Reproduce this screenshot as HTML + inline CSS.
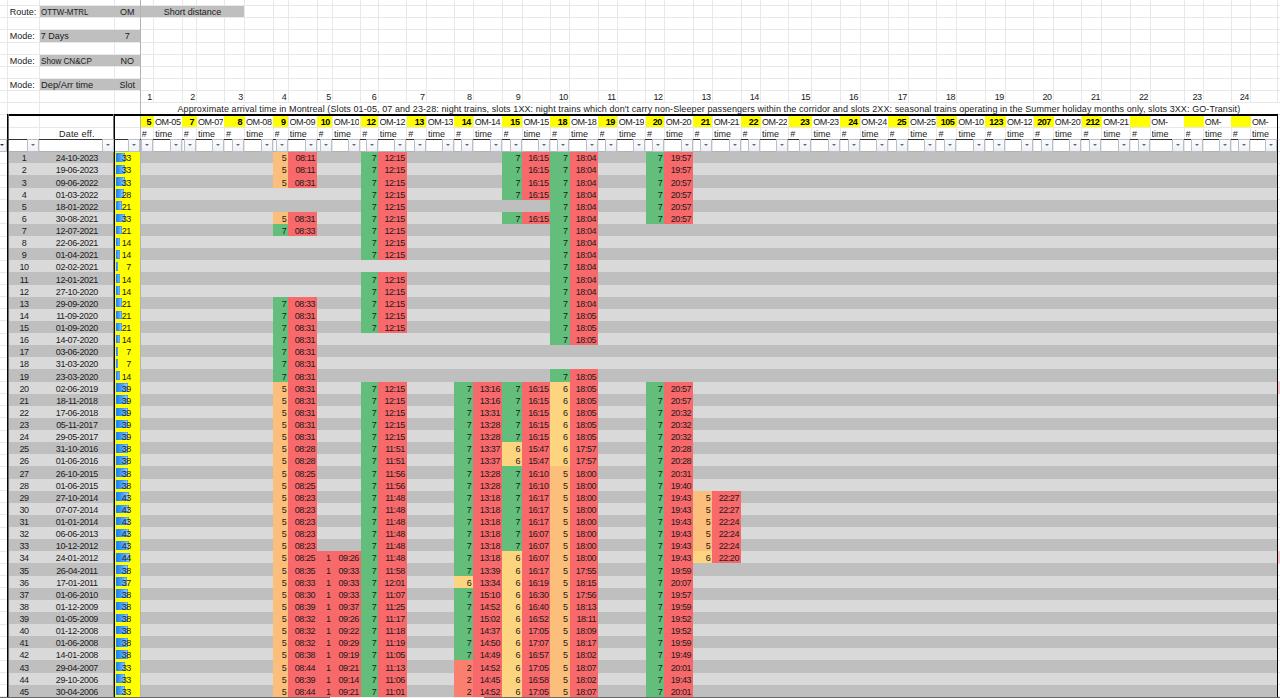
<!DOCTYPE html>
<html><head><meta charset="utf-8"><style>
html,body{margin:0;padding:0;background:#fff;width:1280px;height:698px;overflow:hidden;position:relative}
.r{position:absolute}
.t{position:absolute;font-family:"Liberation Sans",sans-serif;font-size:9.0px;color:#1b1b1b;white-space:nowrap;overflow:hidden}
.b{font-weight:bold;color:#000}
.n{letter-spacing:-0.45px;overflow:visible}
.d{letter-spacing:-0.4px}
.appr{overflow:visible}
.btn{position:absolute;box-sizing:border-box;width:12px;height:13px;border:1px solid #B9BFC8;background:linear-gradient(#FDFDFE,#EDF0F5)}
.btn i{position:absolute;left:3px;top:4px;width:0;height:0;border-left:2.5px solid transparent;border-right:2.5px solid transparent;border-top:2px solid #6a6a6a}
</style></head><body>
<div class="r" style="left:7px;top:0px;width:1px;height:151px;background:#E8E8E8;"></div>
<div class="r" style="left:39px;top:0px;width:1px;height:151px;background:#E8E8E8;"></div>
<div class="r" style="left:114px;top:0px;width:1px;height:151px;background:#E8E8E8;"></div>
<div class="r" style="left:140px;top:0px;width:1px;height:102px;background:#E8E8E8;"></div>
<div class="r" style="left:140px;top:115px;width:1px;height:36px;background:#E8E8E8;"></div>
<div class="r" style="left:153px;top:0px;width:1px;height:102px;background:#E8E8E8;"></div>
<div class="r" style="left:153px;top:115px;width:1px;height:36px;background:#E8E8E8;"></div>
<div class="r" style="left:182px;top:0px;width:1px;height:102px;background:#E8E8E8;"></div>
<div class="r" style="left:182px;top:115px;width:1px;height:36px;background:#E8E8E8;"></div>
<div class="r" style="left:196px;top:0px;width:1px;height:102px;background:#E8E8E8;"></div>
<div class="r" style="left:196px;top:115px;width:1px;height:36px;background:#E8E8E8;"></div>
<div class="r" style="left:224px;top:0px;width:1px;height:102px;background:#E8E8E8;"></div>
<div class="r" style="left:224px;top:115px;width:1px;height:36px;background:#E8E8E8;"></div>
<div class="r" style="left:244px;top:0px;width:1px;height:102px;background:#E8E8E8;"></div>
<div class="r" style="left:244px;top:115px;width:1px;height:36px;background:#E8E8E8;"></div>
<div class="r" style="left:273px;top:0px;width:1px;height:102px;background:#E8E8E8;"></div>
<div class="r" style="left:273px;top:115px;width:1px;height:36px;background:#E8E8E8;"></div>
<div class="r" style="left:288px;top:0px;width:1px;height:102px;background:#E8E8E8;"></div>
<div class="r" style="left:288px;top:115px;width:1px;height:36px;background:#E8E8E8;"></div>
<div class="r" style="left:317px;top:0px;width:1px;height:102px;background:#E8E8E8;"></div>
<div class="r" style="left:317px;top:115px;width:1px;height:36px;background:#E8E8E8;"></div>
<div class="r" style="left:332px;top:0px;width:1px;height:102px;background:#E8E8E8;"></div>
<div class="r" style="left:332px;top:115px;width:1px;height:36px;background:#E8E8E8;"></div>
<div class="r" style="left:360px;top:0px;width:1px;height:102px;background:#E8E8E8;"></div>
<div class="r" style="left:360px;top:115px;width:1px;height:36px;background:#E8E8E8;"></div>
<div class="r" style="left:378px;top:0px;width:1px;height:102px;background:#E8E8E8;"></div>
<div class="r" style="left:378px;top:115px;width:1px;height:36px;background:#E8E8E8;"></div>
<div class="r" style="left:406px;top:0px;width:1px;height:102px;background:#E8E8E8;"></div>
<div class="r" style="left:406px;top:115px;width:1px;height:36px;background:#E8E8E8;"></div>
<div class="r" style="left:426px;top:0px;width:1px;height:102px;background:#E8E8E8;"></div>
<div class="r" style="left:426px;top:115px;width:1px;height:36px;background:#E8E8E8;"></div>
<div class="r" style="left:454px;top:0px;width:1px;height:102px;background:#E8E8E8;"></div>
<div class="r" style="left:454px;top:115px;width:1px;height:36px;background:#E8E8E8;"></div>
<div class="r" style="left:473px;top:0px;width:1px;height:102px;background:#E8E8E8;"></div>
<div class="r" style="left:473px;top:115px;width:1px;height:36px;background:#E8E8E8;"></div>
<div class="r" style="left:502px;top:0px;width:1px;height:102px;background:#E8E8E8;"></div>
<div class="r" style="left:502px;top:115px;width:1px;height:36px;background:#E8E8E8;"></div>
<div class="r" style="left:522px;top:0px;width:1px;height:102px;background:#E8E8E8;"></div>
<div class="r" style="left:522px;top:115px;width:1px;height:36px;background:#E8E8E8;"></div>
<div class="r" style="left:550px;top:0px;width:1px;height:102px;background:#E8E8E8;"></div>
<div class="r" style="left:550px;top:115px;width:1px;height:36px;background:#E8E8E8;"></div>
<div class="r" style="left:569px;top:0px;width:1px;height:102px;background:#E8E8E8;"></div>
<div class="r" style="left:569px;top:115px;width:1px;height:36px;background:#E8E8E8;"></div>
<div class="r" style="left:598px;top:0px;width:1px;height:102px;background:#E8E8E8;"></div>
<div class="r" style="left:598px;top:115px;width:1px;height:36px;background:#E8E8E8;"></div>
<div class="r" style="left:617px;top:0px;width:1px;height:102px;background:#E8E8E8;"></div>
<div class="r" style="left:617px;top:115px;width:1px;height:36px;background:#E8E8E8;"></div>
<div class="r" style="left:645px;top:0px;width:1px;height:102px;background:#E8E8E8;"></div>
<div class="r" style="left:645px;top:115px;width:1px;height:36px;background:#E8E8E8;"></div>
<div class="r" style="left:664px;top:0px;width:1px;height:102px;background:#E8E8E8;"></div>
<div class="r" style="left:664px;top:115px;width:1px;height:36px;background:#E8E8E8;"></div>
<div class="r" style="left:693px;top:0px;width:1px;height:102px;background:#E8E8E8;"></div>
<div class="r" style="left:693px;top:115px;width:1px;height:36px;background:#E8E8E8;"></div>
<div class="r" style="left:712px;top:0px;width:1px;height:102px;background:#E8E8E8;"></div>
<div class="r" style="left:712px;top:115px;width:1px;height:36px;background:#E8E8E8;"></div>
<div class="r" style="left:741px;top:0px;width:1px;height:102px;background:#E8E8E8;"></div>
<div class="r" style="left:741px;top:115px;width:1px;height:36px;background:#E8E8E8;"></div>
<div class="r" style="left:760px;top:0px;width:1px;height:102px;background:#E8E8E8;"></div>
<div class="r" style="left:760px;top:115px;width:1px;height:36px;background:#E8E8E8;"></div>
<div class="r" style="left:788px;top:0px;width:1px;height:102px;background:#E8E8E8;"></div>
<div class="r" style="left:788px;top:115px;width:1px;height:36px;background:#E8E8E8;"></div>
<div class="r" style="left:811px;top:0px;width:1px;height:102px;background:#E8E8E8;"></div>
<div class="r" style="left:811px;top:115px;width:1px;height:36px;background:#E8E8E8;"></div>
<div class="r" style="left:840px;top:0px;width:1px;height:102px;background:#E8E8E8;"></div>
<div class="r" style="left:840px;top:115px;width:1px;height:36px;background:#E8E8E8;"></div>
<div class="r" style="left:860px;top:0px;width:1px;height:102px;background:#E8E8E8;"></div>
<div class="r" style="left:860px;top:115px;width:1px;height:36px;background:#E8E8E8;"></div>
<div class="r" style="left:888px;top:0px;width:1px;height:102px;background:#E8E8E8;"></div>
<div class="r" style="left:888px;top:115px;width:1px;height:36px;background:#E8E8E8;"></div>
<div class="r" style="left:908px;top:0px;width:1px;height:102px;background:#E8E8E8;"></div>
<div class="r" style="left:908px;top:115px;width:1px;height:36px;background:#E8E8E8;"></div>
<div class="r" style="left:936px;top:0px;width:1px;height:102px;background:#E8E8E8;"></div>
<div class="r" style="left:936px;top:115px;width:1px;height:36px;background:#E8E8E8;"></div>
<div class="r" style="left:956px;top:0px;width:1px;height:102px;background:#E8E8E8;"></div>
<div class="r" style="left:956px;top:115px;width:1px;height:36px;background:#E8E8E8;"></div>
<div class="r" style="left:985px;top:0px;width:1px;height:102px;background:#E8E8E8;"></div>
<div class="r" style="left:985px;top:115px;width:1px;height:36px;background:#E8E8E8;"></div>
<div class="r" style="left:1005px;top:0px;width:1px;height:102px;background:#E8E8E8;"></div>
<div class="r" style="left:1005px;top:115px;width:1px;height:36px;background:#E8E8E8;"></div>
<div class="r" style="left:1033px;top:0px;width:1px;height:102px;background:#E8E8E8;"></div>
<div class="r" style="left:1033px;top:115px;width:1px;height:36px;background:#E8E8E8;"></div>
<div class="r" style="left:1053px;top:0px;width:1px;height:102px;background:#E8E8E8;"></div>
<div class="r" style="left:1053px;top:115px;width:1px;height:36px;background:#E8E8E8;"></div>
<div class="r" style="left:1081px;top:0px;width:1px;height:102px;background:#E8E8E8;"></div>
<div class="r" style="left:1081px;top:115px;width:1px;height:36px;background:#E8E8E8;"></div>
<div class="r" style="left:1101px;top:0px;width:1px;height:102px;background:#E8E8E8;"></div>
<div class="r" style="left:1101px;top:115px;width:1px;height:36px;background:#E8E8E8;"></div>
<div class="r" style="left:1130px;top:0px;width:1px;height:102px;background:#E8E8E8;"></div>
<div class="r" style="left:1130px;top:115px;width:1px;height:36px;background:#E8E8E8;"></div>
<div class="r" style="left:1150px;top:0px;width:1px;height:102px;background:#E8E8E8;"></div>
<div class="r" style="left:1150px;top:115px;width:1px;height:36px;background:#E8E8E8;"></div>
<div class="r" style="left:1184px;top:0px;width:1px;height:102px;background:#E8E8E8;"></div>
<div class="r" style="left:1184px;top:115px;width:1px;height:36px;background:#E8E8E8;"></div>
<div class="r" style="left:1203px;top:0px;width:1px;height:102px;background:#E8E8E8;"></div>
<div class="r" style="left:1203px;top:115px;width:1px;height:36px;background:#E8E8E8;"></div>
<div class="r" style="left:1231px;top:0px;width:1px;height:102px;background:#E8E8E8;"></div>
<div class="r" style="left:1231px;top:115px;width:1px;height:36px;background:#E8E8E8;"></div>
<div class="r" style="left:1250px;top:0px;width:1px;height:102px;background:#E8E8E8;"></div>
<div class="r" style="left:1250px;top:115px;width:1px;height:36px;background:#E8E8E8;"></div>
<div class="r" style="left:1277px;top:0px;width:1px;height:102px;background:#E8E8E8;"></div>
<div class="r" style="left:1277px;top:115px;width:1px;height:36px;background:#E8E8E8;"></div>
<div class="r" style="left:0px;top:5px;width:1280px;height:1px;background:#E8E8E8;"></div>
<div class="r" style="left:0px;top:17px;width:1280px;height:1px;background:#E8E8E8;"></div>
<div class="r" style="left:0px;top:29px;width:1280px;height:1px;background:#E8E8E8;"></div>
<div class="r" style="left:0px;top:42px;width:1280px;height:1px;background:#E8E8E8;"></div>
<div class="r" style="left:0px;top:54px;width:1280px;height:1px;background:#E8E8E8;"></div>
<div class="r" style="left:0px;top:66px;width:1280px;height:1px;background:#E8E8E8;"></div>
<div class="r" style="left:0px;top:78px;width:1280px;height:1px;background:#E8E8E8;"></div>
<div class="r" style="left:0px;top:90px;width:1280px;height:1px;background:#E8E8E8;"></div>
<div class="r" style="left:0px;top:102px;width:1280px;height:1px;background:#E8E8E8;"></div>
<div class="r" style="left:0px;top:114px;width:1280px;height:1px;background:#E8E8E8;"></div>
<div class="r" style="left:0px;top:127px;width:1280px;height:1px;background:#E8E8E8;"></div>
<div class="r" style="left:0px;top:139px;width:1280px;height:1px;background:#E8E8E8;"></div>
<div class="r" style="left:0px;top:151px;width:1280px;height:1px;background:#E8E8E8;"></div>
<div class="r" style="left:0px;top:151px;width:7px;height:1px;background:#E8E8E8;"></div>
<div class="r" style="left:1278px;top:151px;width:2px;height:1px;background:#E8E8E8;"></div>
<div class="r" style="left:0px;top:163px;width:7px;height:1px;background:#E8E8E8;"></div>
<div class="r" style="left:1278px;top:163px;width:2px;height:1px;background:#E8E8E8;"></div>
<div class="r" style="left:0px;top:175px;width:7px;height:1px;background:#E8E8E8;"></div>
<div class="r" style="left:1278px;top:175px;width:2px;height:1px;background:#E8E8E8;"></div>
<div class="r" style="left:0px;top:187px;width:7px;height:1px;background:#E8E8E8;"></div>
<div class="r" style="left:1278px;top:187px;width:2px;height:1px;background:#E8E8E8;"></div>
<div class="r" style="left:0px;top:199px;width:7px;height:1px;background:#E8E8E8;"></div>
<div class="r" style="left:1278px;top:199px;width:2px;height:1px;background:#E8E8E8;"></div>
<div class="r" style="left:0px;top:211px;width:7px;height:1px;background:#E8E8E8;"></div>
<div class="r" style="left:1278px;top:211px;width:2px;height:1px;background:#E8E8E8;"></div>
<div class="r" style="left:0px;top:223px;width:7px;height:1px;background:#E8E8E8;"></div>
<div class="r" style="left:1278px;top:223px;width:2px;height:1px;background:#E8E8E8;"></div>
<div class="r" style="left:0px;top:236px;width:7px;height:1px;background:#E8E8E8;"></div>
<div class="r" style="left:1278px;top:236px;width:2px;height:1px;background:#E8E8E8;"></div>
<div class="r" style="left:0px;top:248px;width:7px;height:1px;background:#E8E8E8;"></div>
<div class="r" style="left:1278px;top:248px;width:2px;height:1px;background:#E8E8E8;"></div>
<div class="r" style="left:0px;top:260px;width:7px;height:1px;background:#E8E8E8;"></div>
<div class="r" style="left:1278px;top:260px;width:2px;height:1px;background:#E8E8E8;"></div>
<div class="r" style="left:0px;top:272px;width:7px;height:1px;background:#E8E8E8;"></div>
<div class="r" style="left:1278px;top:272px;width:2px;height:1px;background:#E8E8E8;"></div>
<div class="r" style="left:0px;top:284px;width:7px;height:1px;background:#E8E8E8;"></div>
<div class="r" style="left:1278px;top:284px;width:2px;height:1px;background:#E8E8E8;"></div>
<div class="r" style="left:0px;top:296px;width:7px;height:1px;background:#E8E8E8;"></div>
<div class="r" style="left:1278px;top:296px;width:2px;height:1px;background:#E8E8E8;"></div>
<div class="r" style="left:0px;top:308px;width:7px;height:1px;background:#E8E8E8;"></div>
<div class="r" style="left:1278px;top:308px;width:2px;height:1px;background:#E8E8E8;"></div>
<div class="r" style="left:0px;top:320px;width:7px;height:1px;background:#E8E8E8;"></div>
<div class="r" style="left:1278px;top:320px;width:2px;height:1px;background:#E8E8E8;"></div>
<div class="r" style="left:0px;top:333px;width:7px;height:1px;background:#E8E8E8;"></div>
<div class="r" style="left:1278px;top:333px;width:2px;height:1px;background:#E8E8E8;"></div>
<div class="r" style="left:0px;top:345px;width:7px;height:1px;background:#E8E8E8;"></div>
<div class="r" style="left:1278px;top:345px;width:2px;height:1px;background:#E8E8E8;"></div>
<div class="r" style="left:0px;top:357px;width:7px;height:1px;background:#E8E8E8;"></div>
<div class="r" style="left:1278px;top:357px;width:2px;height:1px;background:#E8E8E8;"></div>
<div class="r" style="left:0px;top:369px;width:7px;height:1px;background:#E8E8E8;"></div>
<div class="r" style="left:1278px;top:369px;width:2px;height:1px;background:#E8E8E8;"></div>
<div class="r" style="left:0px;top:381px;width:7px;height:1px;background:#E8E8E8;"></div>
<div class="r" style="left:1278px;top:381px;width:2px;height:1px;background:#E8E8E8;"></div>
<div class="r" style="left:0px;top:393px;width:7px;height:1px;background:#E8E8E8;"></div>
<div class="r" style="left:1278px;top:393px;width:2px;height:1px;background:#E8E8E8;"></div>
<div class="r" style="left:0px;top:405px;width:7px;height:1px;background:#E8E8E8;"></div>
<div class="r" style="left:1278px;top:405px;width:2px;height:1px;background:#E8E8E8;"></div>
<div class="r" style="left:0px;top:417px;width:7px;height:1px;background:#E8E8E8;"></div>
<div class="r" style="left:1278px;top:417px;width:2px;height:1px;background:#E8E8E8;"></div>
<div class="r" style="left:0px;top:430px;width:7px;height:1px;background:#E8E8E8;"></div>
<div class="r" style="left:1278px;top:430px;width:2px;height:1px;background:#E8E8E8;"></div>
<div class="r" style="left:0px;top:442px;width:7px;height:1px;background:#E8E8E8;"></div>
<div class="r" style="left:1278px;top:442px;width:2px;height:1px;background:#E8E8E8;"></div>
<div class="r" style="left:0px;top:454px;width:7px;height:1px;background:#E8E8E8;"></div>
<div class="r" style="left:1278px;top:454px;width:2px;height:1px;background:#E8E8E8;"></div>
<div class="r" style="left:0px;top:466px;width:7px;height:1px;background:#E8E8E8;"></div>
<div class="r" style="left:1278px;top:466px;width:2px;height:1px;background:#E8E8E8;"></div>
<div class="r" style="left:0px;top:478px;width:7px;height:1px;background:#E8E8E8;"></div>
<div class="r" style="left:1278px;top:478px;width:2px;height:1px;background:#E8E8E8;"></div>
<div class="r" style="left:0px;top:490px;width:7px;height:1px;background:#E8E8E8;"></div>
<div class="r" style="left:1278px;top:490px;width:2px;height:1px;background:#E8E8E8;"></div>
<div class="r" style="left:0px;top:502px;width:7px;height:1px;background:#E8E8E8;"></div>
<div class="r" style="left:1278px;top:502px;width:2px;height:1px;background:#E8E8E8;"></div>
<div class="r" style="left:0px;top:514px;width:7px;height:1px;background:#E8E8E8;"></div>
<div class="r" style="left:1278px;top:514px;width:2px;height:1px;background:#E8E8E8;"></div>
<div class="r" style="left:0px;top:527px;width:7px;height:1px;background:#E8E8E8;"></div>
<div class="r" style="left:1278px;top:527px;width:2px;height:1px;background:#E8E8E8;"></div>
<div class="r" style="left:0px;top:539px;width:7px;height:1px;background:#E8E8E8;"></div>
<div class="r" style="left:1278px;top:539px;width:2px;height:1px;background:#E8E8E8;"></div>
<div class="r" style="left:0px;top:551px;width:7px;height:1px;background:#E8E8E8;"></div>
<div class="r" style="left:1278px;top:551px;width:2px;height:1px;background:#E8E8E8;"></div>
<div class="r" style="left:0px;top:563px;width:7px;height:1px;background:#E8E8E8;"></div>
<div class="r" style="left:1278px;top:563px;width:2px;height:1px;background:#E8E8E8;"></div>
<div class="r" style="left:0px;top:575px;width:7px;height:1px;background:#E8E8E8;"></div>
<div class="r" style="left:1278px;top:575px;width:2px;height:1px;background:#E8E8E8;"></div>
<div class="r" style="left:0px;top:587px;width:7px;height:1px;background:#E8E8E8;"></div>
<div class="r" style="left:1278px;top:587px;width:2px;height:1px;background:#E8E8E8;"></div>
<div class="r" style="left:0px;top:599px;width:7px;height:1px;background:#E8E8E8;"></div>
<div class="r" style="left:1278px;top:599px;width:2px;height:1px;background:#E8E8E8;"></div>
<div class="r" style="left:0px;top:611px;width:7px;height:1px;background:#E8E8E8;"></div>
<div class="r" style="left:1278px;top:611px;width:2px;height:1px;background:#E8E8E8;"></div>
<div class="r" style="left:0px;top:624px;width:7px;height:1px;background:#E8E8E8;"></div>
<div class="r" style="left:1278px;top:624px;width:2px;height:1px;background:#E8E8E8;"></div>
<div class="r" style="left:0px;top:636px;width:7px;height:1px;background:#E8E8E8;"></div>
<div class="r" style="left:1278px;top:636px;width:2px;height:1px;background:#E8E8E8;"></div>
<div class="r" style="left:0px;top:648px;width:7px;height:1px;background:#E8E8E8;"></div>
<div class="r" style="left:1278px;top:648px;width:2px;height:1px;background:#E8E8E8;"></div>
<div class="r" style="left:0px;top:660px;width:7px;height:1px;background:#E8E8E8;"></div>
<div class="r" style="left:1278px;top:660px;width:2px;height:1px;background:#E8E8E8;"></div>
<div class="r" style="left:0px;top:672px;width:7px;height:1px;background:#E8E8E8;"></div>
<div class="r" style="left:1278px;top:672px;width:2px;height:1px;background:#E8E8E8;"></div>
<div class="r" style="left:0px;top:684px;width:7px;height:1px;background:#E8E8E8;"></div>
<div class="r" style="left:1278px;top:684px;width:2px;height:1px;background:#E8E8E8;"></div>
<div class="r" style="left:0px;top:696px;width:7px;height:1px;background:#E8E8E8;"></div>
<div class="r" style="left:1278px;top:696px;width:2px;height:1px;background:#E8E8E8;"></div>
<div class="t" style="left:9.70px;top:6.10px;width:27.60px;height:12.10px;line-height:12.10px;text-align:left;">Route:</div>
<div class="r" style="left:40px;top:6px;width:100px;height:11px;background:#BFBFBF;"></div>
<div class="t" style="left:40.80px;top:6.10px;width:72.10px;height:12.10px;line-height:12.10px;text-align:left;transform:scaleX(0.88);transform-origin:0 0;overflow:visible;">OTTW-MTRL</div>
<div class="t" style="left:114.40px;top:6.10px;width:25.90px;height:12.10px;line-height:12.10px;text-align:center;">OM</div>
<div class="t" style="left:9.70px;top:30.30px;width:27.60px;height:12.20px;line-height:12.20px;text-align:left;">Mode:</div>
<div class="r" style="left:40px;top:30px;width:100px;height:12px;background:#BFBFBF;"></div>
<div class="t" style="left:40.80px;top:30.30px;width:72.10px;height:12.20px;line-height:12.20px;text-align:left;transform:scaleX(1);transform-origin:0 0;overflow:visible;">7 Days</div>
<div class="t" style="left:114.40px;top:30.30px;width:25.90px;height:12.20px;line-height:12.20px;text-align:center;">7</div>
<div class="t" style="left:9.70px;top:54.70px;width:27.60px;height:12.20px;line-height:12.20px;text-align:left;">Mode:</div>
<div class="r" style="left:40px;top:55px;width:100px;height:11px;background:#BFBFBF;"></div>
<div class="t" style="left:40.80px;top:54.70px;width:72.10px;height:12.20px;line-height:12.20px;text-align:left;transform:scaleX(0.9);transform-origin:0 0;overflow:visible;">Show CN&amp;CP</div>
<div class="t" style="left:114.40px;top:54.70px;width:25.90px;height:12.20px;line-height:12.20px;text-align:center;">NO</div>
<div class="t" style="left:9.70px;top:79.00px;width:27.60px;height:12.00px;line-height:12.00px;text-align:left;">Mode:</div>
<div class="r" style="left:40px;top:79px;width:100px;height:11px;background:#BFBFBF;"></div>
<div class="t" style="left:40.80px;top:79.00px;width:72.10px;height:12.00px;line-height:12.00px;text-align:left;transform:scaleX(1.035);transform-origin:0 0;overflow:visible;">Dep/Arr time</div>
<div class="t" style="left:114.40px;top:79.00px;width:25.90px;height:12.00px;line-height:12.00px;text-align:center;">Slot</div>
<div class="r" style="left:141px;top:6px;width:103px;height:11px;background:#BFBFBF;"></div>
<div class="t" style="left:140.30px;top:6.10px;width:104.40px;height:12.10px;line-height:12.10px;text-align:center;">Short distance</div>
<div class="t n" style="left:142.10px;top:91.50px;width:9.80px;height:11.80px;line-height:11.80px;text-align:right;">1</div>
<div class="t n" style="left:184.10px;top:91.50px;width:10.70px;height:11.80px;line-height:11.80px;text-align:right;">2</div>
<div class="t n" style="left:226.20px;top:91.50px;width:16.70px;height:11.80px;line-height:11.80px;text-align:right;">3</div>
<div class="t n" style="left:274.80px;top:91.50px;width:11.60px;height:11.80px;line-height:11.80px;text-align:right;">4</div>
<div class="t n" style="left:318.90px;top:91.50px;width:11.80px;height:11.80px;line-height:11.80px;text-align:right;">5</div>
<div class="t n" style="left:362.60px;top:91.50px;width:13.80px;height:11.80px;line-height:11.80px;text-align:right;">6</div>
<div class="t n" style="left:408.60px;top:91.50px;width:16.00px;height:11.80px;line-height:11.80px;text-align:right;">7</div>
<div class="t n" style="left:456.20px;top:91.50px;width:15.40px;height:11.80px;line-height:11.80px;text-align:right;">8</div>
<div class="t n" style="left:503.80px;top:91.50px;width:16.50px;height:11.80px;line-height:11.80px;text-align:right;">9</div>
<div class="t n" style="left:552.30px;top:91.50px;width:15.50px;height:11.80px;line-height:11.80px;text-align:right;">10</div>
<div class="t n" style="left:599.90px;top:91.50px;width:15.70px;height:11.80px;line-height:11.80px;text-align:right;">11</div>
<div class="t n" style="left:647.40px;top:91.50px;width:15.20px;height:11.80px;line-height:11.80px;text-align:right;">12</div>
<div class="t n" style="left:694.90px;top:91.50px;width:15.70px;height:11.80px;line-height:11.80px;text-align:right;">13</div>
<div class="t n" style="left:742.80px;top:91.50px;width:16.00px;height:11.80px;line-height:11.80px;text-align:right;">14</div>
<div class="t n" style="left:790.60px;top:91.50px;width:19.50px;height:11.80px;line-height:11.80px;text-align:right;">15</div>
<div class="t n" style="left:841.80px;top:91.50px;width:16.40px;height:11.80px;line-height:11.80px;text-align:right;">16</div>
<div class="t n" style="left:889.90px;top:91.50px;width:17.05px;height:11.80px;line-height:11.80px;text-align:right;">17</div>
<div class="t n" style="left:938.70px;top:91.50px;width:16.40px;height:11.80px;line-height:11.80px;text-align:right;">18</div>
<div class="t n" style="left:986.80px;top:91.50px;width:17.00px;height:11.80px;line-height:11.80px;text-align:right;">19</div>
<div class="t n" style="left:1035.30px;top:91.50px;width:16.40px;height:11.80px;line-height:11.80px;text-align:right;">20</div>
<div class="t n" style="left:1083.70px;top:91.50px;width:16.40px;height:11.80px;line-height:11.80px;text-align:right;">21</div>
<div class="t n" style="left:1132.20px;top:91.50px;width:16.00px;height:11.80px;line-height:11.80px;text-align:right;">22</div>
<div class="t n" style="left:1185.90px;top:91.50px;width:15.80px;height:11.80px;line-height:11.80px;text-align:right;">23</div>
<div class="t n" style="left:1233.05px;top:91.50px;width:15.75px;height:11.80px;line-height:11.80px;text-align:right;">24</div>
<div class="t appr" style="left:140.30px;top:102.80px;width:1137.20px;height:12.30px;line-height:12.30px;text-align:center;letter-spacing:0.09px;">Approximate arrival time in Montreal (Slots 01-05, 07 and 23-28: night trains, slots 1XX: night trains which don't carry non-Sleeper passengers within the corridor and slots 2XX: seasonal trains operating in the Summer holiday months only, slots 3XX: GO-Transit)</div>
<div class="r" style="left:140px;top:116px;width:14px;height:11px;background:#FFFF00;"></div>
<div class="t n b" style="left:142.90px;top:115.70px;width:8.20px;height:13.20px;line-height:13.20px;text-align:right;">5</div>
<div class="t" style="left:155.00px;top:115.70px;width:26.00px;height:13.20px;line-height:13.20px;text-align:left;letter-spacing:-0.4px;">OM-05</div>
<div class="t" style="left:141.80px;top:128.90px;width:10.40px;height:11.60px;line-height:11.60px;text-align:left;">#</div>
<div class="t" style="left:155.20px;top:128.90px;width:25.60px;height:11.60px;line-height:11.60px;text-align:left;">time</div>
<div class="r" style="left:182px;top:116px;width:15px;height:11px;background:#FFFF00;"></div>
<div class="t n b" style="left:184.90px;top:115.70px;width:9.10px;height:13.20px;line-height:13.20px;text-align:right;">7</div>
<div class="t" style="left:197.90px;top:115.70px;width:25.20px;height:13.20px;line-height:13.20px;text-align:left;letter-spacing:-0.4px;">OM-07</div>
<div class="t" style="left:183.80px;top:128.90px;width:11.30px;height:11.60px;line-height:11.60px;text-align:left;">#</div>
<div class="t" style="left:198.10px;top:128.90px;width:24.80px;height:11.60px;line-height:11.60px;text-align:left;">time</div>
<div class="r" style="left:224px;top:116px;width:21px;height:11px;background:#FFFF00;"></div>
<div class="t n b" style="left:227.00px;top:115.70px;width:15.10px;height:13.20px;line-height:13.20px;text-align:right;">8</div>
<div class="t" style="left:246.00px;top:115.70px;width:25.70px;height:13.20px;line-height:13.20px;text-align:left;letter-spacing:-0.4px;">OM-08</div>
<div class="t" style="left:225.90px;top:128.90px;width:17.30px;height:11.60px;line-height:11.60px;text-align:left;">#</div>
<div class="t" style="left:246.20px;top:128.90px;width:25.30px;height:11.60px;line-height:11.60px;text-align:left;">time</div>
<div class="r" style="left:273px;top:116px;width:15px;height:11px;background:#FFFF00;"></div>
<div class="t n b" style="left:275.60px;top:115.70px;width:10.00px;height:13.20px;line-height:13.20px;text-align:right;">9</div>
<div class="t" style="left:289.50px;top:115.70px;width:26.30px;height:13.20px;line-height:13.20px;text-align:left;letter-spacing:-0.4px;">OM-09</div>
<div class="t" style="left:274.50px;top:128.90px;width:12.20px;height:11.60px;line-height:11.60px;text-align:left;">#</div>
<div class="t" style="left:289.70px;top:128.90px;width:25.90px;height:11.60px;line-height:11.60px;text-align:left;">time</div>
<div class="r" style="left:317px;top:116px;width:15px;height:11px;background:#FFFF00;"></div>
<div class="t n b" style="left:319.70px;top:115.70px;width:10.20px;height:13.20px;line-height:13.20px;text-align:right;">10</div>
<div class="t" style="left:333.80px;top:115.70px;width:25.70px;height:13.20px;line-height:13.20px;text-align:left;letter-spacing:-0.4px;">OM-10</div>
<div class="t" style="left:318.60px;top:128.90px;width:12.40px;height:11.60px;line-height:11.60px;text-align:left;">#</div>
<div class="t" style="left:334.00px;top:128.90px;width:25.30px;height:11.60px;line-height:11.60px;text-align:left;">time</div>
<div class="r" style="left:361px;top:116px;width:17px;height:11px;background:#FFFF00;"></div>
<div class="t n b" style="left:363.40px;top:115.70px;width:12.20px;height:13.20px;line-height:13.20px;text-align:right;">12</div>
<div class="t" style="left:379.50px;top:115.70px;width:26.00px;height:13.20px;line-height:13.20px;text-align:left;letter-spacing:-0.4px;">OM-12</div>
<div class="t" style="left:362.30px;top:128.90px;width:14.40px;height:11.60px;line-height:11.60px;text-align:left;">#</div>
<div class="t" style="left:379.70px;top:128.90px;width:25.60px;height:11.60px;line-height:11.60px;text-align:left;">time</div>
<div class="r" style="left:407px;top:116px;width:19px;height:11px;background:#FFFF00;"></div>
<div class="t n b" style="left:409.40px;top:115.70px;width:14.40px;height:13.20px;line-height:13.20px;text-align:right;">13</div>
<div class="t" style="left:427.70px;top:115.70px;width:25.40px;height:13.20px;line-height:13.20px;text-align:left;letter-spacing:-0.4px;">OM-13</div>
<div class="t" style="left:408.30px;top:128.90px;width:16.60px;height:11.60px;line-height:11.60px;text-align:left;">#</div>
<div class="t" style="left:427.90px;top:128.90px;width:25.00px;height:11.60px;line-height:11.60px;text-align:left;">time</div>
<div class="r" style="left:454px;top:116px;width:19px;height:11px;background:#FFFF00;"></div>
<div class="t n b" style="left:457.00px;top:115.70px;width:13.80px;height:13.20px;line-height:13.20px;text-align:right;">14</div>
<div class="t" style="left:474.70px;top:115.70px;width:26.00px;height:13.20px;line-height:13.20px;text-align:left;letter-spacing:-0.4px;">OM-14</div>
<div class="t" style="left:455.90px;top:128.90px;width:16.00px;height:11.60px;line-height:11.60px;text-align:left;">#</div>
<div class="t" style="left:474.90px;top:128.90px;width:25.60px;height:11.60px;line-height:11.60px;text-align:left;">time</div>
<div class="r" style="left:502px;top:116px;width:20px;height:11px;background:#FFFF00;"></div>
<div class="t n b" style="left:504.60px;top:115.70px;width:14.90px;height:13.20px;line-height:13.20px;text-align:right;">15</div>
<div class="t" style="left:523.40px;top:115.70px;width:25.80px;height:13.20px;line-height:13.20px;text-align:left;letter-spacing:-0.4px;">OM-15</div>
<div class="t" style="left:503.50px;top:128.90px;width:17.10px;height:11.60px;line-height:11.60px;text-align:left;">#</div>
<div class="t" style="left:523.60px;top:128.90px;width:25.40px;height:11.60px;line-height:11.60px;text-align:left;">time</div>
<div class="r" style="left:550px;top:116px;width:20px;height:11px;background:#FFFF00;"></div>
<div class="t n b" style="left:553.10px;top:115.70px;width:13.90px;height:13.20px;line-height:13.20px;text-align:right;">18</div>
<div class="t" style="left:570.90px;top:115.70px;width:25.90px;height:13.20px;line-height:13.20px;text-align:left;letter-spacing:-0.4px;">OM-18</div>
<div class="t" style="left:552.00px;top:128.90px;width:16.10px;height:11.60px;line-height:11.60px;text-align:left;">#</div>
<div class="t" style="left:571.10px;top:128.90px;width:25.50px;height:11.60px;line-height:11.60px;text-align:left;">time</div>
<div class="r" style="left:598px;top:116px;width:19px;height:11px;background:#FFFF00;"></div>
<div class="t n b" style="left:600.70px;top:115.70px;width:14.10px;height:13.20px;line-height:13.20px;text-align:right;">19</div>
<div class="t" style="left:618.70px;top:115.70px;width:25.60px;height:13.20px;line-height:13.20px;text-align:left;letter-spacing:-0.4px;">OM-19</div>
<div class="t" style="left:599.60px;top:128.90px;width:16.30px;height:11.60px;line-height:11.60px;text-align:left;">#</div>
<div class="t" style="left:618.90px;top:128.90px;width:25.20px;height:11.60px;line-height:11.60px;text-align:left;">time</div>
<div class="r" style="left:646px;top:116px;width:18px;height:11px;background:#FFFF00;"></div>
<div class="t n b" style="left:648.20px;top:115.70px;width:13.60px;height:13.20px;line-height:13.20px;text-align:right;">20</div>
<div class="t" style="left:665.70px;top:115.70px;width:26.10px;height:13.20px;line-height:13.20px;text-align:left;letter-spacing:-0.4px;">OM-20</div>
<div class="t" style="left:647.10px;top:128.90px;width:15.80px;height:11.60px;line-height:11.60px;text-align:left;">#</div>
<div class="t" style="left:665.90px;top:128.90px;width:25.70px;height:11.60px;line-height:11.60px;text-align:left;">time</div>
<div class="r" style="left:693px;top:116px;width:19px;height:11px;background:#FFFF00;"></div>
<div class="t n b" style="left:695.70px;top:115.70px;width:14.10px;height:13.20px;line-height:13.20px;text-align:right;">21</div>
<div class="t" style="left:713.70px;top:115.70px;width:26.00px;height:13.20px;line-height:13.20px;text-align:left;letter-spacing:-0.4px;">OM-21</div>
<div class="t" style="left:694.60px;top:128.90px;width:16.30px;height:11.60px;line-height:11.60px;text-align:left;">#</div>
<div class="t" style="left:713.90px;top:128.90px;width:25.60px;height:11.60px;line-height:11.60px;text-align:left;">time</div>
<div class="r" style="left:741px;top:116px;width:20px;height:11px;background:#FFFF00;"></div>
<div class="t n b" style="left:743.60px;top:115.70px;width:14.40px;height:13.20px;line-height:13.20px;text-align:right;">22</div>
<div class="t" style="left:761.90px;top:115.70px;width:25.60px;height:13.20px;line-height:13.20px;text-align:left;letter-spacing:-0.4px;">OM-22</div>
<div class="t" style="left:742.50px;top:128.90px;width:16.60px;height:11.60px;line-height:11.60px;text-align:left;">#</div>
<div class="t" style="left:762.10px;top:128.90px;width:25.20px;height:11.60px;line-height:11.60px;text-align:left;">time</div>
<div class="r" style="left:789px;top:116px;width:23px;height:11px;background:#FFFF00;"></div>
<div class="t n b" style="left:791.40px;top:115.70px;width:17.90px;height:13.20px;line-height:13.20px;text-align:right;">23</div>
<div class="t" style="left:813.20px;top:115.70px;width:25.50px;height:13.20px;line-height:13.20px;text-align:left;letter-spacing:-0.4px;">OM-23</div>
<div class="t" style="left:790.30px;top:128.90px;width:20.10px;height:11.60px;line-height:11.60px;text-align:left;">#</div>
<div class="t" style="left:813.40px;top:128.90px;width:25.10px;height:11.60px;line-height:11.60px;text-align:left;">time</div>
<div class="r" style="left:840px;top:116px;width:20px;height:11px;background:#FFFF00;"></div>
<div class="t n b" style="left:842.60px;top:115.70px;width:14.80px;height:13.20px;line-height:13.20px;text-align:right;">24</div>
<div class="t" style="left:861.30px;top:115.70px;width:25.50px;height:13.20px;line-height:13.20px;text-align:left;letter-spacing:-0.4px;">OM-24</div>
<div class="t" style="left:841.50px;top:128.90px;width:17.00px;height:11.60px;line-height:11.60px;text-align:left;">#</div>
<div class="t" style="left:861.50px;top:128.90px;width:25.10px;height:11.60px;line-height:11.60px;text-align:left;">time</div>
<div class="r" style="left:888px;top:116px;width:21px;height:11px;background:#FFFF00;"></div>
<div class="t n b" style="left:890.70px;top:115.70px;width:15.45px;height:13.20px;line-height:13.20px;text-align:right;">25</div>
<div class="t" style="left:910.05px;top:115.70px;width:25.55px;height:13.20px;line-height:13.20px;text-align:left;letter-spacing:-0.4px;">OM-25</div>
<div class="t" style="left:889.60px;top:128.90px;width:17.65px;height:11.60px;line-height:11.60px;text-align:left;">#</div>
<div class="t" style="left:910.25px;top:128.90px;width:25.15px;height:11.60px;line-height:11.60px;text-align:left;">time</div>
<div class="r" style="left:937px;top:116px;width:20px;height:11px;background:#FFFF00;"></div>
<div class="t n b" style="left:939.50px;top:115.70px;width:14.80px;height:13.20px;line-height:13.20px;text-align:right;">105</div>
<div class="t" style="left:958.20px;top:115.70px;width:25.50px;height:13.20px;line-height:13.20px;text-align:left;letter-spacing:-0.4px;">OM-105</div>
<div class="t" style="left:938.40px;top:128.90px;width:17.00px;height:11.60px;line-height:11.60px;text-align:left;">#</div>
<div class="t" style="left:958.40px;top:128.90px;width:25.10px;height:11.60px;line-height:11.60px;text-align:left;">time</div>
<div class="r" style="left:985px;top:116px;width:21px;height:11px;background:#FFFF00;"></div>
<div class="t n b" style="left:987.60px;top:115.70px;width:15.40px;height:13.20px;line-height:13.20px;text-align:right;">123</div>
<div class="t" style="left:1006.90px;top:115.70px;width:25.30px;height:13.20px;line-height:13.20px;text-align:left;letter-spacing:-0.4px;">OM-123</div>
<div class="t" style="left:986.50px;top:128.90px;width:17.60px;height:11.60px;line-height:11.60px;text-align:left;">#</div>
<div class="t" style="left:1007.10px;top:128.90px;width:24.90px;height:11.60px;line-height:11.60px;text-align:left;">time</div>
<div class="r" style="left:1034px;top:116px;width:20px;height:11px;background:#FFFF00;"></div>
<div class="t n b" style="left:1036.10px;top:115.70px;width:14.80px;height:13.20px;line-height:13.20px;text-align:right;">207</div>
<div class="t" style="left:1054.80px;top:115.70px;width:25.80px;height:13.20px;line-height:13.20px;text-align:left;letter-spacing:-0.4px;">OM-207</div>
<div class="t" style="left:1035.00px;top:128.90px;width:17.00px;height:11.60px;line-height:11.60px;text-align:left;">#</div>
<div class="t" style="left:1055.00px;top:128.90px;width:25.40px;height:11.60px;line-height:11.60px;text-align:left;">time</div>
<div class="r" style="left:1082px;top:116px;width:20px;height:11px;background:#FFFF00;"></div>
<div class="t n b" style="left:1084.50px;top:115.70px;width:14.80px;height:13.20px;line-height:13.20px;text-align:right;">212</div>
<div class="t" style="left:1103.20px;top:115.70px;width:25.90px;height:13.20px;line-height:13.20px;text-align:left;letter-spacing:-0.4px;">OM-212</div>
<div class="t" style="left:1083.40px;top:128.90px;width:17.00px;height:11.60px;line-height:11.60px;text-align:left;">#</div>
<div class="t" style="left:1103.40px;top:128.90px;width:25.50px;height:11.60px;line-height:11.60px;text-align:left;">time</div>
<div class="r" style="left:1130px;top:116px;width:20px;height:11px;background:#FFFF00;"></div>
<div class="t" style="left:1151.30px;top:115.70px;width:31.50px;height:13.20px;line-height:13.20px;text-align:left;letter-spacing:-0.4px;">OM-</div>
<div class="t" style="left:1131.90px;top:128.90px;width:16.60px;height:11.60px;line-height:11.60px;text-align:left;">#</div>
<div class="t" style="left:1151.50px;top:128.90px;width:31.10px;height:11.60px;line-height:11.60px;text-align:left;">time</div>
<div class="r" style="left:1184px;top:116px;width:20px;height:11px;background:#FFFF00;"></div>
<div class="t" style="left:1204.80px;top:115.70px;width:25.15px;height:13.20px;line-height:13.20px;text-align:left;letter-spacing:-0.4px;">OM-</div>
<div class="t" style="left:1185.60px;top:128.90px;width:16.40px;height:11.60px;line-height:11.60px;text-align:left;">#</div>
<div class="t" style="left:1205.00px;top:128.90px;width:24.75px;height:11.60px;line-height:11.60px;text-align:left;">time</div>
<div class="r" style="left:1231px;top:116px;width:20px;height:11px;background:#FFFF00;"></div>
<div class="t" style="left:1251.90px;top:115.70px;width:24.30px;height:13.20px;line-height:13.20px;text-align:left;letter-spacing:-0.4px;">OM-</div>
<div class="t" style="left:1232.75px;top:128.90px;width:16.35px;height:11.60px;line-height:11.60px;text-align:left;">#</div>
<div class="t" style="left:1252.10px;top:128.90px;width:23.90px;height:11.60px;line-height:11.60px;text-align:left;">time</div>
<div class="t" style="left:39.30px;top:128.90px;width:75.10px;height:11.60px;line-height:11.60px;text-align:center;letter-spacing:0.2px;">Date eff.</div>
<div class="r" style="left:8px;top:151px;width:1270px;height:12px;background:#BFBFBF;"></div>
<div class="t n" style="left:8.70px;top:152.30px;width:30.60px;height:12.12px;line-height:12.12px;text-align:center;">1</div>
<div class="t n d" style="left:39.30px;top:152.30px;width:75.10px;height:12.12px;line-height:12.12px;text-align:center;">24-10-2023</div>
<div class="r" style="left:114px;top:151px;width:26px;height:12px;background:#FFFF00;"></div>
<div class="r" style="left:116.00px;top:152.90px;width:9.30px;height:8.73px;background:linear-gradient(90deg,#0A7CF5,#4FA6FA 55%,#A8D4FF);box-shadow:inset 0 0 0 0.6px #2F8AF0;"></div>
<div class="t n" style="left:116.00px;top:152.30px;width:14.90px;height:12.12px;line-height:12.12px;text-align:right;">33</div>
<div class="r" style="left:273px;top:151px;width:15px;height:12px;background:#FBBE7B;"></div>
<div class="r" style="left:288px;top:151px;width:29px;height:12px;background:#F8696B;"></div>
<div class="t n" style="left:275.00px;top:152.30px;width:11.20px;height:12.12px;line-height:12.12px;text-align:right;">5</div>
<div class="t n" style="left:290.20px;top:152.30px;width:24.90px;height:12.12px;line-height:12.12px;text-align:right;">08:11</div>
<div class="r" style="left:361px;top:151px;width:17px;height:12px;background:#63BE7B;"></div>
<div class="r" style="left:378px;top:151px;width:29px;height:12px;background:#F8696B;"></div>
<div class="t n" style="left:362.80px;top:152.30px;width:13.40px;height:12.12px;line-height:12.12px;text-align:right;">7</div>
<div class="t n" style="left:380.20px;top:152.30px;width:24.60px;height:12.12px;line-height:12.12px;text-align:right;">12:15</div>
<div class="r" style="left:502px;top:151px;width:20px;height:12px;background:#63BE7B;"></div>
<div class="r" style="left:522px;top:151px;width:28px;height:12px;background:#F8696B;"></div>
<div class="t n" style="left:504.00px;top:152.30px;width:16.10px;height:12.12px;line-height:12.12px;text-align:right;">7</div>
<div class="t n" style="left:524.10px;top:152.30px;width:24.40px;height:12.12px;line-height:12.12px;text-align:right;">16:15</div>
<div class="r" style="left:550px;top:151px;width:20px;height:12px;background:#63BE7B;"></div>
<div class="r" style="left:570px;top:151px;width:28px;height:12px;background:#F8696B;"></div>
<div class="t n" style="left:552.50px;top:152.30px;width:15.10px;height:12.12px;line-height:12.12px;text-align:right;">7</div>
<div class="t n" style="left:571.60px;top:152.30px;width:24.50px;height:12.12px;line-height:12.12px;text-align:right;">18:04</div>
<div class="r" style="left:646px;top:151px;width:18px;height:12px;background:#63BE7B;"></div>
<div class="r" style="left:664px;top:151px;width:29px;height:12px;background:#F8696B;"></div>
<div class="t n" style="left:647.60px;top:152.30px;width:14.80px;height:12.12px;line-height:12.12px;text-align:right;">7</div>
<div class="t n" style="left:666.40px;top:152.30px;width:24.70px;height:12.12px;line-height:12.12px;text-align:right;">19:57</div>
<div class="r" style="left:8px;top:163px;width:1270px;height:12px;background:#D9D9D9;"></div>
<div class="t n" style="left:8.70px;top:164.42px;width:30.60px;height:12.12px;line-height:12.12px;text-align:center;">2</div>
<div class="t n d" style="left:39.30px;top:164.42px;width:75.10px;height:12.12px;line-height:12.12px;text-align:center;">19-06-2023</div>
<div class="r" style="left:114px;top:163px;width:26px;height:12px;background:#FFFF00;"></div>
<div class="r" style="left:116.00px;top:165.02px;width:9.30px;height:8.73px;background:linear-gradient(90deg,#0A7CF5,#4FA6FA 55%,#A8D4FF);box-shadow:inset 0 0 0 0.6px #2F8AF0;"></div>
<div class="t n" style="left:116.00px;top:164.42px;width:14.90px;height:12.12px;line-height:12.12px;text-align:right;">33</div>
<div class="r" style="left:273px;top:163px;width:15px;height:12px;background:#FBBE7B;"></div>
<div class="r" style="left:288px;top:163px;width:29px;height:12px;background:#F8696B;"></div>
<div class="t n" style="left:275.00px;top:164.42px;width:11.20px;height:12.12px;line-height:12.12px;text-align:right;">5</div>
<div class="t n" style="left:290.20px;top:164.42px;width:24.90px;height:12.12px;line-height:12.12px;text-align:right;">08:11</div>
<div class="r" style="left:361px;top:163px;width:17px;height:12px;background:#63BE7B;"></div>
<div class="r" style="left:378px;top:163px;width:29px;height:12px;background:#F8696B;"></div>
<div class="t n" style="left:362.80px;top:164.42px;width:13.40px;height:12.12px;line-height:12.12px;text-align:right;">7</div>
<div class="t n" style="left:380.20px;top:164.42px;width:24.60px;height:12.12px;line-height:12.12px;text-align:right;">12:15</div>
<div class="r" style="left:502px;top:163px;width:20px;height:12px;background:#63BE7B;"></div>
<div class="r" style="left:522px;top:163px;width:28px;height:12px;background:#F8696B;"></div>
<div class="t n" style="left:504.00px;top:164.42px;width:16.10px;height:12.12px;line-height:12.12px;text-align:right;">7</div>
<div class="t n" style="left:524.10px;top:164.42px;width:24.40px;height:12.12px;line-height:12.12px;text-align:right;">16:15</div>
<div class="r" style="left:550px;top:163px;width:20px;height:12px;background:#63BE7B;"></div>
<div class="r" style="left:570px;top:163px;width:28px;height:12px;background:#F8696B;"></div>
<div class="t n" style="left:552.50px;top:164.42px;width:15.10px;height:12.12px;line-height:12.12px;text-align:right;">7</div>
<div class="t n" style="left:571.60px;top:164.42px;width:24.50px;height:12.12px;line-height:12.12px;text-align:right;">18:04</div>
<div class="r" style="left:646px;top:163px;width:18px;height:12px;background:#63BE7B;"></div>
<div class="r" style="left:664px;top:163px;width:29px;height:12px;background:#F8696B;"></div>
<div class="t n" style="left:647.60px;top:164.42px;width:14.80px;height:12.12px;line-height:12.12px;text-align:right;">7</div>
<div class="t n" style="left:666.40px;top:164.42px;width:24.70px;height:12.12px;line-height:12.12px;text-align:right;">19:57</div>
<div class="r" style="left:8px;top:175px;width:1270px;height:13px;background:#BFBFBF;"></div>
<div class="t n" style="left:8.70px;top:176.55px;width:30.60px;height:12.12px;line-height:12.12px;text-align:center;">3</div>
<div class="t n d" style="left:39.30px;top:176.55px;width:75.10px;height:12.12px;line-height:12.12px;text-align:center;">09-06-2022</div>
<div class="r" style="left:114px;top:175px;width:26px;height:13px;background:#FFFF00;"></div>
<div class="r" style="left:116.00px;top:177.15px;width:9.30px;height:8.73px;background:linear-gradient(90deg,#0A7CF5,#4FA6FA 55%,#A8D4FF);box-shadow:inset 0 0 0 0.6px #2F8AF0;"></div>
<div class="t n" style="left:116.00px;top:176.55px;width:14.90px;height:12.12px;line-height:12.12px;text-align:right;">33</div>
<div class="r" style="left:273px;top:175px;width:15px;height:13px;background:#FBBE7B;"></div>
<div class="r" style="left:288px;top:175px;width:29px;height:13px;background:#F8696B;"></div>
<div class="t n" style="left:275.00px;top:176.55px;width:11.20px;height:12.12px;line-height:12.12px;text-align:right;">5</div>
<div class="t n" style="left:290.20px;top:176.55px;width:24.90px;height:12.12px;line-height:12.12px;text-align:right;">08:31</div>
<div class="r" style="left:361px;top:175px;width:17px;height:13px;background:#63BE7B;"></div>
<div class="r" style="left:378px;top:175px;width:29px;height:13px;background:#F8696B;"></div>
<div class="t n" style="left:362.80px;top:176.55px;width:13.40px;height:12.12px;line-height:12.12px;text-align:right;">7</div>
<div class="t n" style="left:380.20px;top:176.55px;width:24.60px;height:12.12px;line-height:12.12px;text-align:right;">12:15</div>
<div class="r" style="left:502px;top:175px;width:20px;height:13px;background:#63BE7B;"></div>
<div class="r" style="left:522px;top:175px;width:28px;height:13px;background:#F8696B;"></div>
<div class="t n" style="left:504.00px;top:176.55px;width:16.10px;height:12.12px;line-height:12.12px;text-align:right;">7</div>
<div class="t n" style="left:524.10px;top:176.55px;width:24.40px;height:12.12px;line-height:12.12px;text-align:right;">16:15</div>
<div class="r" style="left:550px;top:175px;width:20px;height:13px;background:#63BE7B;"></div>
<div class="r" style="left:570px;top:175px;width:28px;height:13px;background:#F8696B;"></div>
<div class="t n" style="left:552.50px;top:176.55px;width:15.10px;height:12.12px;line-height:12.12px;text-align:right;">7</div>
<div class="t n" style="left:571.60px;top:176.55px;width:24.50px;height:12.12px;line-height:12.12px;text-align:right;">18:04</div>
<div class="r" style="left:646px;top:175px;width:18px;height:13px;background:#63BE7B;"></div>
<div class="r" style="left:664px;top:175px;width:29px;height:13px;background:#F8696B;"></div>
<div class="t n" style="left:647.60px;top:176.55px;width:14.80px;height:12.12px;line-height:12.12px;text-align:right;">7</div>
<div class="t n" style="left:666.40px;top:176.55px;width:24.70px;height:12.12px;line-height:12.12px;text-align:right;">20:57</div>
<div class="r" style="left:8px;top:188px;width:1270px;height:12px;background:#D9D9D9;"></div>
<div class="t n" style="left:8.70px;top:188.67px;width:30.60px;height:12.12px;line-height:12.12px;text-align:center;">4</div>
<div class="t n d" style="left:39.30px;top:188.67px;width:75.10px;height:12.12px;line-height:12.12px;text-align:center;">01-03-2022</div>
<div class="r" style="left:114px;top:188px;width:26px;height:12px;background:#FFFF00;"></div>
<div class="r" style="left:116.00px;top:189.27px;width:7.70px;height:8.73px;background:linear-gradient(90deg,#0A7CF5,#4FA6FA 55%,#A8D4FF);box-shadow:inset 0 0 0 0.6px #2F8AF0;"></div>
<div class="t n" style="left:116.00px;top:188.67px;width:14.90px;height:12.12px;line-height:12.12px;text-align:right;">28</div>
<div class="r" style="left:361px;top:188px;width:17px;height:12px;background:#63BE7B;"></div>
<div class="r" style="left:378px;top:188px;width:29px;height:12px;background:#F8696B;"></div>
<div class="t n" style="left:362.80px;top:188.67px;width:13.40px;height:12.12px;line-height:12.12px;text-align:right;">7</div>
<div class="t n" style="left:380.20px;top:188.67px;width:24.60px;height:12.12px;line-height:12.12px;text-align:right;">12:15</div>
<div class="r" style="left:502px;top:188px;width:20px;height:12px;background:#63BE7B;"></div>
<div class="r" style="left:522px;top:188px;width:28px;height:12px;background:#F8696B;"></div>
<div class="t n" style="left:504.00px;top:188.67px;width:16.10px;height:12.12px;line-height:12.12px;text-align:right;">7</div>
<div class="t n" style="left:524.10px;top:188.67px;width:24.40px;height:12.12px;line-height:12.12px;text-align:right;">16:15</div>
<div class="r" style="left:550px;top:188px;width:20px;height:12px;background:#63BE7B;"></div>
<div class="r" style="left:570px;top:188px;width:28px;height:12px;background:#F8696B;"></div>
<div class="t n" style="left:552.50px;top:188.67px;width:15.10px;height:12.12px;line-height:12.12px;text-align:right;">7</div>
<div class="t n" style="left:571.60px;top:188.67px;width:24.50px;height:12.12px;line-height:12.12px;text-align:right;">18:04</div>
<div class="r" style="left:646px;top:188px;width:18px;height:12px;background:#63BE7B;"></div>
<div class="r" style="left:664px;top:188px;width:29px;height:12px;background:#F8696B;"></div>
<div class="t n" style="left:647.60px;top:188.67px;width:14.80px;height:12.12px;line-height:12.12px;text-align:right;">7</div>
<div class="t n" style="left:666.40px;top:188.67px;width:24.70px;height:12.12px;line-height:12.12px;text-align:right;">20:57</div>
<div class="r" style="left:8px;top:200px;width:1270px;height:12px;background:#BFBFBF;"></div>
<div class="t n" style="left:8.70px;top:200.80px;width:30.60px;height:12.12px;line-height:12.12px;text-align:center;">5</div>
<div class="t n d" style="left:39.30px;top:200.80px;width:75.10px;height:12.12px;line-height:12.12px;text-align:center;">18-01-2022</div>
<div class="r" style="left:114px;top:200px;width:26px;height:12px;background:#FFFF00;"></div>
<div class="r" style="left:116.00px;top:201.40px;width:6.20px;height:8.73px;background:linear-gradient(90deg,#0A7CF5,#4FA6FA 55%,#A8D4FF);box-shadow:inset 0 0 0 0.6px #2F8AF0;"></div>
<div class="t n" style="left:116.00px;top:200.80px;width:14.90px;height:12.12px;line-height:12.12px;text-align:right;">21</div>
<div class="r" style="left:361px;top:200px;width:17px;height:12px;background:#63BE7B;"></div>
<div class="r" style="left:378px;top:200px;width:29px;height:12px;background:#F8696B;"></div>
<div class="t n" style="left:362.80px;top:200.80px;width:13.40px;height:12.12px;line-height:12.12px;text-align:right;">7</div>
<div class="t n" style="left:380.20px;top:200.80px;width:24.60px;height:12.12px;line-height:12.12px;text-align:right;">12:15</div>
<div class="r" style="left:550px;top:200px;width:20px;height:12px;background:#63BE7B;"></div>
<div class="r" style="left:570px;top:200px;width:28px;height:12px;background:#F8696B;"></div>
<div class="t n" style="left:552.50px;top:200.80px;width:15.10px;height:12.12px;line-height:12.12px;text-align:right;">7</div>
<div class="t n" style="left:571.60px;top:200.80px;width:24.50px;height:12.12px;line-height:12.12px;text-align:right;">18:04</div>
<div class="r" style="left:646px;top:200px;width:18px;height:12px;background:#63BE7B;"></div>
<div class="r" style="left:664px;top:200px;width:29px;height:12px;background:#F8696B;"></div>
<div class="t n" style="left:647.60px;top:200.80px;width:14.80px;height:12.12px;line-height:12.12px;text-align:right;">7</div>
<div class="t n" style="left:666.40px;top:200.80px;width:24.70px;height:12.12px;line-height:12.12px;text-align:right;">20:57</div>
<div class="r" style="left:8px;top:212px;width:1270px;height:12px;background:#D9D9D9;"></div>
<div class="t n" style="left:8.70px;top:212.92px;width:30.60px;height:12.12px;line-height:12.12px;text-align:center;">6</div>
<div class="t n d" style="left:39.30px;top:212.92px;width:75.10px;height:12.12px;line-height:12.12px;text-align:center;">30-08-2021</div>
<div class="r" style="left:114px;top:212px;width:26px;height:12px;background:#FFFF00;"></div>
<div class="r" style="left:116.00px;top:213.52px;width:9.30px;height:8.73px;background:linear-gradient(90deg,#0A7CF5,#4FA6FA 55%,#A8D4FF);box-shadow:inset 0 0 0 0.6px #2F8AF0;"></div>
<div class="t n" style="left:116.00px;top:212.92px;width:14.90px;height:12.12px;line-height:12.12px;text-align:right;">33</div>
<div class="r" style="left:273px;top:212px;width:15px;height:12px;background:#FBBE7B;"></div>
<div class="r" style="left:288px;top:212px;width:29px;height:12px;background:#F8696B;"></div>
<div class="t n" style="left:275.00px;top:212.92px;width:11.20px;height:12.12px;line-height:12.12px;text-align:right;">5</div>
<div class="t n" style="left:290.20px;top:212.92px;width:24.90px;height:12.12px;line-height:12.12px;text-align:right;">08:31</div>
<div class="r" style="left:361px;top:212px;width:17px;height:12px;background:#63BE7B;"></div>
<div class="r" style="left:378px;top:212px;width:29px;height:12px;background:#F8696B;"></div>
<div class="t n" style="left:362.80px;top:212.92px;width:13.40px;height:12.12px;line-height:12.12px;text-align:right;">7</div>
<div class="t n" style="left:380.20px;top:212.92px;width:24.60px;height:12.12px;line-height:12.12px;text-align:right;">12:15</div>
<div class="r" style="left:502px;top:212px;width:20px;height:12px;background:#63BE7B;"></div>
<div class="r" style="left:522px;top:212px;width:28px;height:12px;background:#F8696B;"></div>
<div class="t n" style="left:504.00px;top:212.92px;width:16.10px;height:12.12px;line-height:12.12px;text-align:right;">7</div>
<div class="t n" style="left:524.10px;top:212.92px;width:24.40px;height:12.12px;line-height:12.12px;text-align:right;">16:15</div>
<div class="r" style="left:550px;top:212px;width:20px;height:12px;background:#63BE7B;"></div>
<div class="r" style="left:570px;top:212px;width:28px;height:12px;background:#F8696B;"></div>
<div class="t n" style="left:552.50px;top:212.92px;width:15.10px;height:12.12px;line-height:12.12px;text-align:right;">7</div>
<div class="t n" style="left:571.60px;top:212.92px;width:24.50px;height:12.12px;line-height:12.12px;text-align:right;">18:04</div>
<div class="r" style="left:646px;top:212px;width:18px;height:12px;background:#63BE7B;"></div>
<div class="r" style="left:664px;top:212px;width:29px;height:12px;background:#F8696B;"></div>
<div class="t n" style="left:647.60px;top:212.92px;width:14.80px;height:12.12px;line-height:12.12px;text-align:right;">7</div>
<div class="t n" style="left:666.40px;top:212.92px;width:24.70px;height:12.12px;line-height:12.12px;text-align:right;">20:57</div>
<div class="r" style="left:8px;top:224px;width:1270px;height:12px;background:#BFBFBF;"></div>
<div class="t n" style="left:8.70px;top:225.05px;width:30.60px;height:12.12px;line-height:12.12px;text-align:center;">7</div>
<div class="t n d" style="left:39.30px;top:225.05px;width:75.10px;height:12.12px;line-height:12.12px;text-align:center;">12-07-2021</div>
<div class="r" style="left:114px;top:224px;width:26px;height:12px;background:#FFFF00;"></div>
<div class="r" style="left:116.00px;top:225.65px;width:6.20px;height:8.73px;background:linear-gradient(90deg,#0A7CF5,#4FA6FA 55%,#A8D4FF);box-shadow:inset 0 0 0 0.6px #2F8AF0;"></div>
<div class="t n" style="left:116.00px;top:225.05px;width:14.90px;height:12.12px;line-height:12.12px;text-align:right;">21</div>
<div class="r" style="left:273px;top:224px;width:15px;height:12px;background:#63BE7B;"></div>
<div class="r" style="left:288px;top:224px;width:29px;height:12px;background:#F8696B;"></div>
<div class="t n" style="left:275.00px;top:225.05px;width:11.20px;height:12.12px;line-height:12.12px;text-align:right;">7</div>
<div class="t n" style="left:290.20px;top:225.05px;width:24.90px;height:12.12px;line-height:12.12px;text-align:right;">08:33</div>
<div class="r" style="left:361px;top:224px;width:17px;height:12px;background:#63BE7B;"></div>
<div class="r" style="left:378px;top:224px;width:29px;height:12px;background:#F8696B;"></div>
<div class="t n" style="left:362.80px;top:225.05px;width:13.40px;height:12.12px;line-height:12.12px;text-align:right;">7</div>
<div class="t n" style="left:380.20px;top:225.05px;width:24.60px;height:12.12px;line-height:12.12px;text-align:right;">12:15</div>
<div class="r" style="left:550px;top:224px;width:20px;height:12px;background:#63BE7B;"></div>
<div class="r" style="left:570px;top:224px;width:28px;height:12px;background:#F8696B;"></div>
<div class="t n" style="left:552.50px;top:225.05px;width:15.10px;height:12.12px;line-height:12.12px;text-align:right;">7</div>
<div class="t n" style="left:571.60px;top:225.05px;width:24.50px;height:12.12px;line-height:12.12px;text-align:right;">18:04</div>
<div class="r" style="left:8px;top:236px;width:1270px;height:12px;background:#D9D9D9;"></div>
<div class="t n" style="left:8.70px;top:237.17px;width:30.60px;height:12.12px;line-height:12.12px;text-align:center;">8</div>
<div class="t n d" style="left:39.30px;top:237.17px;width:75.10px;height:12.12px;line-height:12.12px;text-align:center;">22-06-2021</div>
<div class="r" style="left:114px;top:236px;width:26px;height:12px;background:#FFFF00;"></div>
<div class="r" style="left:116.00px;top:237.77px;width:4.10px;height:8.73px;background:linear-gradient(90deg,#0A7CF5,#4FA6FA 55%,#A8D4FF);box-shadow:inset 0 0 0 0.6px #2F8AF0;"></div>
<div class="t n" style="left:116.00px;top:237.17px;width:14.90px;height:12.12px;line-height:12.12px;text-align:right;">14</div>
<div class="r" style="left:361px;top:236px;width:17px;height:12px;background:#63BE7B;"></div>
<div class="r" style="left:378px;top:236px;width:29px;height:12px;background:#F8696B;"></div>
<div class="t n" style="left:362.80px;top:237.17px;width:13.40px;height:12.12px;line-height:12.12px;text-align:right;">7</div>
<div class="t n" style="left:380.20px;top:237.17px;width:24.60px;height:12.12px;line-height:12.12px;text-align:right;">12:15</div>
<div class="r" style="left:550px;top:236px;width:20px;height:12px;background:#63BE7B;"></div>
<div class="r" style="left:570px;top:236px;width:28px;height:12px;background:#F8696B;"></div>
<div class="t n" style="left:552.50px;top:237.17px;width:15.10px;height:12.12px;line-height:12.12px;text-align:right;">7</div>
<div class="t n" style="left:571.60px;top:237.17px;width:24.50px;height:12.12px;line-height:12.12px;text-align:right;">18:04</div>
<div class="r" style="left:8px;top:248px;width:1270px;height:12px;background:#BFBFBF;"></div>
<div class="t n" style="left:8.70px;top:249.30px;width:30.60px;height:12.12px;line-height:12.12px;text-align:center;">9</div>
<div class="t n d" style="left:39.30px;top:249.30px;width:75.10px;height:12.12px;line-height:12.12px;text-align:center;">01-04-2021</div>
<div class="r" style="left:114px;top:248px;width:26px;height:12px;background:#FFFF00;"></div>
<div class="r" style="left:116.00px;top:249.90px;width:4.10px;height:8.73px;background:linear-gradient(90deg,#0A7CF5,#4FA6FA 55%,#A8D4FF);box-shadow:inset 0 0 0 0.6px #2F8AF0;"></div>
<div class="t n" style="left:116.00px;top:249.30px;width:14.90px;height:12.12px;line-height:12.12px;text-align:right;">14</div>
<div class="r" style="left:361px;top:248px;width:17px;height:12px;background:#63BE7B;"></div>
<div class="r" style="left:378px;top:248px;width:29px;height:12px;background:#F8696B;"></div>
<div class="t n" style="left:362.80px;top:249.30px;width:13.40px;height:12.12px;line-height:12.12px;text-align:right;">7</div>
<div class="t n" style="left:380.20px;top:249.30px;width:24.60px;height:12.12px;line-height:12.12px;text-align:right;">12:15</div>
<div class="r" style="left:550px;top:248px;width:20px;height:12px;background:#63BE7B;"></div>
<div class="r" style="left:570px;top:248px;width:28px;height:12px;background:#F8696B;"></div>
<div class="t n" style="left:552.50px;top:249.30px;width:15.10px;height:12.12px;line-height:12.12px;text-align:right;">7</div>
<div class="t n" style="left:571.60px;top:249.30px;width:24.50px;height:12.12px;line-height:12.12px;text-align:right;">18:04</div>
<div class="r" style="left:8px;top:260px;width:1270px;height:12px;background:#D9D9D9;"></div>
<div class="t n" style="left:8.70px;top:261.43px;width:30.60px;height:12.12px;line-height:12.12px;text-align:center;">10</div>
<div class="t n d" style="left:39.30px;top:261.43px;width:75.10px;height:12.12px;line-height:12.12px;text-align:center;">02-02-2021</div>
<div class="r" style="left:114px;top:260px;width:26px;height:12px;background:#FFFF00;"></div>
<div class="r" style="left:116.00px;top:262.02px;width:1.80px;height:8.73px;background:linear-gradient(90deg,#0A7CF5,#4FA6FA 55%,#A8D4FF);box-shadow:inset 0 0 0 0.6px #2F8AF0;"></div>
<div class="t n" style="left:116.00px;top:261.43px;width:14.90px;height:12.12px;line-height:12.12px;text-align:right;">7</div>
<div class="r" style="left:550px;top:260px;width:20px;height:12px;background:#63BE7B;"></div>
<div class="r" style="left:570px;top:260px;width:28px;height:12px;background:#F8696B;"></div>
<div class="t n" style="left:552.50px;top:261.43px;width:15.10px;height:12.12px;line-height:12.12px;text-align:right;">7</div>
<div class="t n" style="left:571.60px;top:261.43px;width:24.50px;height:12.12px;line-height:12.12px;text-align:right;">18:04</div>
<div class="r" style="left:8px;top:272px;width:1270px;height:13px;background:#BFBFBF;"></div>
<div class="t n" style="left:8.70px;top:273.55px;width:30.60px;height:12.12px;line-height:12.12px;text-align:center;">11</div>
<div class="t n d" style="left:39.30px;top:273.55px;width:75.10px;height:12.12px;line-height:12.12px;text-align:center;">12-01-2021</div>
<div class="r" style="left:114px;top:272px;width:26px;height:13px;background:#FFFF00;"></div>
<div class="r" style="left:116.00px;top:274.15px;width:4.10px;height:8.73px;background:linear-gradient(90deg,#0A7CF5,#4FA6FA 55%,#A8D4FF);box-shadow:inset 0 0 0 0.6px #2F8AF0;"></div>
<div class="t n" style="left:116.00px;top:273.55px;width:14.90px;height:12.12px;line-height:12.12px;text-align:right;">14</div>
<div class="r" style="left:361px;top:272px;width:17px;height:13px;background:#63BE7B;"></div>
<div class="r" style="left:378px;top:272px;width:29px;height:13px;background:#F8696B;"></div>
<div class="t n" style="left:362.80px;top:273.55px;width:13.40px;height:12.12px;line-height:12.12px;text-align:right;">7</div>
<div class="t n" style="left:380.20px;top:273.55px;width:24.60px;height:12.12px;line-height:12.12px;text-align:right;">12:15</div>
<div class="r" style="left:550px;top:272px;width:20px;height:13px;background:#63BE7B;"></div>
<div class="r" style="left:570px;top:272px;width:28px;height:13px;background:#F8696B;"></div>
<div class="t n" style="left:552.50px;top:273.55px;width:15.10px;height:12.12px;line-height:12.12px;text-align:right;">7</div>
<div class="t n" style="left:571.60px;top:273.55px;width:24.50px;height:12.12px;line-height:12.12px;text-align:right;">18:04</div>
<div class="r" style="left:8px;top:285px;width:1270px;height:12px;background:#D9D9D9;"></div>
<div class="t n" style="left:8.70px;top:285.68px;width:30.60px;height:12.12px;line-height:12.12px;text-align:center;">12</div>
<div class="t n d" style="left:39.30px;top:285.68px;width:75.10px;height:12.12px;line-height:12.12px;text-align:center;">27-10-2020</div>
<div class="r" style="left:114px;top:285px;width:26px;height:12px;background:#FFFF00;"></div>
<div class="r" style="left:116.00px;top:286.27px;width:4.10px;height:8.73px;background:linear-gradient(90deg,#0A7CF5,#4FA6FA 55%,#A8D4FF);box-shadow:inset 0 0 0 0.6px #2F8AF0;"></div>
<div class="t n" style="left:116.00px;top:285.68px;width:14.90px;height:12.12px;line-height:12.12px;text-align:right;">14</div>
<div class="r" style="left:361px;top:285px;width:17px;height:12px;background:#63BE7B;"></div>
<div class="r" style="left:378px;top:285px;width:29px;height:12px;background:#F8696B;"></div>
<div class="t n" style="left:362.80px;top:285.68px;width:13.40px;height:12.12px;line-height:12.12px;text-align:right;">7</div>
<div class="t n" style="left:380.20px;top:285.68px;width:24.60px;height:12.12px;line-height:12.12px;text-align:right;">12:15</div>
<div class="r" style="left:550px;top:285px;width:20px;height:12px;background:#63BE7B;"></div>
<div class="r" style="left:570px;top:285px;width:28px;height:12px;background:#F8696B;"></div>
<div class="t n" style="left:552.50px;top:285.68px;width:15.10px;height:12.12px;line-height:12.12px;text-align:right;">7</div>
<div class="t n" style="left:571.60px;top:285.68px;width:24.50px;height:12.12px;line-height:12.12px;text-align:right;">18:04</div>
<div class="r" style="left:8px;top:297px;width:1270px;height:12px;background:#BFBFBF;"></div>
<div class="t n" style="left:8.70px;top:297.80px;width:30.60px;height:12.12px;line-height:12.12px;text-align:center;">13</div>
<div class="t n d" style="left:39.30px;top:297.80px;width:75.10px;height:12.12px;line-height:12.12px;text-align:center;">29-09-2020</div>
<div class="r" style="left:114px;top:297px;width:26px;height:12px;background:#FFFF00;"></div>
<div class="r" style="left:116.00px;top:298.40px;width:6.20px;height:8.73px;background:linear-gradient(90deg,#0A7CF5,#4FA6FA 55%,#A8D4FF);box-shadow:inset 0 0 0 0.6px #2F8AF0;"></div>
<div class="t n" style="left:116.00px;top:297.80px;width:14.90px;height:12.12px;line-height:12.12px;text-align:right;">21</div>
<div class="r" style="left:273px;top:297px;width:15px;height:12px;background:#63BE7B;"></div>
<div class="r" style="left:288px;top:297px;width:29px;height:12px;background:#F8696B;"></div>
<div class="t n" style="left:275.00px;top:297.80px;width:11.20px;height:12.12px;line-height:12.12px;text-align:right;">7</div>
<div class="t n" style="left:290.20px;top:297.80px;width:24.90px;height:12.12px;line-height:12.12px;text-align:right;">08:33</div>
<div class="r" style="left:361px;top:297px;width:17px;height:12px;background:#63BE7B;"></div>
<div class="r" style="left:378px;top:297px;width:29px;height:12px;background:#F8696B;"></div>
<div class="t n" style="left:362.80px;top:297.80px;width:13.40px;height:12.12px;line-height:12.12px;text-align:right;">7</div>
<div class="t n" style="left:380.20px;top:297.80px;width:24.60px;height:12.12px;line-height:12.12px;text-align:right;">12:15</div>
<div class="r" style="left:550px;top:297px;width:20px;height:12px;background:#63BE7B;"></div>
<div class="r" style="left:570px;top:297px;width:28px;height:12px;background:#F8696B;"></div>
<div class="t n" style="left:552.50px;top:297.80px;width:15.10px;height:12.12px;line-height:12.12px;text-align:right;">7</div>
<div class="t n" style="left:571.60px;top:297.80px;width:24.50px;height:12.12px;line-height:12.12px;text-align:right;">18:04</div>
<div class="r" style="left:8px;top:309px;width:1270px;height:12px;background:#D9D9D9;"></div>
<div class="t n" style="left:8.70px;top:309.93px;width:30.60px;height:12.12px;line-height:12.12px;text-align:center;">14</div>
<div class="t n d" style="left:39.30px;top:309.93px;width:75.10px;height:12.12px;line-height:12.12px;text-align:center;">11-09-2020</div>
<div class="r" style="left:114px;top:309px;width:26px;height:12px;background:#FFFF00;"></div>
<div class="r" style="left:116.00px;top:310.52px;width:6.20px;height:8.73px;background:linear-gradient(90deg,#0A7CF5,#4FA6FA 55%,#A8D4FF);box-shadow:inset 0 0 0 0.6px #2F8AF0;"></div>
<div class="t n" style="left:116.00px;top:309.93px;width:14.90px;height:12.12px;line-height:12.12px;text-align:right;">21</div>
<div class="r" style="left:273px;top:309px;width:15px;height:12px;background:#63BE7B;"></div>
<div class="r" style="left:288px;top:309px;width:29px;height:12px;background:#F8696B;"></div>
<div class="t n" style="left:275.00px;top:309.93px;width:11.20px;height:12.12px;line-height:12.12px;text-align:right;">7</div>
<div class="t n" style="left:290.20px;top:309.93px;width:24.90px;height:12.12px;line-height:12.12px;text-align:right;">08:31</div>
<div class="r" style="left:361px;top:309px;width:17px;height:12px;background:#63BE7B;"></div>
<div class="r" style="left:378px;top:309px;width:29px;height:12px;background:#F8696B;"></div>
<div class="t n" style="left:362.80px;top:309.93px;width:13.40px;height:12.12px;line-height:12.12px;text-align:right;">7</div>
<div class="t n" style="left:380.20px;top:309.93px;width:24.60px;height:12.12px;line-height:12.12px;text-align:right;">12:15</div>
<div class="r" style="left:550px;top:309px;width:20px;height:12px;background:#63BE7B;"></div>
<div class="r" style="left:570px;top:309px;width:28px;height:12px;background:#F8696B;"></div>
<div class="t n" style="left:552.50px;top:309.93px;width:15.10px;height:12.12px;line-height:12.12px;text-align:right;">7</div>
<div class="t n" style="left:571.60px;top:309.93px;width:24.50px;height:12.12px;line-height:12.12px;text-align:right;">18:05</div>
<div class="r" style="left:8px;top:321px;width:1270px;height:12px;background:#BFBFBF;"></div>
<div class="t n" style="left:8.70px;top:322.05px;width:30.60px;height:12.12px;line-height:12.12px;text-align:center;">15</div>
<div class="t n d" style="left:39.30px;top:322.05px;width:75.10px;height:12.12px;line-height:12.12px;text-align:center;">01-09-2020</div>
<div class="r" style="left:114px;top:321px;width:26px;height:12px;background:#FFFF00;"></div>
<div class="r" style="left:116.00px;top:322.65px;width:6.20px;height:8.73px;background:linear-gradient(90deg,#0A7CF5,#4FA6FA 55%,#A8D4FF);box-shadow:inset 0 0 0 0.6px #2F8AF0;"></div>
<div class="t n" style="left:116.00px;top:322.05px;width:14.90px;height:12.12px;line-height:12.12px;text-align:right;">21</div>
<div class="r" style="left:273px;top:321px;width:15px;height:12px;background:#63BE7B;"></div>
<div class="r" style="left:288px;top:321px;width:29px;height:12px;background:#F8696B;"></div>
<div class="t n" style="left:275.00px;top:322.05px;width:11.20px;height:12.12px;line-height:12.12px;text-align:right;">7</div>
<div class="t n" style="left:290.20px;top:322.05px;width:24.90px;height:12.12px;line-height:12.12px;text-align:right;">08:31</div>
<div class="r" style="left:361px;top:321px;width:17px;height:12px;background:#63BE7B;"></div>
<div class="r" style="left:378px;top:321px;width:29px;height:12px;background:#F8696B;"></div>
<div class="t n" style="left:362.80px;top:322.05px;width:13.40px;height:12.12px;line-height:12.12px;text-align:right;">7</div>
<div class="t n" style="left:380.20px;top:322.05px;width:24.60px;height:12.12px;line-height:12.12px;text-align:right;">12:15</div>
<div class="r" style="left:550px;top:321px;width:20px;height:12px;background:#63BE7B;"></div>
<div class="r" style="left:570px;top:321px;width:28px;height:12px;background:#F8696B;"></div>
<div class="t n" style="left:552.50px;top:322.05px;width:15.10px;height:12.12px;line-height:12.12px;text-align:right;">7</div>
<div class="t n" style="left:571.60px;top:322.05px;width:24.50px;height:12.12px;line-height:12.12px;text-align:right;">18:05</div>
<div class="r" style="left:8px;top:333px;width:1270px;height:12px;background:#D9D9D9;"></div>
<div class="t n" style="left:8.70px;top:334.18px;width:30.60px;height:12.12px;line-height:12.12px;text-align:center;">16</div>
<div class="t n d" style="left:39.30px;top:334.18px;width:75.10px;height:12.12px;line-height:12.12px;text-align:center;">14-07-2020</div>
<div class="r" style="left:114px;top:333px;width:26px;height:12px;background:#FFFF00;"></div>
<div class="r" style="left:116.00px;top:334.77px;width:4.10px;height:8.73px;background:linear-gradient(90deg,#0A7CF5,#4FA6FA 55%,#A8D4FF);box-shadow:inset 0 0 0 0.6px #2F8AF0;"></div>
<div class="t n" style="left:116.00px;top:334.18px;width:14.90px;height:12.12px;line-height:12.12px;text-align:right;">14</div>
<div class="r" style="left:273px;top:333px;width:15px;height:12px;background:#63BE7B;"></div>
<div class="r" style="left:288px;top:333px;width:29px;height:12px;background:#F8696B;"></div>
<div class="t n" style="left:275.00px;top:334.18px;width:11.20px;height:12.12px;line-height:12.12px;text-align:right;">7</div>
<div class="t n" style="left:290.20px;top:334.18px;width:24.90px;height:12.12px;line-height:12.12px;text-align:right;">08:31</div>
<div class="r" style="left:550px;top:333px;width:20px;height:12px;background:#63BE7B;"></div>
<div class="r" style="left:570px;top:333px;width:28px;height:12px;background:#F8696B;"></div>
<div class="t n" style="left:552.50px;top:334.18px;width:15.10px;height:12.12px;line-height:12.12px;text-align:right;">7</div>
<div class="t n" style="left:571.60px;top:334.18px;width:24.50px;height:12.12px;line-height:12.12px;text-align:right;">18:05</div>
<div class="r" style="left:8px;top:345px;width:1270px;height:12px;background:#BFBFBF;"></div>
<div class="t n" style="left:8.70px;top:346.30px;width:30.60px;height:12.12px;line-height:12.12px;text-align:center;">17</div>
<div class="t n d" style="left:39.30px;top:346.30px;width:75.10px;height:12.12px;line-height:12.12px;text-align:center;">03-06-2020</div>
<div class="r" style="left:114px;top:345px;width:26px;height:12px;background:#FFFF00;"></div>
<div class="r" style="left:116.00px;top:346.90px;width:1.80px;height:8.73px;background:linear-gradient(90deg,#0A7CF5,#4FA6FA 55%,#A8D4FF);box-shadow:inset 0 0 0 0.6px #2F8AF0;"></div>
<div class="t n" style="left:116.00px;top:346.30px;width:14.90px;height:12.12px;line-height:12.12px;text-align:right;">7</div>
<div class="r" style="left:273px;top:345px;width:15px;height:12px;background:#63BE7B;"></div>
<div class="r" style="left:288px;top:345px;width:29px;height:12px;background:#F8696B;"></div>
<div class="t n" style="left:275.00px;top:346.30px;width:11.20px;height:12.12px;line-height:12.12px;text-align:right;">7</div>
<div class="t n" style="left:290.20px;top:346.30px;width:24.90px;height:12.12px;line-height:12.12px;text-align:right;">08:31</div>
<div class="r" style="left:8px;top:357px;width:1270px;height:12px;background:#D9D9D9;"></div>
<div class="t n" style="left:8.70px;top:358.43px;width:30.60px;height:12.12px;line-height:12.12px;text-align:center;">18</div>
<div class="t n d" style="left:39.30px;top:358.43px;width:75.10px;height:12.12px;line-height:12.12px;text-align:center;">31-03-2020</div>
<div class="r" style="left:114px;top:357px;width:26px;height:12px;background:#FFFF00;"></div>
<div class="r" style="left:116.00px;top:359.02px;width:1.80px;height:8.73px;background:linear-gradient(90deg,#0A7CF5,#4FA6FA 55%,#A8D4FF);box-shadow:inset 0 0 0 0.6px #2F8AF0;"></div>
<div class="t n" style="left:116.00px;top:358.43px;width:14.90px;height:12.12px;line-height:12.12px;text-align:right;">7</div>
<div class="r" style="left:273px;top:357px;width:15px;height:12px;background:#63BE7B;"></div>
<div class="r" style="left:288px;top:357px;width:29px;height:12px;background:#F8696B;"></div>
<div class="t n" style="left:275.00px;top:358.43px;width:11.20px;height:12.12px;line-height:12.12px;text-align:right;">7</div>
<div class="t n" style="left:290.20px;top:358.43px;width:24.90px;height:12.12px;line-height:12.12px;text-align:right;">08:31</div>
<div class="r" style="left:8px;top:369px;width:1270px;height:13px;background:#BFBFBF;"></div>
<div class="t n" style="left:8.70px;top:370.55px;width:30.60px;height:12.12px;line-height:12.12px;text-align:center;">19</div>
<div class="t n d" style="left:39.30px;top:370.55px;width:75.10px;height:12.12px;line-height:12.12px;text-align:center;">23-03-2020</div>
<div class="r" style="left:114px;top:369px;width:26px;height:13px;background:#FFFF00;"></div>
<div class="r" style="left:116.00px;top:371.15px;width:4.10px;height:8.73px;background:linear-gradient(90deg,#0A7CF5,#4FA6FA 55%,#A8D4FF);box-shadow:inset 0 0 0 0.6px #2F8AF0;"></div>
<div class="t n" style="left:116.00px;top:370.55px;width:14.90px;height:12.12px;line-height:12.12px;text-align:right;">14</div>
<div class="r" style="left:273px;top:369px;width:15px;height:13px;background:#63BE7B;"></div>
<div class="r" style="left:288px;top:369px;width:29px;height:13px;background:#F8696B;"></div>
<div class="t n" style="left:275.00px;top:370.55px;width:11.20px;height:12.12px;line-height:12.12px;text-align:right;">7</div>
<div class="t n" style="left:290.20px;top:370.55px;width:24.90px;height:12.12px;line-height:12.12px;text-align:right;">08:31</div>
<div class="r" style="left:550px;top:369px;width:20px;height:13px;background:#63BE7B;"></div>
<div class="r" style="left:570px;top:369px;width:28px;height:13px;background:#F8696B;"></div>
<div class="t n" style="left:552.50px;top:370.55px;width:15.10px;height:12.12px;line-height:12.12px;text-align:right;">7</div>
<div class="t n" style="left:571.60px;top:370.55px;width:24.50px;height:12.12px;line-height:12.12px;text-align:right;">18:05</div>
<div class="r" style="left:8px;top:382px;width:1270px;height:12px;background:#D9D9D9;"></div>
<div class="t n" style="left:8.70px;top:382.68px;width:30.60px;height:12.12px;line-height:12.12px;text-align:center;">20</div>
<div class="t n d" style="left:39.30px;top:382.68px;width:75.10px;height:12.12px;line-height:12.12px;text-align:center;">02-06-2019</div>
<div class="r" style="left:114px;top:382px;width:26px;height:12px;background:#FFFF00;"></div>
<div class="r" style="left:116.00px;top:383.27px;width:12.10px;height:8.73px;background:linear-gradient(90deg,#0A7CF5,#4FA6FA 55%,#A8D4FF);box-shadow:inset 0 0 0 0.6px #2F8AF0;"></div>
<div class="t n" style="left:116.00px;top:382.68px;width:14.90px;height:12.12px;line-height:12.12px;text-align:right;">39</div>
<div class="r" style="left:273px;top:382px;width:15px;height:12px;background:#FBBE7B;"></div>
<div class="r" style="left:288px;top:382px;width:29px;height:12px;background:#F8696B;"></div>
<div class="t n" style="left:275.00px;top:382.68px;width:11.20px;height:12.12px;line-height:12.12px;text-align:right;">5</div>
<div class="t n" style="left:290.20px;top:382.68px;width:24.90px;height:12.12px;line-height:12.12px;text-align:right;">08:31</div>
<div class="r" style="left:361px;top:382px;width:17px;height:12px;background:#63BE7B;"></div>
<div class="r" style="left:378px;top:382px;width:29px;height:12px;background:#F8696B;"></div>
<div class="t n" style="left:362.80px;top:382.68px;width:13.40px;height:12.12px;line-height:12.12px;text-align:right;">7</div>
<div class="t n" style="left:380.20px;top:382.68px;width:24.60px;height:12.12px;line-height:12.12px;text-align:right;">12:15</div>
<div class="r" style="left:454px;top:382px;width:19px;height:12px;background:#63BE7B;"></div>
<div class="r" style="left:473px;top:382px;width:29px;height:12px;background:#F8696B;"></div>
<div class="t n" style="left:456.40px;top:382.68px;width:15.00px;height:12.12px;line-height:12.12px;text-align:right;">7</div>
<div class="t n" style="left:475.40px;top:382.68px;width:24.60px;height:12.12px;line-height:12.12px;text-align:right;">13:16</div>
<div class="r" style="left:502px;top:382px;width:20px;height:12px;background:#63BE7B;"></div>
<div class="r" style="left:522px;top:382px;width:28px;height:12px;background:#F8696B;"></div>
<div class="t n" style="left:504.00px;top:382.68px;width:16.10px;height:12.12px;line-height:12.12px;text-align:right;">7</div>
<div class="t n" style="left:524.10px;top:382.68px;width:24.40px;height:12.12px;line-height:12.12px;text-align:right;">16:15</div>
<div class="r" style="left:550px;top:382px;width:20px;height:12px;background:#FDD480;"></div>
<div class="r" style="left:570px;top:382px;width:28px;height:12px;background:#F8696B;"></div>
<div class="t n" style="left:552.50px;top:382.68px;width:15.10px;height:12.12px;line-height:12.12px;text-align:right;">6</div>
<div class="t n" style="left:571.60px;top:382.68px;width:24.50px;height:12.12px;line-height:12.12px;text-align:right;">18:05</div>
<div class="r" style="left:646px;top:382px;width:18px;height:12px;background:#63BE7B;"></div>
<div class="r" style="left:664px;top:382px;width:29px;height:12px;background:#F8696B;"></div>
<div class="t n" style="left:647.60px;top:382.68px;width:14.80px;height:12.12px;line-height:12.12px;text-align:right;">7</div>
<div class="t n" style="left:666.40px;top:382.68px;width:24.70px;height:12.12px;line-height:12.12px;text-align:right;">20:57</div>
<div class="r" style="left:8px;top:394px;width:1270px;height:12px;background:#BFBFBF;"></div>
<div class="t n" style="left:8.70px;top:394.80px;width:30.60px;height:12.12px;line-height:12.12px;text-align:center;">21</div>
<div class="t n d" style="left:39.30px;top:394.80px;width:75.10px;height:12.12px;line-height:12.12px;text-align:center;">18-11-2018</div>
<div class="r" style="left:114px;top:394px;width:26px;height:12px;background:#FFFF00;"></div>
<div class="r" style="left:116.00px;top:395.40px;width:12.10px;height:8.73px;background:linear-gradient(90deg,#0A7CF5,#4FA6FA 55%,#A8D4FF);box-shadow:inset 0 0 0 0.6px #2F8AF0;"></div>
<div class="t n" style="left:116.00px;top:394.80px;width:14.90px;height:12.12px;line-height:12.12px;text-align:right;">39</div>
<div class="r" style="left:273px;top:394px;width:15px;height:12px;background:#FBBE7B;"></div>
<div class="r" style="left:288px;top:394px;width:29px;height:12px;background:#F8696B;"></div>
<div class="t n" style="left:275.00px;top:394.80px;width:11.20px;height:12.12px;line-height:12.12px;text-align:right;">5</div>
<div class="t n" style="left:290.20px;top:394.80px;width:24.90px;height:12.12px;line-height:12.12px;text-align:right;">08:31</div>
<div class="r" style="left:361px;top:394px;width:17px;height:12px;background:#63BE7B;"></div>
<div class="r" style="left:378px;top:394px;width:29px;height:12px;background:#F8696B;"></div>
<div class="t n" style="left:362.80px;top:394.80px;width:13.40px;height:12.12px;line-height:12.12px;text-align:right;">7</div>
<div class="t n" style="left:380.20px;top:394.80px;width:24.60px;height:12.12px;line-height:12.12px;text-align:right;">12:15</div>
<div class="r" style="left:454px;top:394px;width:19px;height:12px;background:#63BE7B;"></div>
<div class="r" style="left:473px;top:394px;width:29px;height:12px;background:#F8696B;"></div>
<div class="t n" style="left:456.40px;top:394.80px;width:15.00px;height:12.12px;line-height:12.12px;text-align:right;">7</div>
<div class="t n" style="left:475.40px;top:394.80px;width:24.60px;height:12.12px;line-height:12.12px;text-align:right;">13:16</div>
<div class="r" style="left:502px;top:394px;width:20px;height:12px;background:#63BE7B;"></div>
<div class="r" style="left:522px;top:394px;width:28px;height:12px;background:#F8696B;"></div>
<div class="t n" style="left:504.00px;top:394.80px;width:16.10px;height:12.12px;line-height:12.12px;text-align:right;">7</div>
<div class="t n" style="left:524.10px;top:394.80px;width:24.40px;height:12.12px;line-height:12.12px;text-align:right;">16:15</div>
<div class="r" style="left:550px;top:394px;width:20px;height:12px;background:#FDD480;"></div>
<div class="r" style="left:570px;top:394px;width:28px;height:12px;background:#F8696B;"></div>
<div class="t n" style="left:552.50px;top:394.80px;width:15.10px;height:12.12px;line-height:12.12px;text-align:right;">6</div>
<div class="t n" style="left:571.60px;top:394.80px;width:24.50px;height:12.12px;line-height:12.12px;text-align:right;">18:05</div>
<div class="r" style="left:646px;top:394px;width:18px;height:12px;background:#63BE7B;"></div>
<div class="r" style="left:664px;top:394px;width:29px;height:12px;background:#F8696B;"></div>
<div class="t n" style="left:647.60px;top:394.80px;width:14.80px;height:12.12px;line-height:12.12px;text-align:right;">7</div>
<div class="t n" style="left:666.40px;top:394.80px;width:24.70px;height:12.12px;line-height:12.12px;text-align:right;">20:57</div>
<div class="r" style="left:8px;top:406px;width:1270px;height:12px;background:#D9D9D9;"></div>
<div class="t n" style="left:8.70px;top:406.93px;width:30.60px;height:12.12px;line-height:12.12px;text-align:center;">22</div>
<div class="t n d" style="left:39.30px;top:406.93px;width:75.10px;height:12.12px;line-height:12.12px;text-align:center;">17-06-2018</div>
<div class="r" style="left:114px;top:406px;width:26px;height:12px;background:#FFFF00;"></div>
<div class="r" style="left:116.00px;top:407.52px;width:12.10px;height:8.73px;background:linear-gradient(90deg,#0A7CF5,#4FA6FA 55%,#A8D4FF);box-shadow:inset 0 0 0 0.6px #2F8AF0;"></div>
<div class="t n" style="left:116.00px;top:406.93px;width:14.90px;height:12.12px;line-height:12.12px;text-align:right;">39</div>
<div class="r" style="left:273px;top:406px;width:15px;height:12px;background:#FBBE7B;"></div>
<div class="r" style="left:288px;top:406px;width:29px;height:12px;background:#F8696B;"></div>
<div class="t n" style="left:275.00px;top:406.93px;width:11.20px;height:12.12px;line-height:12.12px;text-align:right;">5</div>
<div class="t n" style="left:290.20px;top:406.93px;width:24.90px;height:12.12px;line-height:12.12px;text-align:right;">08:31</div>
<div class="r" style="left:361px;top:406px;width:17px;height:12px;background:#63BE7B;"></div>
<div class="r" style="left:378px;top:406px;width:29px;height:12px;background:#F8696B;"></div>
<div class="t n" style="left:362.80px;top:406.93px;width:13.40px;height:12.12px;line-height:12.12px;text-align:right;">7</div>
<div class="t n" style="left:380.20px;top:406.93px;width:24.60px;height:12.12px;line-height:12.12px;text-align:right;">12:15</div>
<div class="r" style="left:454px;top:406px;width:19px;height:12px;background:#63BE7B;"></div>
<div class="r" style="left:473px;top:406px;width:29px;height:12px;background:#F8696B;"></div>
<div class="t n" style="left:456.40px;top:406.93px;width:15.00px;height:12.12px;line-height:12.12px;text-align:right;">7</div>
<div class="t n" style="left:475.40px;top:406.93px;width:24.60px;height:12.12px;line-height:12.12px;text-align:right;">13:31</div>
<div class="r" style="left:502px;top:406px;width:20px;height:12px;background:#63BE7B;"></div>
<div class="r" style="left:522px;top:406px;width:28px;height:12px;background:#F8696B;"></div>
<div class="t n" style="left:504.00px;top:406.93px;width:16.10px;height:12.12px;line-height:12.12px;text-align:right;">7</div>
<div class="t n" style="left:524.10px;top:406.93px;width:24.40px;height:12.12px;line-height:12.12px;text-align:right;">16:15</div>
<div class="r" style="left:550px;top:406px;width:20px;height:12px;background:#FDD480;"></div>
<div class="r" style="left:570px;top:406px;width:28px;height:12px;background:#F8696B;"></div>
<div class="t n" style="left:552.50px;top:406.93px;width:15.10px;height:12.12px;line-height:12.12px;text-align:right;">6</div>
<div class="t n" style="left:571.60px;top:406.93px;width:24.50px;height:12.12px;line-height:12.12px;text-align:right;">18:05</div>
<div class="r" style="left:646px;top:406px;width:18px;height:12px;background:#63BE7B;"></div>
<div class="r" style="left:664px;top:406px;width:29px;height:12px;background:#F8696B;"></div>
<div class="t n" style="left:647.60px;top:406.93px;width:14.80px;height:12.12px;line-height:12.12px;text-align:right;">7</div>
<div class="t n" style="left:666.40px;top:406.93px;width:24.70px;height:12.12px;line-height:12.12px;text-align:right;">20:32</div>
<div class="r" style="left:8px;top:418px;width:1270px;height:12px;background:#BFBFBF;"></div>
<div class="t n" style="left:8.70px;top:419.05px;width:30.60px;height:12.12px;line-height:12.12px;text-align:center;">23</div>
<div class="t n d" style="left:39.30px;top:419.05px;width:75.10px;height:12.12px;line-height:12.12px;text-align:center;">05-11-2017</div>
<div class="r" style="left:114px;top:418px;width:26px;height:12px;background:#FFFF00;"></div>
<div class="r" style="left:116.00px;top:419.65px;width:12.10px;height:8.73px;background:linear-gradient(90deg,#0A7CF5,#4FA6FA 55%,#A8D4FF);box-shadow:inset 0 0 0 0.6px #2F8AF0;"></div>
<div class="t n" style="left:116.00px;top:419.05px;width:14.90px;height:12.12px;line-height:12.12px;text-align:right;">39</div>
<div class="r" style="left:273px;top:418px;width:15px;height:12px;background:#FBBE7B;"></div>
<div class="r" style="left:288px;top:418px;width:29px;height:12px;background:#F8696B;"></div>
<div class="t n" style="left:275.00px;top:419.05px;width:11.20px;height:12.12px;line-height:12.12px;text-align:right;">5</div>
<div class="t n" style="left:290.20px;top:419.05px;width:24.90px;height:12.12px;line-height:12.12px;text-align:right;">08:31</div>
<div class="r" style="left:361px;top:418px;width:17px;height:12px;background:#63BE7B;"></div>
<div class="r" style="left:378px;top:418px;width:29px;height:12px;background:#F8696B;"></div>
<div class="t n" style="left:362.80px;top:419.05px;width:13.40px;height:12.12px;line-height:12.12px;text-align:right;">7</div>
<div class="t n" style="left:380.20px;top:419.05px;width:24.60px;height:12.12px;line-height:12.12px;text-align:right;">12:15</div>
<div class="r" style="left:454px;top:418px;width:19px;height:12px;background:#63BE7B;"></div>
<div class="r" style="left:473px;top:418px;width:29px;height:12px;background:#F8696B;"></div>
<div class="t n" style="left:456.40px;top:419.05px;width:15.00px;height:12.12px;line-height:12.12px;text-align:right;">7</div>
<div class="t n" style="left:475.40px;top:419.05px;width:24.60px;height:12.12px;line-height:12.12px;text-align:right;">13:28</div>
<div class="r" style="left:502px;top:418px;width:20px;height:12px;background:#63BE7B;"></div>
<div class="r" style="left:522px;top:418px;width:28px;height:12px;background:#F8696B;"></div>
<div class="t n" style="left:504.00px;top:419.05px;width:16.10px;height:12.12px;line-height:12.12px;text-align:right;">7</div>
<div class="t n" style="left:524.10px;top:419.05px;width:24.40px;height:12.12px;line-height:12.12px;text-align:right;">16:15</div>
<div class="r" style="left:550px;top:418px;width:20px;height:12px;background:#FDD480;"></div>
<div class="r" style="left:570px;top:418px;width:28px;height:12px;background:#F8696B;"></div>
<div class="t n" style="left:552.50px;top:419.05px;width:15.10px;height:12.12px;line-height:12.12px;text-align:right;">6</div>
<div class="t n" style="left:571.60px;top:419.05px;width:24.50px;height:12.12px;line-height:12.12px;text-align:right;">18:05</div>
<div class="r" style="left:646px;top:418px;width:18px;height:12px;background:#63BE7B;"></div>
<div class="r" style="left:664px;top:418px;width:29px;height:12px;background:#F8696B;"></div>
<div class="t n" style="left:647.60px;top:419.05px;width:14.80px;height:12.12px;line-height:12.12px;text-align:right;">7</div>
<div class="t n" style="left:666.40px;top:419.05px;width:24.70px;height:12.12px;line-height:12.12px;text-align:right;">20:32</div>
<div class="r" style="left:8px;top:430px;width:1270px;height:12px;background:#D9D9D9;"></div>
<div class="t n" style="left:8.70px;top:431.18px;width:30.60px;height:12.12px;line-height:12.12px;text-align:center;">24</div>
<div class="t n d" style="left:39.30px;top:431.18px;width:75.10px;height:12.12px;line-height:12.12px;text-align:center;">29-05-2017</div>
<div class="r" style="left:114px;top:430px;width:26px;height:12px;background:#FFFF00;"></div>
<div class="r" style="left:116.00px;top:431.77px;width:12.10px;height:8.73px;background:linear-gradient(90deg,#0A7CF5,#4FA6FA 55%,#A8D4FF);box-shadow:inset 0 0 0 0.6px #2F8AF0;"></div>
<div class="t n" style="left:116.00px;top:431.18px;width:14.90px;height:12.12px;line-height:12.12px;text-align:right;">39</div>
<div class="r" style="left:273px;top:430px;width:15px;height:12px;background:#FBBE7B;"></div>
<div class="r" style="left:288px;top:430px;width:29px;height:12px;background:#F8696B;"></div>
<div class="t n" style="left:275.00px;top:431.18px;width:11.20px;height:12.12px;line-height:12.12px;text-align:right;">5</div>
<div class="t n" style="left:290.20px;top:431.18px;width:24.90px;height:12.12px;line-height:12.12px;text-align:right;">08:31</div>
<div class="r" style="left:361px;top:430px;width:17px;height:12px;background:#63BE7B;"></div>
<div class="r" style="left:378px;top:430px;width:29px;height:12px;background:#F8696B;"></div>
<div class="t n" style="left:362.80px;top:431.18px;width:13.40px;height:12.12px;line-height:12.12px;text-align:right;">7</div>
<div class="t n" style="left:380.20px;top:431.18px;width:24.60px;height:12.12px;line-height:12.12px;text-align:right;">12:15</div>
<div class="r" style="left:454px;top:430px;width:19px;height:12px;background:#63BE7B;"></div>
<div class="r" style="left:473px;top:430px;width:29px;height:12px;background:#F8696B;"></div>
<div class="t n" style="left:456.40px;top:431.18px;width:15.00px;height:12.12px;line-height:12.12px;text-align:right;">7</div>
<div class="t n" style="left:475.40px;top:431.18px;width:24.60px;height:12.12px;line-height:12.12px;text-align:right;">13:28</div>
<div class="r" style="left:502px;top:430px;width:20px;height:12px;background:#63BE7B;"></div>
<div class="r" style="left:522px;top:430px;width:28px;height:12px;background:#F8696B;"></div>
<div class="t n" style="left:504.00px;top:431.18px;width:16.10px;height:12.12px;line-height:12.12px;text-align:right;">7</div>
<div class="t n" style="left:524.10px;top:431.18px;width:24.40px;height:12.12px;line-height:12.12px;text-align:right;">16:15</div>
<div class="r" style="left:550px;top:430px;width:20px;height:12px;background:#FDD480;"></div>
<div class="r" style="left:570px;top:430px;width:28px;height:12px;background:#F8696B;"></div>
<div class="t n" style="left:552.50px;top:431.18px;width:15.10px;height:12.12px;line-height:12.12px;text-align:right;">6</div>
<div class="t n" style="left:571.60px;top:431.18px;width:24.50px;height:12.12px;line-height:12.12px;text-align:right;">18:05</div>
<div class="r" style="left:646px;top:430px;width:18px;height:12px;background:#63BE7B;"></div>
<div class="r" style="left:664px;top:430px;width:29px;height:12px;background:#F8696B;"></div>
<div class="t n" style="left:647.60px;top:431.18px;width:14.80px;height:12.12px;line-height:12.12px;text-align:right;">7</div>
<div class="t n" style="left:666.40px;top:431.18px;width:24.70px;height:12.12px;line-height:12.12px;text-align:right;">20:32</div>
<div class="r" style="left:8px;top:442px;width:1270px;height:12px;background:#BFBFBF;"></div>
<div class="t n" style="left:8.70px;top:443.30px;width:30.60px;height:12.12px;line-height:12.12px;text-align:center;">25</div>
<div class="t n d" style="left:39.30px;top:443.30px;width:75.10px;height:12.12px;line-height:12.12px;text-align:center;">31-10-2016</div>
<div class="r" style="left:114px;top:442px;width:26px;height:12px;background:#FFFF00;"></div>
<div class="r" style="left:116.00px;top:443.90px;width:11.70px;height:8.73px;background:linear-gradient(90deg,#0A7CF5,#4FA6FA 55%,#A8D4FF);box-shadow:inset 0 0 0 0.6px #2F8AF0;"></div>
<div class="t n" style="left:116.00px;top:443.30px;width:14.90px;height:12.12px;line-height:12.12px;text-align:right;">38</div>
<div class="r" style="left:273px;top:442px;width:15px;height:12px;background:#FBBE7B;"></div>
<div class="r" style="left:288px;top:442px;width:29px;height:12px;background:#F8696B;"></div>
<div class="t n" style="left:275.00px;top:443.30px;width:11.20px;height:12.12px;line-height:12.12px;text-align:right;">5</div>
<div class="t n" style="left:290.20px;top:443.30px;width:24.90px;height:12.12px;line-height:12.12px;text-align:right;">08:28</div>
<div class="r" style="left:361px;top:442px;width:17px;height:12px;background:#63BE7B;"></div>
<div class="r" style="left:378px;top:442px;width:29px;height:12px;background:#F8696B;"></div>
<div class="t n" style="left:362.80px;top:443.30px;width:13.40px;height:12.12px;line-height:12.12px;text-align:right;">7</div>
<div class="t n" style="left:380.20px;top:443.30px;width:24.60px;height:12.12px;line-height:12.12px;text-align:right;">11:51</div>
<div class="r" style="left:454px;top:442px;width:19px;height:12px;background:#63BE7B;"></div>
<div class="r" style="left:473px;top:442px;width:29px;height:12px;background:#F8696B;"></div>
<div class="t n" style="left:456.40px;top:443.30px;width:15.00px;height:12.12px;line-height:12.12px;text-align:right;">7</div>
<div class="t n" style="left:475.40px;top:443.30px;width:24.60px;height:12.12px;line-height:12.12px;text-align:right;">13:37</div>
<div class="r" style="left:502px;top:442px;width:20px;height:12px;background:#FDD480;"></div>
<div class="r" style="left:522px;top:442px;width:28px;height:12px;background:#F8696B;"></div>
<div class="t n" style="left:504.00px;top:443.30px;width:16.10px;height:12.12px;line-height:12.12px;text-align:right;">6</div>
<div class="t n" style="left:524.10px;top:443.30px;width:24.40px;height:12.12px;line-height:12.12px;text-align:right;">15:47</div>
<div class="r" style="left:550px;top:442px;width:20px;height:12px;background:#FDD480;"></div>
<div class="r" style="left:570px;top:442px;width:28px;height:12px;background:#F8696B;"></div>
<div class="t n" style="left:552.50px;top:443.30px;width:15.10px;height:12.12px;line-height:12.12px;text-align:right;">6</div>
<div class="t n" style="left:571.60px;top:443.30px;width:24.50px;height:12.12px;line-height:12.12px;text-align:right;">17:57</div>
<div class="r" style="left:646px;top:442px;width:18px;height:12px;background:#63BE7B;"></div>
<div class="r" style="left:664px;top:442px;width:29px;height:12px;background:#F8696B;"></div>
<div class="t n" style="left:647.60px;top:443.30px;width:14.80px;height:12.12px;line-height:12.12px;text-align:right;">7</div>
<div class="t n" style="left:666.40px;top:443.30px;width:24.70px;height:12.12px;line-height:12.12px;text-align:right;">20:28</div>
<div class="r" style="left:8px;top:454px;width:1270px;height:12px;background:#D9D9D9;"></div>
<div class="t n" style="left:8.70px;top:455.43px;width:30.60px;height:12.12px;line-height:12.12px;text-align:center;">26</div>
<div class="t n d" style="left:39.30px;top:455.43px;width:75.10px;height:12.12px;line-height:12.12px;text-align:center;">01-06-2016</div>
<div class="r" style="left:114px;top:454px;width:26px;height:12px;background:#FFFF00;"></div>
<div class="r" style="left:116.00px;top:456.02px;width:11.70px;height:8.73px;background:linear-gradient(90deg,#0A7CF5,#4FA6FA 55%,#A8D4FF);box-shadow:inset 0 0 0 0.6px #2F8AF0;"></div>
<div class="t n" style="left:116.00px;top:455.43px;width:14.90px;height:12.12px;line-height:12.12px;text-align:right;">38</div>
<div class="r" style="left:273px;top:454px;width:15px;height:12px;background:#FBBE7B;"></div>
<div class="r" style="left:288px;top:454px;width:29px;height:12px;background:#F8696B;"></div>
<div class="t n" style="left:275.00px;top:455.43px;width:11.20px;height:12.12px;line-height:12.12px;text-align:right;">5</div>
<div class="t n" style="left:290.20px;top:455.43px;width:24.90px;height:12.12px;line-height:12.12px;text-align:right;">08:28</div>
<div class="r" style="left:361px;top:454px;width:17px;height:12px;background:#63BE7B;"></div>
<div class="r" style="left:378px;top:454px;width:29px;height:12px;background:#F8696B;"></div>
<div class="t n" style="left:362.80px;top:455.43px;width:13.40px;height:12.12px;line-height:12.12px;text-align:right;">7</div>
<div class="t n" style="left:380.20px;top:455.43px;width:24.60px;height:12.12px;line-height:12.12px;text-align:right;">11:51</div>
<div class="r" style="left:454px;top:454px;width:19px;height:12px;background:#63BE7B;"></div>
<div class="r" style="left:473px;top:454px;width:29px;height:12px;background:#F8696B;"></div>
<div class="t n" style="left:456.40px;top:455.43px;width:15.00px;height:12.12px;line-height:12.12px;text-align:right;">7</div>
<div class="t n" style="left:475.40px;top:455.43px;width:24.60px;height:12.12px;line-height:12.12px;text-align:right;">13:37</div>
<div class="r" style="left:502px;top:454px;width:20px;height:12px;background:#FDD480;"></div>
<div class="r" style="left:522px;top:454px;width:28px;height:12px;background:#F8696B;"></div>
<div class="t n" style="left:504.00px;top:455.43px;width:16.10px;height:12.12px;line-height:12.12px;text-align:right;">6</div>
<div class="t n" style="left:524.10px;top:455.43px;width:24.40px;height:12.12px;line-height:12.12px;text-align:right;">15:47</div>
<div class="r" style="left:550px;top:454px;width:20px;height:12px;background:#FDD480;"></div>
<div class="r" style="left:570px;top:454px;width:28px;height:12px;background:#F8696B;"></div>
<div class="t n" style="left:552.50px;top:455.43px;width:15.10px;height:12.12px;line-height:12.12px;text-align:right;">6</div>
<div class="t n" style="left:571.60px;top:455.43px;width:24.50px;height:12.12px;line-height:12.12px;text-align:right;">17:57</div>
<div class="r" style="left:646px;top:454px;width:18px;height:12px;background:#63BE7B;"></div>
<div class="r" style="left:664px;top:454px;width:29px;height:12px;background:#F8696B;"></div>
<div class="t n" style="left:647.60px;top:455.43px;width:14.80px;height:12.12px;line-height:12.12px;text-align:right;">7</div>
<div class="t n" style="left:666.40px;top:455.43px;width:24.70px;height:12.12px;line-height:12.12px;text-align:right;">20:28</div>
<div class="r" style="left:8px;top:466px;width:1270px;height:13px;background:#BFBFBF;"></div>
<div class="t n" style="left:8.70px;top:467.55px;width:30.60px;height:12.12px;line-height:12.12px;text-align:center;">27</div>
<div class="t n d" style="left:39.30px;top:467.55px;width:75.10px;height:12.12px;line-height:12.12px;text-align:center;">26-10-2015</div>
<div class="r" style="left:114px;top:466px;width:26px;height:13px;background:#FFFF00;"></div>
<div class="r" style="left:116.00px;top:468.15px;width:11.70px;height:8.73px;background:linear-gradient(90deg,#0A7CF5,#4FA6FA 55%,#A8D4FF);box-shadow:inset 0 0 0 0.6px #2F8AF0;"></div>
<div class="t n" style="left:116.00px;top:467.55px;width:14.90px;height:12.12px;line-height:12.12px;text-align:right;">38</div>
<div class="r" style="left:273px;top:466px;width:15px;height:13px;background:#FBBE7B;"></div>
<div class="r" style="left:288px;top:466px;width:29px;height:13px;background:#F8696B;"></div>
<div class="t n" style="left:275.00px;top:467.55px;width:11.20px;height:12.12px;line-height:12.12px;text-align:right;">5</div>
<div class="t n" style="left:290.20px;top:467.55px;width:24.90px;height:12.12px;line-height:12.12px;text-align:right;">08:25</div>
<div class="r" style="left:361px;top:466px;width:17px;height:13px;background:#63BE7B;"></div>
<div class="r" style="left:378px;top:466px;width:29px;height:13px;background:#F8696B;"></div>
<div class="t n" style="left:362.80px;top:467.55px;width:13.40px;height:12.12px;line-height:12.12px;text-align:right;">7</div>
<div class="t n" style="left:380.20px;top:467.55px;width:24.60px;height:12.12px;line-height:12.12px;text-align:right;">11:56</div>
<div class="r" style="left:454px;top:466px;width:19px;height:13px;background:#63BE7B;"></div>
<div class="r" style="left:473px;top:466px;width:29px;height:13px;background:#F8696B;"></div>
<div class="t n" style="left:456.40px;top:467.55px;width:15.00px;height:12.12px;line-height:12.12px;text-align:right;">7</div>
<div class="t n" style="left:475.40px;top:467.55px;width:24.60px;height:12.12px;line-height:12.12px;text-align:right;">13:28</div>
<div class="r" style="left:502px;top:466px;width:20px;height:13px;background:#63BE7B;"></div>
<div class="r" style="left:522px;top:466px;width:28px;height:13px;background:#F8696B;"></div>
<div class="t n" style="left:504.00px;top:467.55px;width:16.10px;height:12.12px;line-height:12.12px;text-align:right;">7</div>
<div class="t n" style="left:524.10px;top:467.55px;width:24.40px;height:12.12px;line-height:12.12px;text-align:right;">16:10</div>
<div class="r" style="left:550px;top:466px;width:20px;height:13px;background:#FBBE7B;"></div>
<div class="r" style="left:570px;top:466px;width:28px;height:13px;background:#F8696B;"></div>
<div class="t n" style="left:552.50px;top:467.55px;width:15.10px;height:12.12px;line-height:12.12px;text-align:right;">5</div>
<div class="t n" style="left:571.60px;top:467.55px;width:24.50px;height:12.12px;line-height:12.12px;text-align:right;">18:00</div>
<div class="r" style="left:646px;top:466px;width:18px;height:13px;background:#63BE7B;"></div>
<div class="r" style="left:664px;top:466px;width:29px;height:13px;background:#F8696B;"></div>
<div class="t n" style="left:647.60px;top:467.55px;width:14.80px;height:12.12px;line-height:12.12px;text-align:right;">7</div>
<div class="t n" style="left:666.40px;top:467.55px;width:24.70px;height:12.12px;line-height:12.12px;text-align:right;">20:31</div>
<div class="r" style="left:8px;top:479px;width:1270px;height:12px;background:#D9D9D9;"></div>
<div class="t n" style="left:8.70px;top:479.68px;width:30.60px;height:12.12px;line-height:12.12px;text-align:center;">28</div>
<div class="t n d" style="left:39.30px;top:479.68px;width:75.10px;height:12.12px;line-height:12.12px;text-align:center;">01-06-2015</div>
<div class="r" style="left:114px;top:479px;width:26px;height:12px;background:#FFFF00;"></div>
<div class="r" style="left:116.00px;top:480.27px;width:11.70px;height:8.73px;background:linear-gradient(90deg,#0A7CF5,#4FA6FA 55%,#A8D4FF);box-shadow:inset 0 0 0 0.6px #2F8AF0;"></div>
<div class="t n" style="left:116.00px;top:479.68px;width:14.90px;height:12.12px;line-height:12.12px;text-align:right;">38</div>
<div class="r" style="left:273px;top:479px;width:15px;height:12px;background:#FBBE7B;"></div>
<div class="r" style="left:288px;top:479px;width:29px;height:12px;background:#F8696B;"></div>
<div class="t n" style="left:275.00px;top:479.68px;width:11.20px;height:12.12px;line-height:12.12px;text-align:right;">5</div>
<div class="t n" style="left:290.20px;top:479.68px;width:24.90px;height:12.12px;line-height:12.12px;text-align:right;">08:25</div>
<div class="r" style="left:361px;top:479px;width:17px;height:12px;background:#63BE7B;"></div>
<div class="r" style="left:378px;top:479px;width:29px;height:12px;background:#F8696B;"></div>
<div class="t n" style="left:362.80px;top:479.68px;width:13.40px;height:12.12px;line-height:12.12px;text-align:right;">7</div>
<div class="t n" style="left:380.20px;top:479.68px;width:24.60px;height:12.12px;line-height:12.12px;text-align:right;">11:56</div>
<div class="r" style="left:454px;top:479px;width:19px;height:12px;background:#63BE7B;"></div>
<div class="r" style="left:473px;top:479px;width:29px;height:12px;background:#F8696B;"></div>
<div class="t n" style="left:456.40px;top:479.68px;width:15.00px;height:12.12px;line-height:12.12px;text-align:right;">7</div>
<div class="t n" style="left:475.40px;top:479.68px;width:24.60px;height:12.12px;line-height:12.12px;text-align:right;">13:28</div>
<div class="r" style="left:502px;top:479px;width:20px;height:12px;background:#63BE7B;"></div>
<div class="r" style="left:522px;top:479px;width:28px;height:12px;background:#F8696B;"></div>
<div class="t n" style="left:504.00px;top:479.68px;width:16.10px;height:12.12px;line-height:12.12px;text-align:right;">7</div>
<div class="t n" style="left:524.10px;top:479.68px;width:24.40px;height:12.12px;line-height:12.12px;text-align:right;">16:10</div>
<div class="r" style="left:550px;top:479px;width:20px;height:12px;background:#FBBE7B;"></div>
<div class="r" style="left:570px;top:479px;width:28px;height:12px;background:#F8696B;"></div>
<div class="t n" style="left:552.50px;top:479.68px;width:15.10px;height:12.12px;line-height:12.12px;text-align:right;">5</div>
<div class="t n" style="left:571.60px;top:479.68px;width:24.50px;height:12.12px;line-height:12.12px;text-align:right;">18:00</div>
<div class="r" style="left:646px;top:479px;width:18px;height:12px;background:#63BE7B;"></div>
<div class="r" style="left:664px;top:479px;width:29px;height:12px;background:#F8696B;"></div>
<div class="t n" style="left:647.60px;top:479.68px;width:14.80px;height:12.12px;line-height:12.12px;text-align:right;">7</div>
<div class="t n" style="left:666.40px;top:479.68px;width:24.70px;height:12.12px;line-height:12.12px;text-align:right;">19:40</div>
<div class="r" style="left:8px;top:491px;width:1270px;height:12px;background:#BFBFBF;"></div>
<div class="t n" style="left:8.70px;top:491.80px;width:30.60px;height:12.12px;line-height:12.12px;text-align:center;">29</div>
<div class="t n d" style="left:39.30px;top:491.80px;width:75.10px;height:12.12px;line-height:12.12px;text-align:center;">27-10-2014</div>
<div class="r" style="left:114px;top:491px;width:26px;height:12px;background:#FFFF00;"></div>
<div class="r" style="left:116.00px;top:492.40px;width:13.20px;height:8.73px;background:linear-gradient(90deg,#0A7CF5,#4FA6FA 55%,#A8D4FF);box-shadow:inset 0 0 0 0.6px #2F8AF0;"></div>
<div class="t n" style="left:116.00px;top:491.80px;width:14.90px;height:12.12px;line-height:12.12px;text-align:right;">43</div>
<div class="r" style="left:273px;top:491px;width:15px;height:12px;background:#FBBE7B;"></div>
<div class="r" style="left:288px;top:491px;width:29px;height:12px;background:#F8696B;"></div>
<div class="t n" style="left:275.00px;top:491.80px;width:11.20px;height:12.12px;line-height:12.12px;text-align:right;">5</div>
<div class="t n" style="left:290.20px;top:491.80px;width:24.90px;height:12.12px;line-height:12.12px;text-align:right;">08:23</div>
<div class="r" style="left:361px;top:491px;width:17px;height:12px;background:#63BE7B;"></div>
<div class="r" style="left:378px;top:491px;width:29px;height:12px;background:#F8696B;"></div>
<div class="t n" style="left:362.80px;top:491.80px;width:13.40px;height:12.12px;line-height:12.12px;text-align:right;">7</div>
<div class="t n" style="left:380.20px;top:491.80px;width:24.60px;height:12.12px;line-height:12.12px;text-align:right;">11:48</div>
<div class="r" style="left:454px;top:491px;width:19px;height:12px;background:#63BE7B;"></div>
<div class="r" style="left:473px;top:491px;width:29px;height:12px;background:#F8696B;"></div>
<div class="t n" style="left:456.40px;top:491.80px;width:15.00px;height:12.12px;line-height:12.12px;text-align:right;">7</div>
<div class="t n" style="left:475.40px;top:491.80px;width:24.60px;height:12.12px;line-height:12.12px;text-align:right;">13:18</div>
<div class="r" style="left:502px;top:491px;width:20px;height:12px;background:#63BE7B;"></div>
<div class="r" style="left:522px;top:491px;width:28px;height:12px;background:#F8696B;"></div>
<div class="t n" style="left:504.00px;top:491.80px;width:16.10px;height:12.12px;line-height:12.12px;text-align:right;">7</div>
<div class="t n" style="left:524.10px;top:491.80px;width:24.40px;height:12.12px;line-height:12.12px;text-align:right;">16:17</div>
<div class="r" style="left:550px;top:491px;width:20px;height:12px;background:#FBBE7B;"></div>
<div class="r" style="left:570px;top:491px;width:28px;height:12px;background:#F8696B;"></div>
<div class="t n" style="left:552.50px;top:491.80px;width:15.10px;height:12.12px;line-height:12.12px;text-align:right;">5</div>
<div class="t n" style="left:571.60px;top:491.80px;width:24.50px;height:12.12px;line-height:12.12px;text-align:right;">18:00</div>
<div class="r" style="left:646px;top:491px;width:18px;height:12px;background:#63BE7B;"></div>
<div class="r" style="left:664px;top:491px;width:29px;height:12px;background:#F8696B;"></div>
<div class="t n" style="left:647.60px;top:491.80px;width:14.80px;height:12.12px;line-height:12.12px;text-align:right;">7</div>
<div class="t n" style="left:666.40px;top:491.80px;width:24.70px;height:12.12px;line-height:12.12px;text-align:right;">19:43</div>
<div class="r" style="left:693px;top:491px;width:19px;height:12px;background:#FBBE7B;"></div>
<div class="r" style="left:712px;top:491px;width:29px;height:12px;background:#F8696B;"></div>
<div class="t n" style="left:695.10px;top:491.80px;width:15.30px;height:12.12px;line-height:12.12px;text-align:right;">5</div>
<div class="t n" style="left:714.40px;top:491.80px;width:24.60px;height:12.12px;line-height:12.12px;text-align:right;">22:27</div>
<div class="r" style="left:8px;top:503px;width:1270px;height:12px;background:#D9D9D9;"></div>
<div class="t n" style="left:8.70px;top:503.93px;width:30.60px;height:12.13px;line-height:12.13px;text-align:center;">30</div>
<div class="t n d" style="left:39.30px;top:503.93px;width:75.10px;height:12.13px;line-height:12.13px;text-align:center;">07-07-2014</div>
<div class="r" style="left:114px;top:503px;width:26px;height:12px;background:#FFFF00;"></div>
<div class="r" style="left:116.00px;top:504.52px;width:13.20px;height:8.73px;background:linear-gradient(90deg,#0A7CF5,#4FA6FA 55%,#A8D4FF);box-shadow:inset 0 0 0 0.6px #2F8AF0;"></div>
<div class="t n" style="left:116.00px;top:503.93px;width:14.90px;height:12.13px;line-height:12.13px;text-align:right;">43</div>
<div class="r" style="left:273px;top:503px;width:15px;height:12px;background:#FBBE7B;"></div>
<div class="r" style="left:288px;top:503px;width:29px;height:12px;background:#F8696B;"></div>
<div class="t n" style="left:275.00px;top:503.93px;width:11.20px;height:12.13px;line-height:12.13px;text-align:right;">5</div>
<div class="t n" style="left:290.20px;top:503.93px;width:24.90px;height:12.13px;line-height:12.13px;text-align:right;">08:23</div>
<div class="r" style="left:361px;top:503px;width:17px;height:12px;background:#63BE7B;"></div>
<div class="r" style="left:378px;top:503px;width:29px;height:12px;background:#F8696B;"></div>
<div class="t n" style="left:362.80px;top:503.93px;width:13.40px;height:12.13px;line-height:12.13px;text-align:right;">7</div>
<div class="t n" style="left:380.20px;top:503.93px;width:24.60px;height:12.13px;line-height:12.13px;text-align:right;">11:48</div>
<div class="r" style="left:454px;top:503px;width:19px;height:12px;background:#63BE7B;"></div>
<div class="r" style="left:473px;top:503px;width:29px;height:12px;background:#F8696B;"></div>
<div class="t n" style="left:456.40px;top:503.93px;width:15.00px;height:12.13px;line-height:12.13px;text-align:right;">7</div>
<div class="t n" style="left:475.40px;top:503.93px;width:24.60px;height:12.13px;line-height:12.13px;text-align:right;">13:18</div>
<div class="r" style="left:502px;top:503px;width:20px;height:12px;background:#63BE7B;"></div>
<div class="r" style="left:522px;top:503px;width:28px;height:12px;background:#F8696B;"></div>
<div class="t n" style="left:504.00px;top:503.93px;width:16.10px;height:12.13px;line-height:12.13px;text-align:right;">7</div>
<div class="t n" style="left:524.10px;top:503.93px;width:24.40px;height:12.13px;line-height:12.13px;text-align:right;">16:17</div>
<div class="r" style="left:550px;top:503px;width:20px;height:12px;background:#FBBE7B;"></div>
<div class="r" style="left:570px;top:503px;width:28px;height:12px;background:#F8696B;"></div>
<div class="t n" style="left:552.50px;top:503.93px;width:15.10px;height:12.13px;line-height:12.13px;text-align:right;">5</div>
<div class="t n" style="left:571.60px;top:503.93px;width:24.50px;height:12.13px;line-height:12.13px;text-align:right;">18:00</div>
<div class="r" style="left:646px;top:503px;width:18px;height:12px;background:#63BE7B;"></div>
<div class="r" style="left:664px;top:503px;width:29px;height:12px;background:#F8696B;"></div>
<div class="t n" style="left:647.60px;top:503.93px;width:14.80px;height:12.13px;line-height:12.13px;text-align:right;">7</div>
<div class="t n" style="left:666.40px;top:503.93px;width:24.70px;height:12.13px;line-height:12.13px;text-align:right;">19:43</div>
<div class="r" style="left:693px;top:503px;width:19px;height:12px;background:#FBBE7B;"></div>
<div class="r" style="left:712px;top:503px;width:29px;height:12px;background:#F8696B;"></div>
<div class="t n" style="left:695.10px;top:503.93px;width:15.30px;height:12.13px;line-height:12.13px;text-align:right;">5</div>
<div class="t n" style="left:714.40px;top:503.93px;width:24.60px;height:12.13px;line-height:12.13px;text-align:right;">22:27</div>
<div class="r" style="left:8px;top:515px;width:1270px;height:12px;background:#BFBFBF;"></div>
<div class="t n" style="left:8.70px;top:516.05px;width:30.60px;height:12.12px;line-height:12.12px;text-align:center;">31</div>
<div class="t n d" style="left:39.30px;top:516.05px;width:75.10px;height:12.12px;line-height:12.12px;text-align:center;">01-01-2014</div>
<div class="r" style="left:114px;top:515px;width:26px;height:12px;background:#FFFF00;"></div>
<div class="r" style="left:116.00px;top:516.65px;width:13.20px;height:8.72px;background:linear-gradient(90deg,#0A7CF5,#4FA6FA 55%,#A8D4FF);box-shadow:inset 0 0 0 0.6px #2F8AF0;"></div>
<div class="t n" style="left:116.00px;top:516.05px;width:14.90px;height:12.12px;line-height:12.12px;text-align:right;">43</div>
<div class="r" style="left:273px;top:515px;width:15px;height:12px;background:#FBBE7B;"></div>
<div class="r" style="left:288px;top:515px;width:29px;height:12px;background:#F8696B;"></div>
<div class="t n" style="left:275.00px;top:516.05px;width:11.20px;height:12.12px;line-height:12.12px;text-align:right;">5</div>
<div class="t n" style="left:290.20px;top:516.05px;width:24.90px;height:12.12px;line-height:12.12px;text-align:right;">08:23</div>
<div class="r" style="left:361px;top:515px;width:17px;height:12px;background:#63BE7B;"></div>
<div class="r" style="left:378px;top:515px;width:29px;height:12px;background:#F8696B;"></div>
<div class="t n" style="left:362.80px;top:516.05px;width:13.40px;height:12.12px;line-height:12.12px;text-align:right;">7</div>
<div class="t n" style="left:380.20px;top:516.05px;width:24.60px;height:12.12px;line-height:12.12px;text-align:right;">11:48</div>
<div class="r" style="left:454px;top:515px;width:19px;height:12px;background:#63BE7B;"></div>
<div class="r" style="left:473px;top:515px;width:29px;height:12px;background:#F8696B;"></div>
<div class="t n" style="left:456.40px;top:516.05px;width:15.00px;height:12.12px;line-height:12.12px;text-align:right;">7</div>
<div class="t n" style="left:475.40px;top:516.05px;width:24.60px;height:12.12px;line-height:12.12px;text-align:right;">13:18</div>
<div class="r" style="left:502px;top:515px;width:20px;height:12px;background:#63BE7B;"></div>
<div class="r" style="left:522px;top:515px;width:28px;height:12px;background:#F8696B;"></div>
<div class="t n" style="left:504.00px;top:516.05px;width:16.10px;height:12.12px;line-height:12.12px;text-align:right;">7</div>
<div class="t n" style="left:524.10px;top:516.05px;width:24.40px;height:12.12px;line-height:12.12px;text-align:right;">16:17</div>
<div class="r" style="left:550px;top:515px;width:20px;height:12px;background:#FBBE7B;"></div>
<div class="r" style="left:570px;top:515px;width:28px;height:12px;background:#F8696B;"></div>
<div class="t n" style="left:552.50px;top:516.05px;width:15.10px;height:12.12px;line-height:12.12px;text-align:right;">5</div>
<div class="t n" style="left:571.60px;top:516.05px;width:24.50px;height:12.12px;line-height:12.12px;text-align:right;">18:00</div>
<div class="r" style="left:646px;top:515px;width:18px;height:12px;background:#63BE7B;"></div>
<div class="r" style="left:664px;top:515px;width:29px;height:12px;background:#F8696B;"></div>
<div class="t n" style="left:647.60px;top:516.05px;width:14.80px;height:12.12px;line-height:12.12px;text-align:right;">7</div>
<div class="t n" style="left:666.40px;top:516.05px;width:24.70px;height:12.12px;line-height:12.12px;text-align:right;">19:43</div>
<div class="r" style="left:693px;top:515px;width:19px;height:12px;background:#FBBE7B;"></div>
<div class="r" style="left:712px;top:515px;width:29px;height:12px;background:#F8696B;"></div>
<div class="t n" style="left:695.10px;top:516.05px;width:15.30px;height:12.12px;line-height:12.12px;text-align:right;">5</div>
<div class="t n" style="left:714.40px;top:516.05px;width:24.60px;height:12.12px;line-height:12.12px;text-align:right;">22:24</div>
<div class="r" style="left:8px;top:527px;width:1270px;height:12px;background:#D9D9D9;"></div>
<div class="t n" style="left:8.70px;top:528.18px;width:30.60px;height:12.12px;line-height:12.12px;text-align:center;">32</div>
<div class="t n d" style="left:39.30px;top:528.18px;width:75.10px;height:12.12px;line-height:12.12px;text-align:center;">06-06-2013</div>
<div class="r" style="left:114px;top:527px;width:26px;height:12px;background:#FFFF00;"></div>
<div class="r" style="left:116.00px;top:528.78px;width:13.20px;height:8.72px;background:linear-gradient(90deg,#0A7CF5,#4FA6FA 55%,#A8D4FF);box-shadow:inset 0 0 0 0.6px #2F8AF0;"></div>
<div class="t n" style="left:116.00px;top:528.18px;width:14.90px;height:12.12px;line-height:12.12px;text-align:right;">43</div>
<div class="r" style="left:273px;top:527px;width:15px;height:12px;background:#FBBE7B;"></div>
<div class="r" style="left:288px;top:527px;width:29px;height:12px;background:#F8696B;"></div>
<div class="t n" style="left:275.00px;top:528.18px;width:11.20px;height:12.12px;line-height:12.12px;text-align:right;">5</div>
<div class="t n" style="left:290.20px;top:528.18px;width:24.90px;height:12.12px;line-height:12.12px;text-align:right;">08:23</div>
<div class="r" style="left:361px;top:527px;width:17px;height:12px;background:#63BE7B;"></div>
<div class="r" style="left:378px;top:527px;width:29px;height:12px;background:#F8696B;"></div>
<div class="t n" style="left:362.80px;top:528.18px;width:13.40px;height:12.12px;line-height:12.12px;text-align:right;">7</div>
<div class="t n" style="left:380.20px;top:528.18px;width:24.60px;height:12.12px;line-height:12.12px;text-align:right;">11:48</div>
<div class="r" style="left:454px;top:527px;width:19px;height:12px;background:#63BE7B;"></div>
<div class="r" style="left:473px;top:527px;width:29px;height:12px;background:#F8696B;"></div>
<div class="t n" style="left:456.40px;top:528.18px;width:15.00px;height:12.12px;line-height:12.12px;text-align:right;">7</div>
<div class="t n" style="left:475.40px;top:528.18px;width:24.60px;height:12.12px;line-height:12.12px;text-align:right;">13:18</div>
<div class="r" style="left:502px;top:527px;width:20px;height:12px;background:#63BE7B;"></div>
<div class="r" style="left:522px;top:527px;width:28px;height:12px;background:#F8696B;"></div>
<div class="t n" style="left:504.00px;top:528.18px;width:16.10px;height:12.12px;line-height:12.12px;text-align:right;">7</div>
<div class="t n" style="left:524.10px;top:528.18px;width:24.40px;height:12.12px;line-height:12.12px;text-align:right;">16:07</div>
<div class="r" style="left:550px;top:527px;width:20px;height:12px;background:#FBBE7B;"></div>
<div class="r" style="left:570px;top:527px;width:28px;height:12px;background:#F8696B;"></div>
<div class="t n" style="left:552.50px;top:528.18px;width:15.10px;height:12.12px;line-height:12.12px;text-align:right;">5</div>
<div class="t n" style="left:571.60px;top:528.18px;width:24.50px;height:12.12px;line-height:12.12px;text-align:right;">18:00</div>
<div class="r" style="left:646px;top:527px;width:18px;height:12px;background:#63BE7B;"></div>
<div class="r" style="left:664px;top:527px;width:29px;height:12px;background:#F8696B;"></div>
<div class="t n" style="left:647.60px;top:528.18px;width:14.80px;height:12.12px;line-height:12.12px;text-align:right;">7</div>
<div class="t n" style="left:666.40px;top:528.18px;width:24.70px;height:12.12px;line-height:12.12px;text-align:right;">19:43</div>
<div class="r" style="left:693px;top:527px;width:19px;height:12px;background:#FBBE7B;"></div>
<div class="r" style="left:712px;top:527px;width:29px;height:12px;background:#F8696B;"></div>
<div class="t n" style="left:695.10px;top:528.18px;width:15.30px;height:12.12px;line-height:12.12px;text-align:right;">5</div>
<div class="t n" style="left:714.40px;top:528.18px;width:24.60px;height:12.12px;line-height:12.12px;text-align:right;">22:24</div>
<div class="r" style="left:8px;top:539px;width:1270px;height:12px;background:#BFBFBF;"></div>
<div class="t n" style="left:8.70px;top:540.30px;width:30.60px;height:12.12px;line-height:12.12px;text-align:center;">33</div>
<div class="t n d" style="left:39.30px;top:540.30px;width:75.10px;height:12.12px;line-height:12.12px;text-align:center;">10-12-2012</div>
<div class="r" style="left:114px;top:539px;width:26px;height:12px;background:#FFFF00;"></div>
<div class="r" style="left:116.00px;top:540.90px;width:13.20px;height:8.72px;background:linear-gradient(90deg,#0A7CF5,#4FA6FA 55%,#A8D4FF);box-shadow:inset 0 0 0 0.6px #2F8AF0;"></div>
<div class="t n" style="left:116.00px;top:540.30px;width:14.90px;height:12.12px;line-height:12.12px;text-align:right;">43</div>
<div class="r" style="left:273px;top:539px;width:15px;height:12px;background:#FBBE7B;"></div>
<div class="r" style="left:288px;top:539px;width:29px;height:12px;background:#F8696B;"></div>
<div class="t n" style="left:275.00px;top:540.30px;width:11.20px;height:12.12px;line-height:12.12px;text-align:right;">5</div>
<div class="t n" style="left:290.20px;top:540.30px;width:24.90px;height:12.12px;line-height:12.12px;text-align:right;">08:23</div>
<div class="r" style="left:361px;top:539px;width:17px;height:12px;background:#63BE7B;"></div>
<div class="r" style="left:378px;top:539px;width:29px;height:12px;background:#F8696B;"></div>
<div class="t n" style="left:362.80px;top:540.30px;width:13.40px;height:12.12px;line-height:12.12px;text-align:right;">7</div>
<div class="t n" style="left:380.20px;top:540.30px;width:24.60px;height:12.12px;line-height:12.12px;text-align:right;">11:48</div>
<div class="r" style="left:454px;top:539px;width:19px;height:12px;background:#63BE7B;"></div>
<div class="r" style="left:473px;top:539px;width:29px;height:12px;background:#F8696B;"></div>
<div class="t n" style="left:456.40px;top:540.30px;width:15.00px;height:12.12px;line-height:12.12px;text-align:right;">7</div>
<div class="t n" style="left:475.40px;top:540.30px;width:24.60px;height:12.12px;line-height:12.12px;text-align:right;">13:18</div>
<div class="r" style="left:502px;top:539px;width:20px;height:12px;background:#63BE7B;"></div>
<div class="r" style="left:522px;top:539px;width:28px;height:12px;background:#F8696B;"></div>
<div class="t n" style="left:504.00px;top:540.30px;width:16.10px;height:12.12px;line-height:12.12px;text-align:right;">7</div>
<div class="t n" style="left:524.10px;top:540.30px;width:24.40px;height:12.12px;line-height:12.12px;text-align:right;">16:07</div>
<div class="r" style="left:550px;top:539px;width:20px;height:12px;background:#FBBE7B;"></div>
<div class="r" style="left:570px;top:539px;width:28px;height:12px;background:#F8696B;"></div>
<div class="t n" style="left:552.50px;top:540.30px;width:15.10px;height:12.12px;line-height:12.12px;text-align:right;">5</div>
<div class="t n" style="left:571.60px;top:540.30px;width:24.50px;height:12.12px;line-height:12.12px;text-align:right;">18:00</div>
<div class="r" style="left:646px;top:539px;width:18px;height:12px;background:#63BE7B;"></div>
<div class="r" style="left:664px;top:539px;width:29px;height:12px;background:#F8696B;"></div>
<div class="t n" style="left:647.60px;top:540.30px;width:14.80px;height:12.12px;line-height:12.12px;text-align:right;">7</div>
<div class="t n" style="left:666.40px;top:540.30px;width:24.70px;height:12.12px;line-height:12.12px;text-align:right;">19:43</div>
<div class="r" style="left:693px;top:539px;width:19px;height:12px;background:#FBBE7B;"></div>
<div class="r" style="left:712px;top:539px;width:29px;height:12px;background:#F8696B;"></div>
<div class="t n" style="left:695.10px;top:540.30px;width:15.30px;height:12.12px;line-height:12.12px;text-align:right;">5</div>
<div class="t n" style="left:714.40px;top:540.30px;width:24.60px;height:12.12px;line-height:12.12px;text-align:right;">22:24</div>
<div class="r" style="left:8px;top:551px;width:1270px;height:12px;background:#D9D9D9;"></div>
<div class="t n" style="left:8.70px;top:552.43px;width:30.60px;height:12.12px;line-height:12.12px;text-align:center;">34</div>
<div class="t n d" style="left:39.30px;top:552.43px;width:75.10px;height:12.12px;line-height:12.12px;text-align:center;">24-01-2012</div>
<div class="r" style="left:114px;top:551px;width:26px;height:12px;background:#FFFF00;"></div>
<div class="r" style="left:116.00px;top:553.03px;width:13.50px;height:8.72px;background:linear-gradient(90deg,#0A7CF5,#4FA6FA 55%,#A8D4FF);box-shadow:inset 0 0 0 0.6px #2F8AF0;"></div>
<div class="t n" style="left:116.00px;top:552.43px;width:14.90px;height:12.12px;line-height:12.12px;text-align:right;">44</div>
<div class="r" style="left:273px;top:551px;width:15px;height:12px;background:#FBBE7B;"></div>
<div class="r" style="left:288px;top:551px;width:29px;height:12px;background:#F8696B;"></div>
<div class="t n" style="left:275.00px;top:552.43px;width:11.20px;height:12.12px;line-height:12.12px;text-align:right;">5</div>
<div class="t n" style="left:290.20px;top:552.43px;width:24.90px;height:12.12px;line-height:12.12px;text-align:right;">08:25</div>
<div class="r" style="left:317px;top:551px;width:15px;height:12px;background:#F8696B;"></div>
<div class="r" style="left:332px;top:551px;width:29px;height:12px;background:#F8696B;"></div>
<div class="t n" style="left:319.10px;top:552.43px;width:11.40px;height:12.12px;line-height:12.12px;text-align:right;">1</div>
<div class="t n" style="left:334.50px;top:552.43px;width:24.30px;height:12.12px;line-height:12.12px;text-align:right;">09:26</div>
<div class="r" style="left:361px;top:551px;width:17px;height:12px;background:#63BE7B;"></div>
<div class="r" style="left:378px;top:551px;width:29px;height:12px;background:#F8696B;"></div>
<div class="t n" style="left:362.80px;top:552.43px;width:13.40px;height:12.12px;line-height:12.12px;text-align:right;">7</div>
<div class="t n" style="left:380.20px;top:552.43px;width:24.60px;height:12.12px;line-height:12.12px;text-align:right;">11:48</div>
<div class="r" style="left:454px;top:551px;width:19px;height:12px;background:#63BE7B;"></div>
<div class="r" style="left:473px;top:551px;width:29px;height:12px;background:#F8696B;"></div>
<div class="t n" style="left:456.40px;top:552.43px;width:15.00px;height:12.12px;line-height:12.12px;text-align:right;">7</div>
<div class="t n" style="left:475.40px;top:552.43px;width:24.60px;height:12.12px;line-height:12.12px;text-align:right;">13:18</div>
<div class="r" style="left:502px;top:551px;width:20px;height:12px;background:#FDD480;"></div>
<div class="r" style="left:522px;top:551px;width:28px;height:12px;background:#F8696B;"></div>
<div class="t n" style="left:504.00px;top:552.43px;width:16.10px;height:12.12px;line-height:12.12px;text-align:right;">6</div>
<div class="t n" style="left:524.10px;top:552.43px;width:24.40px;height:12.12px;line-height:12.12px;text-align:right;">16:07</div>
<div class="r" style="left:550px;top:551px;width:20px;height:12px;background:#FBBE7B;"></div>
<div class="r" style="left:570px;top:551px;width:28px;height:12px;background:#F8696B;"></div>
<div class="t n" style="left:552.50px;top:552.43px;width:15.10px;height:12.12px;line-height:12.12px;text-align:right;">5</div>
<div class="t n" style="left:571.60px;top:552.43px;width:24.50px;height:12.12px;line-height:12.12px;text-align:right;">18:00</div>
<div class="r" style="left:646px;top:551px;width:18px;height:12px;background:#63BE7B;"></div>
<div class="r" style="left:664px;top:551px;width:29px;height:12px;background:#F8696B;"></div>
<div class="t n" style="left:647.60px;top:552.43px;width:14.80px;height:12.12px;line-height:12.12px;text-align:right;">7</div>
<div class="t n" style="left:666.40px;top:552.43px;width:24.70px;height:12.12px;line-height:12.12px;text-align:right;">19:43</div>
<div class="r" style="left:693px;top:551px;width:19px;height:12px;background:#FDD480;"></div>
<div class="r" style="left:712px;top:551px;width:29px;height:12px;background:#F8696B;"></div>
<div class="t n" style="left:695.10px;top:552.43px;width:15.30px;height:12.12px;line-height:12.12px;text-align:right;">6</div>
<div class="t n" style="left:714.40px;top:552.43px;width:24.60px;height:12.12px;line-height:12.12px;text-align:right;">22:20</div>
<div class="r" style="left:8px;top:563px;width:1270px;height:13px;background:#BFBFBF;"></div>
<div class="t n" style="left:8.70px;top:564.55px;width:30.60px;height:12.12px;line-height:12.12px;text-align:center;">35</div>
<div class="t n d" style="left:39.30px;top:564.55px;width:75.10px;height:12.12px;line-height:12.12px;text-align:center;">26-04-2011</div>
<div class="r" style="left:114px;top:563px;width:26px;height:13px;background:#FFFF00;"></div>
<div class="r" style="left:116.00px;top:565.15px;width:11.70px;height:8.72px;background:linear-gradient(90deg,#0A7CF5,#4FA6FA 55%,#A8D4FF);box-shadow:inset 0 0 0 0.6px #2F8AF0;"></div>
<div class="t n" style="left:116.00px;top:564.55px;width:14.90px;height:12.12px;line-height:12.12px;text-align:right;">38</div>
<div class="r" style="left:273px;top:563px;width:15px;height:13px;background:#FBBE7B;"></div>
<div class="r" style="left:288px;top:563px;width:29px;height:13px;background:#F8696B;"></div>
<div class="t n" style="left:275.00px;top:564.55px;width:11.20px;height:12.12px;line-height:12.12px;text-align:right;">5</div>
<div class="t n" style="left:290.20px;top:564.55px;width:24.90px;height:12.12px;line-height:12.12px;text-align:right;">08:35</div>
<div class="r" style="left:317px;top:563px;width:15px;height:13px;background:#F8696B;"></div>
<div class="r" style="left:332px;top:563px;width:29px;height:13px;background:#F8696B;"></div>
<div class="t n" style="left:319.10px;top:564.55px;width:11.40px;height:12.12px;line-height:12.12px;text-align:right;">1</div>
<div class="t n" style="left:334.50px;top:564.55px;width:24.30px;height:12.12px;line-height:12.12px;text-align:right;">09:33</div>
<div class="r" style="left:361px;top:563px;width:17px;height:13px;background:#63BE7B;"></div>
<div class="r" style="left:378px;top:563px;width:29px;height:13px;background:#F8696B;"></div>
<div class="t n" style="left:362.80px;top:564.55px;width:13.40px;height:12.12px;line-height:12.12px;text-align:right;">7</div>
<div class="t n" style="left:380.20px;top:564.55px;width:24.60px;height:12.12px;line-height:12.12px;text-align:right;">11:58</div>
<div class="r" style="left:454px;top:563px;width:19px;height:13px;background:#63BE7B;"></div>
<div class="r" style="left:473px;top:563px;width:29px;height:13px;background:#F8696B;"></div>
<div class="t n" style="left:456.40px;top:564.55px;width:15.00px;height:12.12px;line-height:12.12px;text-align:right;">7</div>
<div class="t n" style="left:475.40px;top:564.55px;width:24.60px;height:12.12px;line-height:12.12px;text-align:right;">13:39</div>
<div class="r" style="left:502px;top:563px;width:20px;height:13px;background:#FDD480;"></div>
<div class="r" style="left:522px;top:563px;width:28px;height:13px;background:#F8696B;"></div>
<div class="t n" style="left:504.00px;top:564.55px;width:16.10px;height:12.12px;line-height:12.12px;text-align:right;">6</div>
<div class="t n" style="left:524.10px;top:564.55px;width:24.40px;height:12.12px;line-height:12.12px;text-align:right;">16:17</div>
<div class="r" style="left:550px;top:563px;width:20px;height:13px;background:#FBBE7B;"></div>
<div class="r" style="left:570px;top:563px;width:28px;height:13px;background:#F8696B;"></div>
<div class="t n" style="left:552.50px;top:564.55px;width:15.10px;height:12.12px;line-height:12.12px;text-align:right;">5</div>
<div class="t n" style="left:571.60px;top:564.55px;width:24.50px;height:12.12px;line-height:12.12px;text-align:right;">17:55</div>
<div class="r" style="left:646px;top:563px;width:18px;height:13px;background:#63BE7B;"></div>
<div class="r" style="left:664px;top:563px;width:29px;height:13px;background:#F8696B;"></div>
<div class="t n" style="left:647.60px;top:564.55px;width:14.80px;height:12.12px;line-height:12.12px;text-align:right;">7</div>
<div class="t n" style="left:666.40px;top:564.55px;width:24.70px;height:12.12px;line-height:12.12px;text-align:right;">19:59</div>
<div class="r" style="left:8px;top:576px;width:1270px;height:12px;background:#D9D9D9;"></div>
<div class="t n" style="left:8.70px;top:576.68px;width:30.60px;height:12.12px;line-height:12.12px;text-align:center;">36</div>
<div class="t n d" style="left:39.30px;top:576.68px;width:75.10px;height:12.12px;line-height:12.12px;text-align:center;">17-01-2011</div>
<div class="r" style="left:114px;top:576px;width:26px;height:12px;background:#FFFF00;"></div>
<div class="r" style="left:116.00px;top:577.28px;width:11.30px;height:8.72px;background:linear-gradient(90deg,#0A7CF5,#4FA6FA 55%,#A8D4FF);box-shadow:inset 0 0 0 0.6px #2F8AF0;"></div>
<div class="t n" style="left:116.00px;top:576.68px;width:14.90px;height:12.12px;line-height:12.12px;text-align:right;">37</div>
<div class="r" style="left:273px;top:576px;width:15px;height:12px;background:#FBBE7B;"></div>
<div class="r" style="left:288px;top:576px;width:29px;height:12px;background:#F8696B;"></div>
<div class="t n" style="left:275.00px;top:576.68px;width:11.20px;height:12.12px;line-height:12.12px;text-align:right;">5</div>
<div class="t n" style="left:290.20px;top:576.68px;width:24.90px;height:12.12px;line-height:12.12px;text-align:right;">08:33</div>
<div class="r" style="left:317px;top:576px;width:15px;height:12px;background:#F8696B;"></div>
<div class="r" style="left:332px;top:576px;width:29px;height:12px;background:#F8696B;"></div>
<div class="t n" style="left:319.10px;top:576.68px;width:11.40px;height:12.12px;line-height:12.12px;text-align:right;">1</div>
<div class="t n" style="left:334.50px;top:576.68px;width:24.30px;height:12.12px;line-height:12.12px;text-align:right;">09:33</div>
<div class="r" style="left:361px;top:576px;width:17px;height:12px;background:#63BE7B;"></div>
<div class="r" style="left:378px;top:576px;width:29px;height:12px;background:#F8696B;"></div>
<div class="t n" style="left:362.80px;top:576.68px;width:13.40px;height:12.12px;line-height:12.12px;text-align:right;">7</div>
<div class="t n" style="left:380.20px;top:576.68px;width:24.60px;height:12.12px;line-height:12.12px;text-align:right;">12:01</div>
<div class="r" style="left:454px;top:576px;width:19px;height:12px;background:#FDD480;"></div>
<div class="r" style="left:473px;top:576px;width:29px;height:12px;background:#F8696B;"></div>
<div class="t n" style="left:456.40px;top:576.68px;width:15.00px;height:12.12px;line-height:12.12px;text-align:right;">6</div>
<div class="t n" style="left:475.40px;top:576.68px;width:24.60px;height:12.12px;line-height:12.12px;text-align:right;">13:34</div>
<div class="r" style="left:502px;top:576px;width:20px;height:12px;background:#FDD480;"></div>
<div class="r" style="left:522px;top:576px;width:28px;height:12px;background:#F8696B;"></div>
<div class="t n" style="left:504.00px;top:576.68px;width:16.10px;height:12.12px;line-height:12.12px;text-align:right;">6</div>
<div class="t n" style="left:524.10px;top:576.68px;width:24.40px;height:12.12px;line-height:12.12px;text-align:right;">16:19</div>
<div class="r" style="left:550px;top:576px;width:20px;height:12px;background:#FBBE7B;"></div>
<div class="r" style="left:570px;top:576px;width:28px;height:12px;background:#F8696B;"></div>
<div class="t n" style="left:552.50px;top:576.68px;width:15.10px;height:12.12px;line-height:12.12px;text-align:right;">5</div>
<div class="t n" style="left:571.60px;top:576.68px;width:24.50px;height:12.12px;line-height:12.12px;text-align:right;">18:15</div>
<div class="r" style="left:646px;top:576px;width:18px;height:12px;background:#63BE7B;"></div>
<div class="r" style="left:664px;top:576px;width:29px;height:12px;background:#F8696B;"></div>
<div class="t n" style="left:647.60px;top:576.68px;width:14.80px;height:12.12px;line-height:12.12px;text-align:right;">7</div>
<div class="t n" style="left:666.40px;top:576.68px;width:24.70px;height:12.12px;line-height:12.12px;text-align:right;">20:07</div>
<div class="r" style="left:8px;top:588px;width:1270px;height:12px;background:#BFBFBF;"></div>
<div class="t n" style="left:8.70px;top:588.80px;width:30.60px;height:12.12px;line-height:12.12px;text-align:center;">37</div>
<div class="t n d" style="left:39.30px;top:588.80px;width:75.10px;height:12.12px;line-height:12.12px;text-align:center;">01-06-2010</div>
<div class="r" style="left:114px;top:588px;width:26px;height:12px;background:#FFFF00;"></div>
<div class="r" style="left:116.00px;top:589.40px;width:11.70px;height:8.72px;background:linear-gradient(90deg,#0A7CF5,#4FA6FA 55%,#A8D4FF);box-shadow:inset 0 0 0 0.6px #2F8AF0;"></div>
<div class="t n" style="left:116.00px;top:588.80px;width:14.90px;height:12.12px;line-height:12.12px;text-align:right;">38</div>
<div class="r" style="left:273px;top:588px;width:15px;height:12px;background:#FBBE7B;"></div>
<div class="r" style="left:288px;top:588px;width:29px;height:12px;background:#F8696B;"></div>
<div class="t n" style="left:275.00px;top:588.80px;width:11.20px;height:12.12px;line-height:12.12px;text-align:right;">5</div>
<div class="t n" style="left:290.20px;top:588.80px;width:24.90px;height:12.12px;line-height:12.12px;text-align:right;">08:30</div>
<div class="r" style="left:317px;top:588px;width:15px;height:12px;background:#F8696B;"></div>
<div class="r" style="left:332px;top:588px;width:29px;height:12px;background:#F8696B;"></div>
<div class="t n" style="left:319.10px;top:588.80px;width:11.40px;height:12.12px;line-height:12.12px;text-align:right;">1</div>
<div class="t n" style="left:334.50px;top:588.80px;width:24.30px;height:12.12px;line-height:12.12px;text-align:right;">09:33</div>
<div class="r" style="left:361px;top:588px;width:17px;height:12px;background:#63BE7B;"></div>
<div class="r" style="left:378px;top:588px;width:29px;height:12px;background:#F8696B;"></div>
<div class="t n" style="left:362.80px;top:588.80px;width:13.40px;height:12.12px;line-height:12.12px;text-align:right;">7</div>
<div class="t n" style="left:380.20px;top:588.80px;width:24.60px;height:12.12px;line-height:12.12px;text-align:right;">11:07</div>
<div class="r" style="left:454px;top:588px;width:19px;height:12px;background:#63BE7B;"></div>
<div class="r" style="left:473px;top:588px;width:29px;height:12px;background:#F8696B;"></div>
<div class="t n" style="left:456.40px;top:588.80px;width:15.00px;height:12.12px;line-height:12.12px;text-align:right;">7</div>
<div class="t n" style="left:475.40px;top:588.80px;width:24.60px;height:12.12px;line-height:12.12px;text-align:right;">15:10</div>
<div class="r" style="left:502px;top:588px;width:20px;height:12px;background:#FDD480;"></div>
<div class="r" style="left:522px;top:588px;width:28px;height:12px;background:#F8696B;"></div>
<div class="t n" style="left:504.00px;top:588.80px;width:16.10px;height:12.12px;line-height:12.12px;text-align:right;">6</div>
<div class="t n" style="left:524.10px;top:588.80px;width:24.40px;height:12.12px;line-height:12.12px;text-align:right;">16:30</div>
<div class="r" style="left:550px;top:588px;width:20px;height:12px;background:#FBBE7B;"></div>
<div class="r" style="left:570px;top:588px;width:28px;height:12px;background:#F8696B;"></div>
<div class="t n" style="left:552.50px;top:588.80px;width:15.10px;height:12.12px;line-height:12.12px;text-align:right;">5</div>
<div class="t n" style="left:571.60px;top:588.80px;width:24.50px;height:12.12px;line-height:12.12px;text-align:right;">17:56</div>
<div class="r" style="left:646px;top:588px;width:18px;height:12px;background:#63BE7B;"></div>
<div class="r" style="left:664px;top:588px;width:29px;height:12px;background:#F8696B;"></div>
<div class="t n" style="left:647.60px;top:588.80px;width:14.80px;height:12.12px;line-height:12.12px;text-align:right;">7</div>
<div class="t n" style="left:666.40px;top:588.80px;width:24.70px;height:12.12px;line-height:12.12px;text-align:right;">19:57</div>
<div class="r" style="left:8px;top:600px;width:1270px;height:12px;background:#D9D9D9;"></div>
<div class="t n" style="left:8.70px;top:600.93px;width:30.60px;height:12.12px;line-height:12.12px;text-align:center;">38</div>
<div class="t n d" style="left:39.30px;top:600.93px;width:75.10px;height:12.12px;line-height:12.12px;text-align:center;">01-12-2009</div>
<div class="r" style="left:114px;top:600px;width:26px;height:12px;background:#FFFF00;"></div>
<div class="r" style="left:116.00px;top:601.53px;width:11.70px;height:8.72px;background:linear-gradient(90deg,#0A7CF5,#4FA6FA 55%,#A8D4FF);box-shadow:inset 0 0 0 0.6px #2F8AF0;"></div>
<div class="t n" style="left:116.00px;top:600.93px;width:14.90px;height:12.12px;line-height:12.12px;text-align:right;">38</div>
<div class="r" style="left:273px;top:600px;width:15px;height:12px;background:#FBBE7B;"></div>
<div class="r" style="left:288px;top:600px;width:29px;height:12px;background:#F8696B;"></div>
<div class="t n" style="left:275.00px;top:600.93px;width:11.20px;height:12.12px;line-height:12.12px;text-align:right;">5</div>
<div class="t n" style="left:290.20px;top:600.93px;width:24.90px;height:12.12px;line-height:12.12px;text-align:right;">08:39</div>
<div class="r" style="left:317px;top:600px;width:15px;height:12px;background:#F8696B;"></div>
<div class="r" style="left:332px;top:600px;width:29px;height:12px;background:#F8696B;"></div>
<div class="t n" style="left:319.10px;top:600.93px;width:11.40px;height:12.12px;line-height:12.12px;text-align:right;">1</div>
<div class="t n" style="left:334.50px;top:600.93px;width:24.30px;height:12.12px;line-height:12.12px;text-align:right;">09:37</div>
<div class="r" style="left:361px;top:600px;width:17px;height:12px;background:#63BE7B;"></div>
<div class="r" style="left:378px;top:600px;width:29px;height:12px;background:#F8696B;"></div>
<div class="t n" style="left:362.80px;top:600.93px;width:13.40px;height:12.12px;line-height:12.12px;text-align:right;">7</div>
<div class="t n" style="left:380.20px;top:600.93px;width:24.60px;height:12.12px;line-height:12.12px;text-align:right;">11:25</div>
<div class="r" style="left:454px;top:600px;width:19px;height:12px;background:#63BE7B;"></div>
<div class="r" style="left:473px;top:600px;width:29px;height:12px;background:#F8696B;"></div>
<div class="t n" style="left:456.40px;top:600.93px;width:15.00px;height:12.12px;line-height:12.12px;text-align:right;">7</div>
<div class="t n" style="left:475.40px;top:600.93px;width:24.60px;height:12.12px;line-height:12.12px;text-align:right;">14:52</div>
<div class="r" style="left:502px;top:600px;width:20px;height:12px;background:#FDD480;"></div>
<div class="r" style="left:522px;top:600px;width:28px;height:12px;background:#F8696B;"></div>
<div class="t n" style="left:504.00px;top:600.93px;width:16.10px;height:12.12px;line-height:12.12px;text-align:right;">6</div>
<div class="t n" style="left:524.10px;top:600.93px;width:24.40px;height:12.12px;line-height:12.12px;text-align:right;">16:40</div>
<div class="r" style="left:550px;top:600px;width:20px;height:12px;background:#FBBE7B;"></div>
<div class="r" style="left:570px;top:600px;width:28px;height:12px;background:#F8696B;"></div>
<div class="t n" style="left:552.50px;top:600.93px;width:15.10px;height:12.12px;line-height:12.12px;text-align:right;">5</div>
<div class="t n" style="left:571.60px;top:600.93px;width:24.50px;height:12.12px;line-height:12.12px;text-align:right;">18:13</div>
<div class="r" style="left:646px;top:600px;width:18px;height:12px;background:#63BE7B;"></div>
<div class="r" style="left:664px;top:600px;width:29px;height:12px;background:#F8696B;"></div>
<div class="t n" style="left:647.60px;top:600.93px;width:14.80px;height:12.12px;line-height:12.12px;text-align:right;">7</div>
<div class="t n" style="left:666.40px;top:600.93px;width:24.70px;height:12.12px;line-height:12.12px;text-align:right;">19:59</div>
<div class="r" style="left:8px;top:612px;width:1270px;height:12px;background:#BFBFBF;"></div>
<div class="t n" style="left:8.70px;top:613.05px;width:30.60px;height:12.12px;line-height:12.12px;text-align:center;">39</div>
<div class="t n d" style="left:39.30px;top:613.05px;width:75.10px;height:12.12px;line-height:12.12px;text-align:center;">01-05-2009</div>
<div class="r" style="left:114px;top:612px;width:26px;height:12px;background:#FFFF00;"></div>
<div class="r" style="left:116.00px;top:613.65px;width:11.70px;height:8.72px;background:linear-gradient(90deg,#0A7CF5,#4FA6FA 55%,#A8D4FF);box-shadow:inset 0 0 0 0.6px #2F8AF0;"></div>
<div class="t n" style="left:116.00px;top:613.05px;width:14.90px;height:12.12px;line-height:12.12px;text-align:right;">38</div>
<div class="r" style="left:273px;top:612px;width:15px;height:12px;background:#FBBE7B;"></div>
<div class="r" style="left:288px;top:612px;width:29px;height:12px;background:#F8696B;"></div>
<div class="t n" style="left:275.00px;top:613.05px;width:11.20px;height:12.12px;line-height:12.12px;text-align:right;">5</div>
<div class="t n" style="left:290.20px;top:613.05px;width:24.90px;height:12.12px;line-height:12.12px;text-align:right;">08:32</div>
<div class="r" style="left:317px;top:612px;width:15px;height:12px;background:#F8696B;"></div>
<div class="r" style="left:332px;top:612px;width:29px;height:12px;background:#F8696B;"></div>
<div class="t n" style="left:319.10px;top:613.05px;width:11.40px;height:12.12px;line-height:12.12px;text-align:right;">1</div>
<div class="t n" style="left:334.50px;top:613.05px;width:24.30px;height:12.12px;line-height:12.12px;text-align:right;">09:26</div>
<div class="r" style="left:361px;top:612px;width:17px;height:12px;background:#63BE7B;"></div>
<div class="r" style="left:378px;top:612px;width:29px;height:12px;background:#F8696B;"></div>
<div class="t n" style="left:362.80px;top:613.05px;width:13.40px;height:12.12px;line-height:12.12px;text-align:right;">7</div>
<div class="t n" style="left:380.20px;top:613.05px;width:24.60px;height:12.12px;line-height:12.12px;text-align:right;">11:17</div>
<div class="r" style="left:454px;top:612px;width:19px;height:12px;background:#63BE7B;"></div>
<div class="r" style="left:473px;top:612px;width:29px;height:12px;background:#F8696B;"></div>
<div class="t n" style="left:456.40px;top:613.05px;width:15.00px;height:12.12px;line-height:12.12px;text-align:right;">7</div>
<div class="t n" style="left:475.40px;top:613.05px;width:24.60px;height:12.12px;line-height:12.12px;text-align:right;">15:02</div>
<div class="r" style="left:502px;top:612px;width:20px;height:12px;background:#FDD480;"></div>
<div class="r" style="left:522px;top:612px;width:28px;height:12px;background:#F8696B;"></div>
<div class="t n" style="left:504.00px;top:613.05px;width:16.10px;height:12.12px;line-height:12.12px;text-align:right;">6</div>
<div class="t n" style="left:524.10px;top:613.05px;width:24.40px;height:12.12px;line-height:12.12px;text-align:right;">16:52</div>
<div class="r" style="left:550px;top:612px;width:20px;height:12px;background:#FBBE7B;"></div>
<div class="r" style="left:570px;top:612px;width:28px;height:12px;background:#F8696B;"></div>
<div class="t n" style="left:552.50px;top:613.05px;width:15.10px;height:12.12px;line-height:12.12px;text-align:right;">5</div>
<div class="t n" style="left:571.60px;top:613.05px;width:24.50px;height:12.12px;line-height:12.12px;text-align:right;">18:11</div>
<div class="r" style="left:646px;top:612px;width:18px;height:12px;background:#63BE7B;"></div>
<div class="r" style="left:664px;top:612px;width:29px;height:12px;background:#F8696B;"></div>
<div class="t n" style="left:647.60px;top:613.05px;width:14.80px;height:12.12px;line-height:12.12px;text-align:right;">7</div>
<div class="t n" style="left:666.40px;top:613.05px;width:24.70px;height:12.12px;line-height:12.12px;text-align:right;">19:52</div>
<div class="r" style="left:8px;top:624px;width:1270px;height:12px;background:#D9D9D9;"></div>
<div class="t n" style="left:8.70px;top:625.18px;width:30.60px;height:12.12px;line-height:12.12px;text-align:center;">40</div>
<div class="t n d" style="left:39.30px;top:625.18px;width:75.10px;height:12.12px;line-height:12.12px;text-align:center;">01-12-2008</div>
<div class="r" style="left:114px;top:624px;width:26px;height:12px;background:#FFFF00;"></div>
<div class="r" style="left:116.00px;top:625.78px;width:11.70px;height:8.72px;background:linear-gradient(90deg,#0A7CF5,#4FA6FA 55%,#A8D4FF);box-shadow:inset 0 0 0 0.6px #2F8AF0;"></div>
<div class="t n" style="left:116.00px;top:625.18px;width:14.90px;height:12.12px;line-height:12.12px;text-align:right;">38</div>
<div class="r" style="left:273px;top:624px;width:15px;height:12px;background:#FBBE7B;"></div>
<div class="r" style="left:288px;top:624px;width:29px;height:12px;background:#F8696B;"></div>
<div class="t n" style="left:275.00px;top:625.18px;width:11.20px;height:12.12px;line-height:12.12px;text-align:right;">5</div>
<div class="t n" style="left:290.20px;top:625.18px;width:24.90px;height:12.12px;line-height:12.12px;text-align:right;">08:32</div>
<div class="r" style="left:317px;top:624px;width:15px;height:12px;background:#F8696B;"></div>
<div class="r" style="left:332px;top:624px;width:29px;height:12px;background:#F8696B;"></div>
<div class="t n" style="left:319.10px;top:625.18px;width:11.40px;height:12.12px;line-height:12.12px;text-align:right;">1</div>
<div class="t n" style="left:334.50px;top:625.18px;width:24.30px;height:12.12px;line-height:12.12px;text-align:right;">09:22</div>
<div class="r" style="left:361px;top:624px;width:17px;height:12px;background:#63BE7B;"></div>
<div class="r" style="left:378px;top:624px;width:29px;height:12px;background:#F8696B;"></div>
<div class="t n" style="left:362.80px;top:625.18px;width:13.40px;height:12.12px;line-height:12.12px;text-align:right;">7</div>
<div class="t n" style="left:380.20px;top:625.18px;width:24.60px;height:12.12px;line-height:12.12px;text-align:right;">11:18</div>
<div class="r" style="left:454px;top:624px;width:19px;height:12px;background:#63BE7B;"></div>
<div class="r" style="left:473px;top:624px;width:29px;height:12px;background:#F8696B;"></div>
<div class="t n" style="left:456.40px;top:625.18px;width:15.00px;height:12.12px;line-height:12.12px;text-align:right;">7</div>
<div class="t n" style="left:475.40px;top:625.18px;width:24.60px;height:12.12px;line-height:12.12px;text-align:right;">14:37</div>
<div class="r" style="left:502px;top:624px;width:20px;height:12px;background:#FDD480;"></div>
<div class="r" style="left:522px;top:624px;width:28px;height:12px;background:#F8696B;"></div>
<div class="t n" style="left:504.00px;top:625.18px;width:16.10px;height:12.12px;line-height:12.12px;text-align:right;">6</div>
<div class="t n" style="left:524.10px;top:625.18px;width:24.40px;height:12.12px;line-height:12.12px;text-align:right;">17:05</div>
<div class="r" style="left:550px;top:624px;width:20px;height:12px;background:#FBBE7B;"></div>
<div class="r" style="left:570px;top:624px;width:28px;height:12px;background:#F8696B;"></div>
<div class="t n" style="left:552.50px;top:625.18px;width:15.10px;height:12.12px;line-height:12.12px;text-align:right;">5</div>
<div class="t n" style="left:571.60px;top:625.18px;width:24.50px;height:12.12px;line-height:12.12px;text-align:right;">18:09</div>
<div class="r" style="left:646px;top:624px;width:18px;height:12px;background:#63BE7B;"></div>
<div class="r" style="left:664px;top:624px;width:29px;height:12px;background:#F8696B;"></div>
<div class="t n" style="left:647.60px;top:625.18px;width:14.80px;height:12.12px;line-height:12.12px;text-align:right;">7</div>
<div class="t n" style="left:666.40px;top:625.18px;width:24.70px;height:12.12px;line-height:12.12px;text-align:right;">19:52</div>
<div class="r" style="left:8px;top:636px;width:1270px;height:12px;background:#BFBFBF;"></div>
<div class="t n" style="left:8.70px;top:637.30px;width:30.60px;height:12.12px;line-height:12.12px;text-align:center;">41</div>
<div class="t n d" style="left:39.30px;top:637.30px;width:75.10px;height:12.12px;line-height:12.12px;text-align:center;">01-06-2008</div>
<div class="r" style="left:114px;top:636px;width:26px;height:12px;background:#FFFF00;"></div>
<div class="r" style="left:116.00px;top:637.90px;width:11.70px;height:8.72px;background:linear-gradient(90deg,#0A7CF5,#4FA6FA 55%,#A8D4FF);box-shadow:inset 0 0 0 0.6px #2F8AF0;"></div>
<div class="t n" style="left:116.00px;top:637.30px;width:14.90px;height:12.12px;line-height:12.12px;text-align:right;">38</div>
<div class="r" style="left:273px;top:636px;width:15px;height:12px;background:#FBBE7B;"></div>
<div class="r" style="left:288px;top:636px;width:29px;height:12px;background:#F8696B;"></div>
<div class="t n" style="left:275.00px;top:637.30px;width:11.20px;height:12.12px;line-height:12.12px;text-align:right;">5</div>
<div class="t n" style="left:290.20px;top:637.30px;width:24.90px;height:12.12px;line-height:12.12px;text-align:right;">08:32</div>
<div class="r" style="left:317px;top:636px;width:15px;height:12px;background:#F8696B;"></div>
<div class="r" style="left:332px;top:636px;width:29px;height:12px;background:#F8696B;"></div>
<div class="t n" style="left:319.10px;top:637.30px;width:11.40px;height:12.12px;line-height:12.12px;text-align:right;">1</div>
<div class="t n" style="left:334.50px;top:637.30px;width:24.30px;height:12.12px;line-height:12.12px;text-align:right;">09:29</div>
<div class="r" style="left:361px;top:636px;width:17px;height:12px;background:#63BE7B;"></div>
<div class="r" style="left:378px;top:636px;width:29px;height:12px;background:#F8696B;"></div>
<div class="t n" style="left:362.80px;top:637.30px;width:13.40px;height:12.12px;line-height:12.12px;text-align:right;">7</div>
<div class="t n" style="left:380.20px;top:637.30px;width:24.60px;height:12.12px;line-height:12.12px;text-align:right;">11:19</div>
<div class="r" style="left:454px;top:636px;width:19px;height:12px;background:#63BE7B;"></div>
<div class="r" style="left:473px;top:636px;width:29px;height:12px;background:#F8696B;"></div>
<div class="t n" style="left:456.40px;top:637.30px;width:15.00px;height:12.12px;line-height:12.12px;text-align:right;">7</div>
<div class="t n" style="left:475.40px;top:637.30px;width:24.60px;height:12.12px;line-height:12.12px;text-align:right;">14:50</div>
<div class="r" style="left:502px;top:636px;width:20px;height:12px;background:#FDD480;"></div>
<div class="r" style="left:522px;top:636px;width:28px;height:12px;background:#F8696B;"></div>
<div class="t n" style="left:504.00px;top:637.30px;width:16.10px;height:12.12px;line-height:12.12px;text-align:right;">6</div>
<div class="t n" style="left:524.10px;top:637.30px;width:24.40px;height:12.12px;line-height:12.12px;text-align:right;">17:07</div>
<div class="r" style="left:550px;top:636px;width:20px;height:12px;background:#FBBE7B;"></div>
<div class="r" style="left:570px;top:636px;width:28px;height:12px;background:#F8696B;"></div>
<div class="t n" style="left:552.50px;top:637.30px;width:15.10px;height:12.12px;line-height:12.12px;text-align:right;">5</div>
<div class="t n" style="left:571.60px;top:637.30px;width:24.50px;height:12.12px;line-height:12.12px;text-align:right;">18:17</div>
<div class="r" style="left:646px;top:636px;width:18px;height:12px;background:#63BE7B;"></div>
<div class="r" style="left:664px;top:636px;width:29px;height:12px;background:#F8696B;"></div>
<div class="t n" style="left:647.60px;top:637.30px;width:14.80px;height:12.12px;line-height:12.12px;text-align:right;">7</div>
<div class="t n" style="left:666.40px;top:637.30px;width:24.70px;height:12.12px;line-height:12.12px;text-align:right;">19:59</div>
<div class="r" style="left:8px;top:648px;width:1270px;height:12px;background:#D9D9D9;"></div>
<div class="t n" style="left:8.70px;top:649.43px;width:30.60px;height:12.12px;line-height:12.12px;text-align:center;">42</div>
<div class="t n d" style="left:39.30px;top:649.43px;width:75.10px;height:12.12px;line-height:12.12px;text-align:center;">14-01-2008</div>
<div class="r" style="left:114px;top:648px;width:26px;height:12px;background:#FFFF00;"></div>
<div class="r" style="left:116.00px;top:650.03px;width:11.70px;height:8.72px;background:linear-gradient(90deg,#0A7CF5,#4FA6FA 55%,#A8D4FF);box-shadow:inset 0 0 0 0.6px #2F8AF0;"></div>
<div class="t n" style="left:116.00px;top:649.43px;width:14.90px;height:12.12px;line-height:12.12px;text-align:right;">38</div>
<div class="r" style="left:273px;top:648px;width:15px;height:12px;background:#FBBE7B;"></div>
<div class="r" style="left:288px;top:648px;width:29px;height:12px;background:#F8696B;"></div>
<div class="t n" style="left:275.00px;top:649.43px;width:11.20px;height:12.12px;line-height:12.12px;text-align:right;">5</div>
<div class="t n" style="left:290.20px;top:649.43px;width:24.90px;height:12.12px;line-height:12.12px;text-align:right;">08:38</div>
<div class="r" style="left:317px;top:648px;width:15px;height:12px;background:#F8696B;"></div>
<div class="r" style="left:332px;top:648px;width:29px;height:12px;background:#F8696B;"></div>
<div class="t n" style="left:319.10px;top:649.43px;width:11.40px;height:12.12px;line-height:12.12px;text-align:right;">1</div>
<div class="t n" style="left:334.50px;top:649.43px;width:24.30px;height:12.12px;line-height:12.12px;text-align:right;">09:19</div>
<div class="r" style="left:361px;top:648px;width:17px;height:12px;background:#63BE7B;"></div>
<div class="r" style="left:378px;top:648px;width:29px;height:12px;background:#F8696B;"></div>
<div class="t n" style="left:362.80px;top:649.43px;width:13.40px;height:12.12px;line-height:12.12px;text-align:right;">7</div>
<div class="t n" style="left:380.20px;top:649.43px;width:24.60px;height:12.12px;line-height:12.12px;text-align:right;">11:05</div>
<div class="r" style="left:454px;top:648px;width:19px;height:12px;background:#63BE7B;"></div>
<div class="r" style="left:473px;top:648px;width:29px;height:12px;background:#F8696B;"></div>
<div class="t n" style="left:456.40px;top:649.43px;width:15.00px;height:12.12px;line-height:12.12px;text-align:right;">7</div>
<div class="t n" style="left:475.40px;top:649.43px;width:24.60px;height:12.12px;line-height:12.12px;text-align:right;">14:49</div>
<div class="r" style="left:502px;top:648px;width:20px;height:12px;background:#FDD480;"></div>
<div class="r" style="left:522px;top:648px;width:28px;height:12px;background:#F8696B;"></div>
<div class="t n" style="left:504.00px;top:649.43px;width:16.10px;height:12.12px;line-height:12.12px;text-align:right;">6</div>
<div class="t n" style="left:524.10px;top:649.43px;width:24.40px;height:12.12px;line-height:12.12px;text-align:right;">16:57</div>
<div class="r" style="left:550px;top:648px;width:20px;height:12px;background:#FBBE7B;"></div>
<div class="r" style="left:570px;top:648px;width:28px;height:12px;background:#F8696B;"></div>
<div class="t n" style="left:552.50px;top:649.43px;width:15.10px;height:12.12px;line-height:12.12px;text-align:right;">5</div>
<div class="t n" style="left:571.60px;top:649.43px;width:24.50px;height:12.12px;line-height:12.12px;text-align:right;">18:02</div>
<div class="r" style="left:646px;top:648px;width:18px;height:12px;background:#63BE7B;"></div>
<div class="r" style="left:664px;top:648px;width:29px;height:12px;background:#F8696B;"></div>
<div class="t n" style="left:647.60px;top:649.43px;width:14.80px;height:12.12px;line-height:12.12px;text-align:right;">7</div>
<div class="t n" style="left:666.40px;top:649.43px;width:24.70px;height:12.12px;line-height:12.12px;text-align:right;">19:49</div>
<div class="r" style="left:8px;top:660px;width:1270px;height:13px;background:#BFBFBF;"></div>
<div class="t n" style="left:8.70px;top:661.55px;width:30.60px;height:12.12px;line-height:12.12px;text-align:center;">43</div>
<div class="t n d" style="left:39.30px;top:661.55px;width:75.10px;height:12.12px;line-height:12.12px;text-align:center;">29-04-2007</div>
<div class="r" style="left:114px;top:660px;width:26px;height:13px;background:#FFFF00;"></div>
<div class="r" style="left:116.00px;top:662.15px;width:9.30px;height:8.72px;background:linear-gradient(90deg,#0A7CF5,#4FA6FA 55%,#A8D4FF);box-shadow:inset 0 0 0 0.6px #2F8AF0;"></div>
<div class="t n" style="left:116.00px;top:661.55px;width:14.90px;height:12.12px;line-height:12.12px;text-align:right;">33</div>
<div class="r" style="left:273px;top:660px;width:15px;height:13px;background:#FBBE7B;"></div>
<div class="r" style="left:288px;top:660px;width:29px;height:13px;background:#F8696B;"></div>
<div class="t n" style="left:275.00px;top:661.55px;width:11.20px;height:12.12px;line-height:12.12px;text-align:right;">5</div>
<div class="t n" style="left:290.20px;top:661.55px;width:24.90px;height:12.12px;line-height:12.12px;text-align:right;">08:44</div>
<div class="r" style="left:317px;top:660px;width:15px;height:13px;background:#F8696B;"></div>
<div class="r" style="left:332px;top:660px;width:29px;height:13px;background:#F8696B;"></div>
<div class="t n" style="left:319.10px;top:661.55px;width:11.40px;height:12.12px;line-height:12.12px;text-align:right;">1</div>
<div class="t n" style="left:334.50px;top:661.55px;width:24.30px;height:12.12px;line-height:12.12px;text-align:right;">09:21</div>
<div class="r" style="left:361px;top:660px;width:17px;height:13px;background:#63BE7B;"></div>
<div class="r" style="left:378px;top:660px;width:29px;height:13px;background:#F8696B;"></div>
<div class="t n" style="left:362.80px;top:661.55px;width:13.40px;height:12.12px;line-height:12.12px;text-align:right;">7</div>
<div class="t n" style="left:380.20px;top:661.55px;width:24.60px;height:12.12px;line-height:12.12px;text-align:right;">11:13</div>
<div class="r" style="left:454px;top:660px;width:19px;height:13px;background:#FA7F6F;"></div>
<div class="r" style="left:473px;top:660px;width:29px;height:13px;background:#F8696B;"></div>
<div class="t n" style="left:456.40px;top:661.55px;width:15.00px;height:12.12px;line-height:12.12px;text-align:right;">2</div>
<div class="t n" style="left:475.40px;top:661.55px;width:24.60px;height:12.12px;line-height:12.12px;text-align:right;">14:52</div>
<div class="r" style="left:502px;top:660px;width:20px;height:13px;background:#FDD480;"></div>
<div class="r" style="left:522px;top:660px;width:28px;height:13px;background:#F8696B;"></div>
<div class="t n" style="left:504.00px;top:661.55px;width:16.10px;height:12.12px;line-height:12.12px;text-align:right;">6</div>
<div class="t n" style="left:524.10px;top:661.55px;width:24.40px;height:12.12px;line-height:12.12px;text-align:right;">17:05</div>
<div class="r" style="left:550px;top:660px;width:20px;height:13px;background:#FBBE7B;"></div>
<div class="r" style="left:570px;top:660px;width:28px;height:13px;background:#F8696B;"></div>
<div class="t n" style="left:552.50px;top:661.55px;width:15.10px;height:12.12px;line-height:12.12px;text-align:right;">5</div>
<div class="t n" style="left:571.60px;top:661.55px;width:24.50px;height:12.12px;line-height:12.12px;text-align:right;">18:07</div>
<div class="r" style="left:646px;top:660px;width:18px;height:13px;background:#63BE7B;"></div>
<div class="r" style="left:664px;top:660px;width:29px;height:13px;background:#F8696B;"></div>
<div class="t n" style="left:647.60px;top:661.55px;width:14.80px;height:12.12px;line-height:12.12px;text-align:right;">7</div>
<div class="t n" style="left:666.40px;top:661.55px;width:24.70px;height:12.12px;line-height:12.12px;text-align:right;">20:01</div>
<div class="r" style="left:8px;top:673px;width:1270px;height:12px;background:#D9D9D9;"></div>
<div class="t n" style="left:8.70px;top:673.68px;width:30.60px;height:12.12px;line-height:12.12px;text-align:center;">44</div>
<div class="t n d" style="left:39.30px;top:673.68px;width:75.10px;height:12.12px;line-height:12.12px;text-align:center;">29-10-2006</div>
<div class="r" style="left:114px;top:673px;width:26px;height:12px;background:#FFFF00;"></div>
<div class="r" style="left:116.00px;top:674.28px;width:9.30px;height:8.72px;background:linear-gradient(90deg,#0A7CF5,#4FA6FA 55%,#A8D4FF);box-shadow:inset 0 0 0 0.6px #2F8AF0;"></div>
<div class="t n" style="left:116.00px;top:673.68px;width:14.90px;height:12.12px;line-height:12.12px;text-align:right;">33</div>
<div class="r" style="left:273px;top:673px;width:15px;height:12px;background:#FBBE7B;"></div>
<div class="r" style="left:288px;top:673px;width:29px;height:12px;background:#F8696B;"></div>
<div class="t n" style="left:275.00px;top:673.68px;width:11.20px;height:12.12px;line-height:12.12px;text-align:right;">5</div>
<div class="t n" style="left:290.20px;top:673.68px;width:24.90px;height:12.12px;line-height:12.12px;text-align:right;">08:39</div>
<div class="r" style="left:317px;top:673px;width:15px;height:12px;background:#F8696B;"></div>
<div class="r" style="left:332px;top:673px;width:29px;height:12px;background:#F8696B;"></div>
<div class="t n" style="left:319.10px;top:673.68px;width:11.40px;height:12.12px;line-height:12.12px;text-align:right;">1</div>
<div class="t n" style="left:334.50px;top:673.68px;width:24.30px;height:12.12px;line-height:12.12px;text-align:right;">09:14</div>
<div class="r" style="left:361px;top:673px;width:17px;height:12px;background:#63BE7B;"></div>
<div class="r" style="left:378px;top:673px;width:29px;height:12px;background:#F8696B;"></div>
<div class="t n" style="left:362.80px;top:673.68px;width:13.40px;height:12.12px;line-height:12.12px;text-align:right;">7</div>
<div class="t n" style="left:380.20px;top:673.68px;width:24.60px;height:12.12px;line-height:12.12px;text-align:right;">11:06</div>
<div class="r" style="left:454px;top:673px;width:19px;height:12px;background:#FA7F6F;"></div>
<div class="r" style="left:473px;top:673px;width:29px;height:12px;background:#F8696B;"></div>
<div class="t n" style="left:456.40px;top:673.68px;width:15.00px;height:12.12px;line-height:12.12px;text-align:right;">2</div>
<div class="t n" style="left:475.40px;top:673.68px;width:24.60px;height:12.12px;line-height:12.12px;text-align:right;">14:45</div>
<div class="r" style="left:502px;top:673px;width:20px;height:12px;background:#FDD480;"></div>
<div class="r" style="left:522px;top:673px;width:28px;height:12px;background:#F8696B;"></div>
<div class="t n" style="left:504.00px;top:673.68px;width:16.10px;height:12.12px;line-height:12.12px;text-align:right;">6</div>
<div class="t n" style="left:524.10px;top:673.68px;width:24.40px;height:12.12px;line-height:12.12px;text-align:right;">16:58</div>
<div class="r" style="left:550px;top:673px;width:20px;height:12px;background:#FBBE7B;"></div>
<div class="r" style="left:570px;top:673px;width:28px;height:12px;background:#F8696B;"></div>
<div class="t n" style="left:552.50px;top:673.68px;width:15.10px;height:12.12px;line-height:12.12px;text-align:right;">5</div>
<div class="t n" style="left:571.60px;top:673.68px;width:24.50px;height:12.12px;line-height:12.12px;text-align:right;">18:02</div>
<div class="r" style="left:646px;top:673px;width:18px;height:12px;background:#63BE7B;"></div>
<div class="r" style="left:664px;top:673px;width:29px;height:12px;background:#F8696B;"></div>
<div class="t n" style="left:647.60px;top:673.68px;width:14.80px;height:12.12px;line-height:12.12px;text-align:right;">7</div>
<div class="t n" style="left:666.40px;top:673.68px;width:24.70px;height:12.12px;line-height:12.12px;text-align:right;">19:43</div>
<div class="r" style="left:8px;top:685px;width:1270px;height:12px;background:#BFBFBF;"></div>
<div class="t n" style="left:8.70px;top:685.80px;width:30.60px;height:12.12px;line-height:12.12px;text-align:center;">45</div>
<div class="t n d" style="left:39.30px;top:685.80px;width:75.10px;height:12.12px;line-height:12.12px;text-align:center;">30-04-2006</div>
<div class="r" style="left:114px;top:685px;width:26px;height:12px;background:#FFFF00;"></div>
<div class="r" style="left:116.00px;top:686.40px;width:9.30px;height:8.72px;background:linear-gradient(90deg,#0A7CF5,#4FA6FA 55%,#A8D4FF);box-shadow:inset 0 0 0 0.6px #2F8AF0;"></div>
<div class="t n" style="left:116.00px;top:685.80px;width:14.90px;height:12.12px;line-height:12.12px;text-align:right;">33</div>
<div class="r" style="left:273px;top:685px;width:15px;height:12px;background:#FBBE7B;"></div>
<div class="r" style="left:288px;top:685px;width:29px;height:12px;background:#F8696B;"></div>
<div class="t n" style="left:275.00px;top:685.80px;width:11.20px;height:12.12px;line-height:12.12px;text-align:right;">5</div>
<div class="t n" style="left:290.20px;top:685.80px;width:24.90px;height:12.12px;line-height:12.12px;text-align:right;">08:44</div>
<div class="r" style="left:317px;top:685px;width:15px;height:12px;background:#F8696B;"></div>
<div class="r" style="left:332px;top:685px;width:29px;height:12px;background:#F8696B;"></div>
<div class="t n" style="left:319.10px;top:685.80px;width:11.40px;height:12.12px;line-height:12.12px;text-align:right;">1</div>
<div class="t n" style="left:334.50px;top:685.80px;width:24.30px;height:12.12px;line-height:12.12px;text-align:right;">09:21</div>
<div class="r" style="left:361px;top:685px;width:17px;height:12px;background:#63BE7B;"></div>
<div class="r" style="left:378px;top:685px;width:29px;height:12px;background:#F8696B;"></div>
<div class="t n" style="left:362.80px;top:685.80px;width:13.40px;height:12.12px;line-height:12.12px;text-align:right;">7</div>
<div class="t n" style="left:380.20px;top:685.80px;width:24.60px;height:12.12px;line-height:12.12px;text-align:right;">11:01</div>
<div class="r" style="left:454px;top:685px;width:19px;height:12px;background:#FA7F6F;"></div>
<div class="r" style="left:473px;top:685px;width:29px;height:12px;background:#F8696B;"></div>
<div class="t n" style="left:456.40px;top:685.80px;width:15.00px;height:12.12px;line-height:12.12px;text-align:right;">2</div>
<div class="t n" style="left:475.40px;top:685.80px;width:24.60px;height:12.12px;line-height:12.12px;text-align:right;">14:52</div>
<div class="r" style="left:502px;top:685px;width:20px;height:12px;background:#FDD480;"></div>
<div class="r" style="left:522px;top:685px;width:28px;height:12px;background:#F8696B;"></div>
<div class="t n" style="left:504.00px;top:685.80px;width:16.10px;height:12.12px;line-height:12.12px;text-align:right;">6</div>
<div class="t n" style="left:524.10px;top:685.80px;width:24.40px;height:12.12px;line-height:12.12px;text-align:right;">17:05</div>
<div class="r" style="left:550px;top:685px;width:20px;height:12px;background:#FBBE7B;"></div>
<div class="r" style="left:570px;top:685px;width:28px;height:12px;background:#F8696B;"></div>
<div class="t n" style="left:552.50px;top:685.80px;width:15.10px;height:12.12px;line-height:12.12px;text-align:right;">5</div>
<div class="t n" style="left:571.60px;top:685.80px;width:24.50px;height:12.12px;line-height:12.12px;text-align:right;">18:07</div>
<div class="r" style="left:646px;top:685px;width:18px;height:12px;background:#63BE7B;"></div>
<div class="r" style="left:664px;top:685px;width:29px;height:12px;background:#F8696B;"></div>
<div class="t n" style="left:647.60px;top:685.80px;width:14.80px;height:12.12px;line-height:12.12px;text-align:right;">7</div>
<div class="t n" style="left:666.40px;top:685.80px;width:24.70px;height:12.12px;line-height:12.12px;text-align:right;">20:01</div>
<div class="r" style="left:1278px;top:382px;width:2px;height:12px;background:#FFC7CE;"></div>
<div class="r" style="left:1278px;top:551px;width:2px;height:12px;background:#FFC7CE;"></div>
<div class="r" style="left:8px;top:151px;width:1269px;height:1px;background:#B1B1B1;"></div>
<div class="r" style="left:140px;top:0px;width:1px;height:698px;background:#B3B3B3;"></div>
<div class="r" style="left:7px;top:114px;width:1271px;height:2px;background:#000;"></div>
<div class="r" style="left:7px;top:114px;width:1px;height:584px;background:#000;"></div>
<div class="r" style="left:8px;top:114px;width:1px;height:584px;background:#6a6a6a;"></div>
<div class="r" style="left:1277px;top:114px;width:1px;height:584px;background:#000;"></div>
<div class="r" style="left:114px;top:114px;width:1px;height:584px;background:#000;"></div>
<div class="r" style="left:113px;top:114px;width:1px;height:584px;background:#7a7a7a;"></div>
<div class="r" style="left:7px;top:139px;width:1271px;height:1px;background:#333;"></div>
<div class="btn" style="left:27px;top:139px;"><i></i></div>
<div class="btn" style="left:102px;top:139px;"><i></i></div>
<div class="btn" style="left:128px;top:139px;"><i></i></div>
<div class="btn" style="left:141px;top:139px;"><i></i></div>
<div class="btn" style="left:170px;top:139px;"><i></i></div>
<div class="btn" style="left:184px;top:139px;"><i></i></div>
<div class="btn" style="left:212px;top:139px;"><i></i></div>
<div class="btn" style="left:232px;top:139px;"><i></i></div>
<div class="btn" style="left:261px;top:139px;"><i></i></div>
<div class="btn" style="left:276px;top:139px;"><i></i></div>
<div class="btn" style="left:305px;top:139px;"><i></i></div>
<div class="btn" style="left:320px;top:139px;"><i></i></div>
<div class="btn" style="left:348px;top:139px;"><i></i></div>
<div class="btn" style="left:366px;top:139px;"><i></i></div>
<div class="btn" style="left:394px;top:139px;"><i></i></div>
<div class="btn" style="left:414px;top:139px;"><i></i></div>
<div class="btn" style="left:442px;top:139px;"><i></i></div>
<div class="btn" style="left:461px;top:139px;"><i></i></div>
<div class="btn" style="left:490px;top:139px;"><i></i></div>
<div class="btn" style="left:510px;top:139px;"><i></i></div>
<div class="btn" style="left:538px;top:139px;"><i></i></div>
<div class="btn" style="left:557px;top:139px;"><i></i></div>
<div class="btn" style="left:586px;top:139px;"><i></i></div>
<div class="btn" style="left:605px;top:139px;"><i></i></div>
<div class="btn" style="left:633px;top:139px;"><i></i></div>
<div class="btn" style="left:652px;top:139px;"><i></i></div>
<div class="btn" style="left:681px;top:139px;"><i></i></div>
<div class="btn" style="left:700px;top:139px;"><i></i></div>
<div class="btn" style="left:729px;top:139px;"><i></i></div>
<div class="btn" style="left:748px;top:139px;"><i></i></div>
<div class="btn" style="left:776px;top:139px;"><i></i></div>
<div class="btn" style="left:799px;top:139px;"><i></i></div>
<div class="btn" style="left:828px;top:139px;"><i></i></div>
<div class="btn" style="left:848px;top:139px;"><i></i></div>
<div class="btn" style="left:876px;top:139px;"><i></i></div>
<div class="btn" style="left:896px;top:139px;"><i></i></div>
<div class="btn" style="left:924px;top:139px;"><i></i></div>
<div class="btn" style="left:944px;top:139px;"><i></i></div>
<div class="btn" style="left:973px;top:139px;"><i></i></div>
<div class="btn" style="left:993px;top:139px;"><i></i></div>
<div class="btn" style="left:1021px;top:139px;"><i></i></div>
<div class="btn" style="left:1041px;top:139px;"><i></i></div>
<div class="btn" style="left:1069px;top:139px;"><i></i></div>
<div class="btn" style="left:1089px;top:139px;"><i></i></div>
<div class="btn" style="left:1118px;top:139px;"><i></i></div>
<div class="btn" style="left:1138px;top:139px;"><i></i></div>
<div class="btn" style="left:1172px;top:139px;"><i></i></div>
<div class="btn" style="left:1191px;top:139px;"><i></i></div>
<div class="btn" style="left:1219px;top:139px;"><i></i></div>
<div class="btn" style="left:1238px;top:139px;"><i></i></div>
<div class="btn" style="left:1265px;top:139px;"><i></i></div>
<div class="btn" style="left:-5px;top:139px;"><i style="left:4px;border-top-color:#333"></i></div>
<div class="r" style="left:0px;top:697px;width:1280px;height:1px;background:#6b6b6b;"></div>
<div class="r" style="left:330px;top:697px;width:154px;height:1px;background:#F4F4F4;"></div>
</body></html>
